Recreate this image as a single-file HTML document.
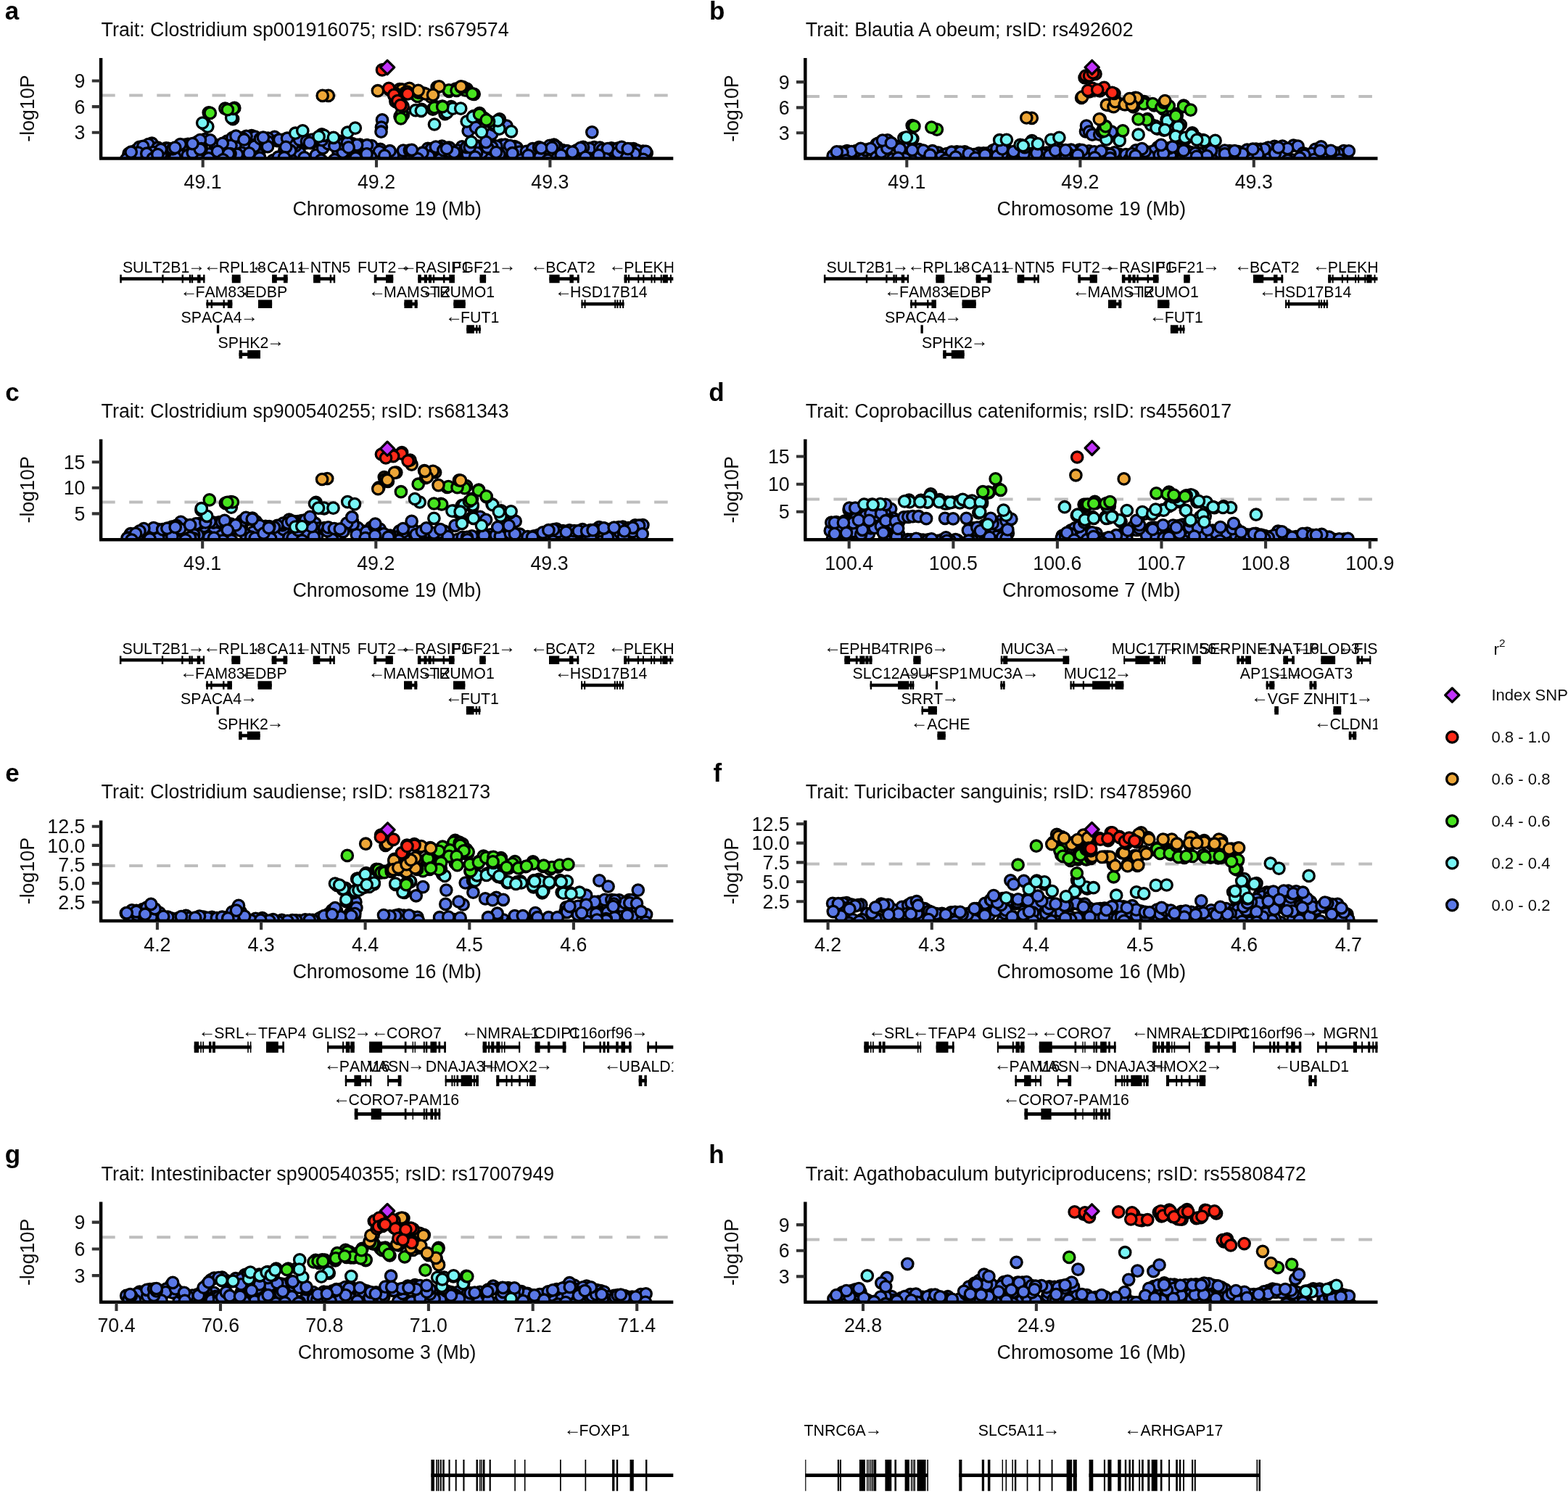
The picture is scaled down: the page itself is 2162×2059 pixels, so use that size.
<!DOCTYPE html>
<html lang="en"><head><meta charset="utf-8"><title>Regional association plots</title>
<style>
html,body{margin:0;padding:0;background:#fff}
body{width:2162px;height:2059px;overflow:hidden}
svg{display:block}
text{font-family:"Liberation Sans",Arial,Helvetica,sans-serif;fill:#000}
.pl{font-weight:700;font-size:35px}
.t,.a{font-size:26.8px;fill:#0d0d0d}
.g{font-size:21.3px;font-kerning:none}
.ar{font-size:24.0px}
.l{font-size:22.1px;fill:#0d0d0d}
.lt{font-size:22.8px;fill:#0d0d0d}
</style></head><body>
<svg width="2162" height="2059" viewBox="0 0 2162 2059">
<rect width="2162" height="2059" fill="#fff"/>
<g id="panel-a">
<text x="6.7" y="26.8" class="pl">a</text>
<text x="139.6" y="50.3" class="t">Trait: Clostridium sp001916075; rsID: rs679574</text>
<clipPath id="cpa"><rect x="140.1" y="72.0" width="788.2" height="144.9"/></clipPath>
<clipPath id="cga"><rect x="137.6" y="318.4" width="790.7" height="300"/></clipPath>
<line x1="140.1" y1="131.6" x2="928.3" y2="131.6" stroke="#bebebe" stroke-width="4" stroke-dasharray="18.6 19.5"/>
<g clip-path="url(#cpa)" stroke="#000" stroke-width="3.3">
<circle cx="519.4" cy="210.2" r="7.7" fill="#5a78e6"/>
<circle cx="557.3" cy="221.2" r="7.7" fill="#5a78e6"/>
<circle cx="466.4" cy="209.3" r="7.7" fill="#5a78e6"/>
<circle cx="709.5" cy="202.1" r="7.7" fill="#5a78e6"/>
<circle cx="712.6" cy="203.7" r="7.7" fill="#5a78e6"/>
<circle cx="313.2" cy="194.5" r="7.7" fill="#5a78e6"/>
<circle cx="846.3" cy="206.1" r="7.7" fill="#5a78e6"/>
<circle cx="738.1" cy="212.9" r="7.7" fill="#5a78e6"/>
<circle cx="283.2" cy="211.9" r="7.7" fill="#5a78e6"/>
<circle cx="472.7" cy="210.0" r="7.7" fill="#5a78e6"/>
<circle cx="296.9" cy="200.1" r="7.7" fill="#5a78e6"/>
<circle cx="272.7" cy="202.0" r="7.7" fill="#5a78e6"/>
<circle cx="589.9" cy="204.8" r="7.7" fill="#5a78e6"/>
<circle cx="408.7" cy="215.2" r="7.7" fill="#5a78e6"/>
<circle cx="459.6" cy="194.9" r="7.7" fill="#5a78e6"/>
<circle cx="177.5" cy="211.9" r="7.7" fill="#5a78e6"/>
<circle cx="391.2" cy="192.5" r="7.7" fill="#5a78e6"/>
<circle cx="320.5" cy="190.0" r="7.7" fill="#5a78e6"/>
<circle cx="429.3" cy="197.2" r="7.7" fill="#5a78e6"/>
<circle cx="869.8" cy="205.8" r="7.7" fill="#5a78e6"/>
<circle cx="744.4" cy="220.4" r="7.7" fill="#5a78e6"/>
<circle cx="250.9" cy="209.2" r="7.7" fill="#5a78e6"/>
<circle cx="226.4" cy="216.3" r="7.7" fill="#5a78e6"/>
<circle cx="549.7" cy="219.6" r="7.7" fill="#5a78e6"/>
<circle cx="209.4" cy="197.7" r="7.7" fill="#5a78e6"/>
<circle cx="466.6" cy="194.4" r="7.7" fill="#5a78e6"/>
<circle cx="788.2" cy="212.7" r="7.7" fill="#5a78e6"/>
<circle cx="486.0" cy="218.8" r="7.7" fill="#5a78e6"/>
<circle cx="620.6" cy="209.7" r="7.7" fill="#5a78e6"/>
<circle cx="344.0" cy="194.9" r="7.7" fill="#5a78e6"/>
<circle cx="665.4" cy="203.1" r="7.7" fill="#5a78e6"/>
<circle cx="337.8" cy="195.4" r="7.7" fill="#5a78e6"/>
<circle cx="781.5" cy="208.0" r="7.7" fill="#5a78e6"/>
<circle cx="585.0" cy="212.5" r="7.7" fill="#5a78e6"/>
<circle cx="200.1" cy="213.5" r="7.7" fill="#5a78e6"/>
<circle cx="720.5" cy="210.5" r="7.7" fill="#5a78e6"/>
<circle cx="279.6" cy="219.9" r="7.7" fill="#5a78e6"/>
<circle cx="378.6" cy="188.9" r="7.7" fill="#5a78e6"/>
<circle cx="369.5" cy="190.6" r="7.7" fill="#5a78e6"/>
<circle cx="637.0" cy="202.4" r="7.7" fill="#5a78e6"/>
<circle cx="346.9" cy="187.2" r="7.7" fill="#5a78e6"/>
<circle cx="351.7" cy="188.7" r="7.7" fill="#5a78e6"/>
<circle cx="204.5" cy="199.0" r="7.7" fill="#5a78e6"/>
<circle cx="841.7" cy="215.8" r="7.7" fill="#5a78e6"/>
<circle cx="364.2" cy="197.8" r="7.7" fill="#5a78e6"/>
<circle cx="413.1" cy="210.8" r="7.7" fill="#5a78e6"/>
<circle cx="326.9" cy="203.8" r="7.7" fill="#5a78e6"/>
<circle cx="254.4" cy="215.5" r="7.7" fill="#5a78e6"/>
<circle cx="659.3" cy="201.5" r="7.7" fill="#5a78e6"/>
<circle cx="182.1" cy="219.4" r="7.7" fill="#5a78e6"/>
<circle cx="217.6" cy="203.7" r="7.7" fill="#5a78e6"/>
<circle cx="855.5" cy="211.4" r="7.7" fill="#5a78e6"/>
<circle cx="297.1" cy="201.0" r="7.7" fill="#5a78e6"/>
<circle cx="631.3" cy="207.5" r="7.7" fill="#5a78e6"/>
<circle cx="229.1" cy="204.4" r="7.7" fill="#5a78e6"/>
<circle cx="556.0" cy="207.6" r="7.7" fill="#5a78e6"/>
<circle cx="691.6" cy="199.8" r="7.7" fill="#5a78e6"/>
<circle cx="401.2" cy="193.7" r="7.7" fill="#5a78e6"/>
<circle cx="447.8" cy="194.5" r="7.7" fill="#5a78e6"/>
<circle cx="754.8" cy="204.4" r="7.7" fill="#5a78e6"/>
<circle cx="661.0" cy="220.0" r="7.7" fill="#5a78e6"/>
<circle cx="311.1" cy="204.6" r="7.7" fill="#5a78e6"/>
<circle cx="763.9" cy="199.5" r="7.7" fill="#5a78e6"/>
<circle cx="567.0" cy="216.2" r="7.7" fill="#5a78e6"/>
<circle cx="775.6" cy="207.0" r="7.7" fill="#5a78e6"/>
<circle cx="299.7" cy="200.6" r="7.7" fill="#5a78e6"/>
<circle cx="819.3" cy="203.1" r="7.7" fill="#5a78e6"/>
<circle cx="517.7" cy="206.6" r="7.7" fill="#5a78e6"/>
<circle cx="407.1" cy="201.4" r="7.7" fill="#5a78e6"/>
<circle cx="421.1" cy="197.4" r="7.7" fill="#5a78e6"/>
<circle cx="376.7" cy="221.0" r="7.7" fill="#5a78e6"/>
<circle cx="188.3" cy="206.5" r="7.7" fill="#5a78e6"/>
<circle cx="769.1" cy="216.7" r="7.7" fill="#5a78e6"/>
<circle cx="767.9" cy="202.5" r="7.7" fill="#5a78e6"/>
<circle cx="253.1" cy="213.7" r="7.7" fill="#5a78e6"/>
<circle cx="357.0" cy="213.2" r="7.7" fill="#5a78e6"/>
<circle cx="467.3" cy="198.4" r="7.7" fill="#5a78e6"/>
<circle cx="782.3" cy="208.5" r="7.7" fill="#5a78e6"/>
<circle cx="696.5" cy="199.7" r="7.7" fill="#5a78e6"/>
<circle cx="638.6" cy="211.8" r="7.7" fill="#5a78e6"/>
<circle cx="708.6" cy="216.5" r="7.7" fill="#5a78e6"/>
<circle cx="691.3" cy="215.8" r="7.7" fill="#5a78e6"/>
<circle cx="716.5" cy="209.5" r="7.7" fill="#5a78e6"/>
<circle cx="339.5" cy="200.4" r="7.7" fill="#5a78e6"/>
<circle cx="232.7" cy="205.5" r="7.7" fill="#5a78e6"/>
<circle cx="239.6" cy="213.4" r="7.7" fill="#5a78e6"/>
<circle cx="595.0" cy="205.2" r="7.7" fill="#5a78e6"/>
<circle cx="524.4" cy="205.8" r="7.7" fill="#5a78e6"/>
<circle cx="410.1" cy="194.9" r="7.7" fill="#5a78e6"/>
<circle cx="744.6" cy="215.9" r="7.7" fill="#5a78e6"/>
<circle cx="664.3" cy="209.0" r="7.7" fill="#5a78e6"/>
<circle cx="211.2" cy="210.0" r="7.7" fill="#5a78e6"/>
<circle cx="392.5" cy="207.0" r="7.7" fill="#5a78e6"/>
<circle cx="891.7" cy="211.2" r="7.7" fill="#5a78e6"/>
<circle cx="757.9" cy="200.9" r="7.7" fill="#5a78e6"/>
<circle cx="259.3" cy="198.8" r="7.7" fill="#5a78e6"/>
<circle cx="403.1" cy="200.3" r="7.7" fill="#5a78e6"/>
<circle cx="812.9" cy="204.7" r="7.7" fill="#5a78e6"/>
<circle cx="672.2" cy="219.9" r="7.7" fill="#5a78e6"/>
<circle cx="413.1" cy="192.7" r="7.7" fill="#5a78e6"/>
<circle cx="530.1" cy="211.6" r="7.7" fill="#5a78e6"/>
<circle cx="698.4" cy="210.3" r="7.7" fill="#5a78e6"/>
<circle cx="878.7" cy="207.5" r="7.7" fill="#5a78e6"/>
<circle cx="488.8" cy="214.9" r="7.7" fill="#5a78e6"/>
<circle cx="254.1" cy="199.8" r="7.7" fill="#5a78e6"/>
<circle cx="434.8" cy="191.9" r="7.7" fill="#5a78e6"/>
<circle cx="382.4" cy="194.2" r="7.7" fill="#5a78e6"/>
<circle cx="640.0" cy="208.4" r="7.7" fill="#5a78e6"/>
<circle cx="827.2" cy="203.6" r="7.7" fill="#5a78e6"/>
<circle cx="400.3" cy="207.7" r="7.7" fill="#5a78e6"/>
<circle cx="730.7" cy="209.4" r="7.7" fill="#5a78e6"/>
<circle cx="241.4" cy="217.0" r="7.7" fill="#5a78e6"/>
<circle cx="192.2" cy="202.8" r="7.7" fill="#5a78e6"/>
<circle cx="333.4" cy="210.8" r="7.7" fill="#5a78e6"/>
<circle cx="798.2" cy="218.4" r="7.7" fill="#5a78e6"/>
<circle cx="843.0" cy="204.3" r="7.7" fill="#5a78e6"/>
<circle cx="804.1" cy="202.9" r="7.7" fill="#5a78e6"/>
<circle cx="845.3" cy="207.6" r="7.7" fill="#5a78e6"/>
<circle cx="512.4" cy="201.1" r="7.7" fill="#5a78e6"/>
<circle cx="533.7" cy="214.0" r="7.7" fill="#5a78e6"/>
<circle cx="288.1" cy="212.4" r="7.7" fill="#5a78e6"/>
<circle cx="205.5" cy="220.2" r="7.7" fill="#5a78e6"/>
<circle cx="764.5" cy="201.2" r="7.7" fill="#5a78e6"/>
<circle cx="232.3" cy="204.8" r="7.7" fill="#5a78e6"/>
<circle cx="886.7" cy="208.6" r="7.7" fill="#5a78e6"/>
<circle cx="813.2" cy="218.6" r="7.7" fill="#5a78e6"/>
<circle cx="664.3" cy="210.4" r="7.7" fill="#5a78e6"/>
<circle cx="369.1" cy="195.3" r="7.7" fill="#5a78e6"/>
<circle cx="339.5" cy="187.8" r="7.7" fill="#5a78e6"/>
<circle cx="726.2" cy="221.1" r="7.7" fill="#5a78e6"/>
<circle cx="601.4" cy="203.3" r="7.7" fill="#5a78e6"/>
<circle cx="873.4" cy="205.0" r="7.7" fill="#5a78e6"/>
<circle cx="358.1" cy="217.7" r="7.7" fill="#5a78e6"/>
<circle cx="542.0" cy="214.4" r="7.7" fill="#5a78e6"/>
<circle cx="452.6" cy="193.6" r="7.7" fill="#5a78e6"/>
<circle cx="429.2" cy="192.9" r="7.7" fill="#5a78e6"/>
<circle cx="318.5" cy="200.7" r="7.7" fill="#5a78e6"/>
<circle cx="271.7" cy="195.9" r="7.7" fill="#5a78e6"/>
<circle cx="627.7" cy="212.5" r="7.7" fill="#5a78e6"/>
<circle cx="725.9" cy="208.8" r="7.7" fill="#5a78e6"/>
<circle cx="609.4" cy="201.6" r="7.7" fill="#5a78e6"/>
<circle cx="282.6" cy="192.1" r="7.7" fill="#5a78e6"/>
<circle cx="327.0" cy="212.7" r="7.7" fill="#5a78e6"/>
<circle cx="594.2" cy="214.8" r="7.7" fill="#5a78e6"/>
<circle cx="605.2" cy="203.7" r="7.7" fill="#5a78e6"/>
<circle cx="703.2" cy="201.0" r="7.7" fill="#5a78e6"/>
<circle cx="718.2" cy="220.5" r="7.7" fill="#5a78e6"/>
<circle cx="496.2" cy="199.6" r="7.7" fill="#5a78e6"/>
<circle cx="878.1" cy="207.7" r="7.7" fill="#5a78e6"/>
<circle cx="383.6" cy="216.7" r="7.7" fill="#5a78e6"/>
<circle cx="287.6" cy="218.4" r="7.7" fill="#5a78e6"/>
<circle cx="317.5" cy="212.1" r="7.7" fill="#5a78e6"/>
<circle cx="197.2" cy="201.9" r="7.7" fill="#5a78e6"/>
<circle cx="315.0" cy="212.0" r="7.7" fill="#5a78e6"/>
<circle cx="422.9" cy="194.9" r="7.7" fill="#5a78e6"/>
<circle cx="679.5" cy="200.6" r="7.7" fill="#5a78e6"/>
<circle cx="684.4" cy="201.5" r="7.7" fill="#5a78e6"/>
<circle cx="351.5" cy="199.8" r="7.7" fill="#5a78e6"/>
<circle cx="369.0" cy="202.2" r="7.7" fill="#5a78e6"/>
<circle cx="688.3" cy="212.9" r="7.7" fill="#5a78e6"/>
<circle cx="485.7" cy="198.1" r="7.7" fill="#5a78e6"/>
<circle cx="830.8" cy="206.3" r="7.7" fill="#5a78e6"/>
<circle cx="258.6" cy="214.6" r="7.7" fill="#5a78e6"/>
<circle cx="644.7" cy="212.5" r="7.7" fill="#5a78e6"/>
<circle cx="818.9" cy="220.5" r="7.7" fill="#5a78e6"/>
<circle cx="523.0" cy="209.0" r="7.7" fill="#5a78e6"/>
<circle cx="643.3" cy="203.0" r="7.7" fill="#5a78e6"/>
<circle cx="306.8" cy="197.8" r="7.7" fill="#5a78e6"/>
<circle cx="385.2" cy="192.6" r="7.7" fill="#5a78e6"/>
<circle cx="435.8" cy="213.9" r="7.7" fill="#5a78e6"/>
<circle cx="289.9" cy="193.3" r="7.7" fill="#5a78e6"/>
<circle cx="396.0" cy="190.7" r="7.7" fill="#5a78e6"/>
<circle cx="734.4" cy="205.2" r="7.7" fill="#5a78e6"/>
<circle cx="473.2" cy="198.6" r="7.7" fill="#5a78e6"/>
<circle cx="678.3" cy="202.8" r="7.7" fill="#5a78e6"/>
<circle cx="537.5" cy="208.2" r="7.7" fill="#5a78e6"/>
<circle cx="350.8" cy="201.9" r="7.7" fill="#5a78e6"/>
<circle cx="272.4" cy="212.4" r="7.7" fill="#5a78e6"/>
<circle cx="705.3" cy="217.2" r="7.7" fill="#5a78e6"/>
<circle cx="743.1" cy="203.2" r="7.7" fill="#5a78e6"/>
<circle cx="275.9" cy="193.1" r="7.7" fill="#5a78e6"/>
<circle cx="238.1" cy="205.3" r="7.7" fill="#5a78e6"/>
<circle cx="617.3" cy="203.8" r="7.7" fill="#5a78e6"/>
<circle cx="728.4" cy="214.4" r="7.7" fill="#5a78e6"/>
<circle cx="505.9" cy="200.2" r="7.7" fill="#5a78e6"/>
<circle cx="794.9" cy="207.4" r="7.7" fill="#5a78e6"/>
<circle cx="394.2" cy="202.8" r="7.7" fill="#5a78e6"/>
<circle cx="190.4" cy="210.6" r="7.7" fill="#5a78e6"/>
<circle cx="869.0" cy="205.6" r="7.7" fill="#5a78e6"/>
<circle cx="851.8" cy="204.6" r="7.7" fill="#5a78e6"/>
<circle cx="492.1" cy="199.9" r="7.7" fill="#5a78e6"/>
<circle cx="591.3" cy="215.6" r="7.7" fill="#5a78e6"/>
<circle cx="829.6" cy="217.8" r="7.7" fill="#5a78e6"/>
<circle cx="890.6" cy="208.8" r="7.7" fill="#5a78e6"/>
<circle cx="654.2" cy="200.9" r="7.7" fill="#5a78e6"/>
<circle cx="773.6" cy="214.1" r="7.7" fill="#5a78e6"/>
<circle cx="442.9" cy="220.8" r="7.7" fill="#5a78e6"/>
<circle cx="606.9" cy="219.9" r="7.7" fill="#5a78e6"/>
<circle cx="202.3" cy="211.7" r="7.7" fill="#5a78e6"/>
<circle cx="222.2" cy="212.6" r="7.7" fill="#5a78e6"/>
<circle cx="886.8" cy="219.8" r="7.7" fill="#5a78e6"/>
<circle cx="333.6" cy="190.2" r="7.7" fill="#5a78e6"/>
<circle cx="657.2" cy="210.8" r="7.7" fill="#5a78e6"/>
<circle cx="325.4" cy="187.6" r="7.7" fill="#5a78e6"/>
<circle cx="647.7" cy="202.9" r="7.7" fill="#5a78e6"/>
<circle cx="619.7" cy="203.7" r="7.7" fill="#5a78e6"/>
<circle cx="265.9" cy="203.6" r="7.7" fill="#5a78e6"/>
<circle cx="248.6" cy="199.0" r="7.7" fill="#5a78e6"/>
<circle cx="343.6" cy="211.3" r="7.7" fill="#5a78e6"/>
<circle cx="800.3" cy="204.1" r="7.7" fill="#5a78e6"/>
<circle cx="461.5" cy="220.3" r="7.7" fill="#5a78e6"/>
<circle cx="210.8" cy="218.7" r="7.7" fill="#5a78e6"/>
<circle cx="672.0" cy="203.3" r="7.7" fill="#5a78e6"/>
<circle cx="837.9" cy="205.0" r="7.7" fill="#5a78e6"/>
<circle cx="448.8" cy="195.3" r="7.7" fill="#5a78e6"/>
<circle cx="600.9" cy="202.6" r="7.7" fill="#5a78e6"/>
<circle cx="746.3" cy="204.3" r="7.7" fill="#5a78e6"/>
<circle cx="706.5" cy="211.2" r="7.7" fill="#5a78e6"/>
<circle cx="478.8" cy="196.8" r="7.7" fill="#5a78e6"/>
<circle cx="684.1" cy="210.0" r="7.7" fill="#5a78e6"/>
<circle cx="300.0" cy="208.9" r="7.7" fill="#5a78e6"/>
<circle cx="277.7" cy="205.1" r="7.7" fill="#5a78e6"/>
<circle cx="265.7" cy="210.6" r="7.7" fill="#5a78e6"/>
<circle cx="511.1" cy="216.7" r="7.7" fill="#5a78e6"/>
<circle cx="611.4" cy="207.2" r="7.7" fill="#5a78e6"/>
<circle cx="391.9" cy="217.2" r="7.7" fill="#5a78e6"/>
<circle cx="359.0" cy="191.2" r="7.7" fill="#5a78e6"/>
<circle cx="564.8" cy="207.3" r="7.7" fill="#5a78e6"/>
<circle cx="530.3" cy="214.6" r="7.7" fill="#5a78e6"/>
<circle cx="582.5" cy="210.7" r="7.7" fill="#5a78e6"/>
<circle cx="575.8" cy="219.1" r="7.7" fill="#5a78e6"/>
<circle cx="336.5" cy="192.5" r="7.7" fill="#5a78e6"/>
<circle cx="221.8" cy="206.1" r="7.7" fill="#5a78e6"/>
<circle cx="217.4" cy="213.1" r="7.7" fill="#5a78e6"/>
<circle cx="626.1" cy="210.0" r="7.7" fill="#5a78e6"/>
<circle cx="307.5" cy="220.4" r="7.7" fill="#5a78e6"/>
<circle cx="480.6" cy="203.4" r="7.7" fill="#5a78e6"/>
<circle cx="852.0" cy="210.5" r="7.7" fill="#5a78e6"/>
<circle cx="497.3" cy="217.7" r="7.7" fill="#5a78e6"/>
<circle cx="755.4" cy="220.9" r="7.7" fill="#5a78e6"/>
<circle cx="874.7" cy="212.1" r="7.7" fill="#5a78e6"/>
<circle cx="567.8" cy="206.8" r="7.7" fill="#5a78e6"/>
<circle cx="426.8" cy="196.9" r="7.7" fill="#5a78e6"/>
<circle cx="761.1" cy="203.6" r="7.7" fill="#5a78e6"/>
<circle cx="616.0" cy="205.0" r="7.7" fill="#5a78e6"/>
<circle cx="174.2" cy="219.8" r="7.7" fill="#5a78e6"/>
<circle cx="362.9" cy="189.6" r="7.7" fill="#5a78e6"/>
<circle cx="445.1" cy="204.3" r="7.7" fill="#5a78e6"/>
<circle cx="834.9" cy="219.0" r="7.7" fill="#5a78e6"/>
<circle cx="241.3" cy="203.6" r="7.7" fill="#5a78e6"/>
<circle cx="864.2" cy="217.6" r="7.7" fill="#5a78e6"/>
<circle cx="452.6" cy="198.2" r="7.7" fill="#5a78e6"/>
<circle cx="180.7" cy="209.7" r="7.7" fill="#5a78e6"/>
<circle cx="807.3" cy="216.9" r="7.7" fill="#5a78e6"/>
<circle cx="825.5" cy="214.1" r="7.7" fill="#5a78e6"/>
<circle cx="857.2" cy="202.8" r="7.7" fill="#5a78e6"/>
<circle cx="275.8" cy="205.8" r="7.7" fill="#5a78e6"/>
<circle cx="461.4" cy="201.2" r="7.7" fill="#5a78e6"/>
<circle cx="443.9" cy="193.1" r="7.7" fill="#5a78e6"/>
<circle cx="490.4" cy="217.9" r="7.7" fill="#5a78e6"/>
<circle cx="865.8" cy="205.1" r="7.7" fill="#5a78e6"/>
<circle cx="265.4" cy="198.1" r="7.7" fill="#5a78e6"/>
<circle cx="505.5" cy="212.4" r="7.7" fill="#5a78e6"/>
<circle cx="789.2" cy="209.6" r="7.7" fill="#5a78e6"/>
<circle cx="655.1" cy="216.6" r="7.7" fill="#5a78e6"/>
<circle cx="419.7" cy="217.3" r="7.7" fill="#5a78e6"/>
<circle cx="527.0" cy="165.4" r="7.7" fill="#5a78e6"/>
<circle cx="525.9" cy="175.6" r="7.7" fill="#5a78e6"/>
<circle cx="525.5" cy="181.7" r="7.7" fill="#5a78e6"/>
<circle cx="645.7" cy="180.7" r="7.7" fill="#5a78e6"/>
<circle cx="678.2" cy="184.7" r="7.7" fill="#5a78e6"/>
<circle cx="670.1" cy="195.9" r="7.7" fill="#5a78e6"/>
<circle cx="655.9" cy="175.6" r="7.7" fill="#5a78e6"/>
<circle cx="698.5" cy="173.6" r="7.7" fill="#5a78e6"/>
<circle cx="816.3" cy="182.3" r="7.7" fill="#5a78e6"/>
<circle cx="283.4" cy="172.2" r="7.7" fill="#78f5f5"/>
<circle cx="280.3" cy="170.1" r="7.7" fill="#78f5f5"/>
<circle cx="321.1" cy="164.2" r="7.7" fill="#78f5f5"/>
<circle cx="443.7" cy="185.3" r="7.7" fill="#78f5f5"/>
<circle cx="581.3" cy="150.9" r="7.7" fill="#78f5f5"/>
<circle cx="613.5" cy="157.1" r="7.7" fill="#78f5f5"/>
<circle cx="622.1" cy="147.1" r="7.7" fill="#78f5f5"/>
<circle cx="653.1" cy="160.2" r="7.7" fill="#78f5f5"/>
<circle cx="680.7" cy="172.4" r="7.7" fill="#78f5f5"/>
<circle cx="686.2" cy="175.3" r="7.7" fill="#78f5f5"/>
<circle cx="688.8" cy="164.4" r="7.7" fill="#78f5f5"/>
<circle cx="286.3" cy="174.6" r="7.7" fill="#78f5f5"/>
<circle cx="279.2" cy="169.5" r="7.7" fill="#78f5f5"/>
<circle cx="319.2" cy="162.4" r="7.7" fill="#78f5f5"/>
<circle cx="407.2" cy="183.7" r="7.7" fill="#78f5f5"/>
<circle cx="417.3" cy="180.3" r="7.7" fill="#78f5f5"/>
<circle cx="446.8" cy="186.8" r="7.7" fill="#78f5f5"/>
<circle cx="439.6" cy="188.4" r="7.7" fill="#78f5f5"/>
<circle cx="459.9" cy="189.8" r="7.7" fill="#78f5f5"/>
<circle cx="479.2" cy="182.7" r="7.7" fill="#78f5f5"/>
<circle cx="489.8" cy="176.6" r="7.7" fill="#78f5f5"/>
<circle cx="573.0" cy="152.2" r="7.7" fill="#78f5f5"/>
<circle cx="580.8" cy="152.8" r="7.7" fill="#78f5f5"/>
<circle cx="599.0" cy="171.5" r="7.7" fill="#78f5f5"/>
<circle cx="616.3" cy="155.3" r="7.7" fill="#78f5f5"/>
<circle cx="624.4" cy="149.6" r="7.7" fill="#78f5f5"/>
<circle cx="635.2" cy="149.6" r="7.7" fill="#78f5f5"/>
<circle cx="643.7" cy="167.5" r="7.7" fill="#78f5f5"/>
<circle cx="651.8" cy="161.4" r="7.7" fill="#78f5f5"/>
<circle cx="680.3" cy="170.5" r="7.7" fill="#78f5f5"/>
<circle cx="688.4" cy="177.6" r="7.7" fill="#78f5f5"/>
<circle cx="705.0" cy="181.3" r="7.7" fill="#78f5f5"/>
<circle cx="664.0" cy="182.1" r="7.7" fill="#78f5f5"/>
<circle cx="649.8" cy="195.9" r="7.7" fill="#78f5f5"/>
<circle cx="686.3" cy="166.4" r="7.7" fill="#78f5f5"/>
<circle cx="287.7" cy="155.3" r="7.7" fill="#47e41f"/>
<circle cx="323.3" cy="148.9" r="7.7" fill="#47e41f"/>
<circle cx="310.4" cy="149.6" r="7.7" fill="#47e41f"/>
<circle cx="619.1" cy="126.0" r="7.7" fill="#47e41f"/>
<circle cx="628.2" cy="122.7" r="7.7" fill="#47e41f"/>
<circle cx="643.7" cy="122.6" r="7.7" fill="#47e41f"/>
<circle cx="653.7" cy="129.8" r="7.7" fill="#47e41f"/>
<circle cx="575.7" cy="131.3" r="7.7" fill="#47e41f"/>
<circle cx="572.9" cy="130.7" r="7.7" fill="#47e41f"/>
<circle cx="555.9" cy="158.4" r="7.7" fill="#47e41f"/>
<circle cx="551.5" cy="160.7" r="7.7" fill="#47e41f"/>
<circle cx="596.8" cy="150.6" r="7.7" fill="#47e41f"/>
<circle cx="601.6" cy="147.3" r="7.7" fill="#47e41f"/>
<circle cx="609.9" cy="146.5" r="7.7" fill="#47e41f"/>
<circle cx="661.2" cy="156.2" r="7.7" fill="#47e41f"/>
<circle cx="667.5" cy="162.9" r="7.7" fill="#47e41f"/>
<circle cx="674.1" cy="167.5" r="7.7" fill="#47e41f"/>
<circle cx="289.8" cy="155.9" r="7.7" fill="#47e41f"/>
<circle cx="321.9" cy="149.8" r="7.7" fill="#47e41f"/>
<circle cx="313.8" cy="151.2" r="7.7" fill="#47e41f"/>
<circle cx="618.9" cy="124.4" r="7.7" fill="#47e41f"/>
<circle cx="629.5" cy="124.8" r="7.7" fill="#47e41f"/>
<circle cx="641.7" cy="124.4" r="7.7" fill="#47e41f"/>
<circle cx="651.2" cy="129.3" r="7.7" fill="#47e41f"/>
<circle cx="575.7" cy="132.9" r="7.7" fill="#47e41f"/>
<circle cx="554.0" cy="156.3" r="7.7" fill="#47e41f"/>
<circle cx="552.7" cy="163.4" r="7.7" fill="#47e41f"/>
<circle cx="599.0" cy="148.2" r="7.7" fill="#47e41f"/>
<circle cx="610.2" cy="147.2" r="7.7" fill="#47e41f"/>
<circle cx="661.0" cy="157.7" r="7.7" fill="#47e41f"/>
<circle cx="670.7" cy="165.4" r="7.7" fill="#47e41f"/>
<circle cx="553.9" cy="123.4" r="7.7" fill="#eda637"/>
<circle cx="551.0" cy="123.1" r="7.7" fill="#eda637"/>
<circle cx="561.2" cy="123.4" r="7.7" fill="#eda637"/>
<circle cx="563.1" cy="124.1" r="7.7" fill="#eda637"/>
<circle cx="584.4" cy="128.5" r="7.7" fill="#eda637"/>
<circle cx="602.6" cy="120.2" r="7.7" fill="#eda637"/>
<circle cx="638.5" cy="120.1" r="7.7" fill="#eda637"/>
<circle cx="636.0" cy="120.1" r="7.7" fill="#eda637"/>
<circle cx="594.3" cy="133.7" r="7.7" fill="#eda637"/>
<circle cx="578.1" cy="127.3" r="7.7" fill="#eda637"/>
<circle cx="576.8" cy="127.6" r="7.7" fill="#eda637"/>
<circle cx="452.8" cy="131.9" r="7.7" fill="#eda637"/>
<circle cx="444.7" cy="131.9" r="7.7" fill="#eda637"/>
<circle cx="520.9" cy="125.2" r="7.7" fill="#eda637"/>
<circle cx="554.4" cy="123.8" r="7.7" fill="#eda637"/>
<circle cx="564.5" cy="121.8" r="7.7" fill="#eda637"/>
<circle cx="586.9" cy="129.5" r="7.7" fill="#eda637"/>
<circle cx="605.5" cy="119.3" r="7.7" fill="#eda637"/>
<circle cx="635.6" cy="119.3" r="7.7" fill="#eda637"/>
<circle cx="597.0" cy="130.9" r="7.7" fill="#eda637"/>
<circle cx="576.7" cy="124.8" r="7.7" fill="#eda637"/>
<circle cx="537.3" cy="123.9" r="7.7" fill="#ff2a18"/>
<circle cx="543.9" cy="132.4" r="7.7" fill="#ff2a18"/>
<circle cx="546.2" cy="129.6" r="7.7" fill="#ff2a18"/>
<circle cx="545.1" cy="136.3" r="7.7" fill="#ff2a18"/>
<circle cx="545.4" cy="140.0" r="7.7" fill="#ff2a18"/>
<circle cx="559.2" cy="127.5" r="7.7" fill="#ff2a18"/>
<circle cx="561.2" cy="126.6" r="7.7" fill="#ff2a18"/>
<circle cx="554.1" cy="144.8" r="7.7" fill="#ff2a18"/>
<circle cx="555.7" cy="146.9" r="7.7" fill="#ff2a18"/>
<circle cx="527.0" cy="96.4" r="7.7" fill="#ff2a18"/>
<circle cx="536.1" cy="121.8" r="7.7" fill="#ff2a18"/>
<circle cx="543.2" cy="130.9" r="7.7" fill="#ff2a18"/>
<circle cx="548.3" cy="139.0" r="7.7" fill="#ff2a18"/>
<circle cx="562.1" cy="129.5" r="7.7" fill="#ff2a18"/>
<circle cx="552.3" cy="145.1" r="7.7" fill="#ff2a18"/>
<path d="M534.1 83.3L543.7 92.9L534.1 102.5L524.5 92.9Z" fill="#c132fb" stroke="#000" stroke-width="3.3" stroke-linejoin="round"/>
</g>
<path d="M139.1 80.0V218.4M137.0 218.4H928.3" stroke="#000" stroke-width="4.5" fill="none"/>
<text x="117.5" y="121.1" class="a" text-anchor="end">9</text>
<text x="117.5" y="156.7" class="a" text-anchor="end">6</text>
<text x="117.5" y="192.4" class="a" text-anchor="end">3</text>
<text x="279.7" y="259.9" class="a" text-anchor="middle">49.1</text>
<text x="519.0" y="259.9" class="a" text-anchor="middle">49.2</text>
<text x="758.4" y="259.9" class="a" text-anchor="middle">49.3</text>
<path d="M126.8 111.5H138.1M126.8 147.1H138.1M126.8 182.8H138.1M279.7 219.4V230.7M519.0 219.4V230.7M758.4 219.4V230.7" stroke="#333" stroke-width="4.1" fill="none"/>
<text x="533.7" y="296.9" class="a" text-anchor="middle">Chromosome 19 (Mb)</text>
<text transform="translate(46.8 149.5) rotate(-90)" class="a" text-anchor="middle">-log10P</text>
<g clip-path="url(#cga)">
<text x="168.9" y="375.7" class="g">SULT2B1<tspan class="ar" dx="-2.3" dy="-1.6">→</tspan></text>
<text x="280.7" y="375.7" class="g"><tspan class="ar" dy="-1.6">←</tspan><tspan dx="-3.0" dy="1.6">RPL18</tspan></text>
<text x="346.5" y="375.7" class="g"><tspan class="ar" dy="-1.6">←</tspan><tspan dx="-2.4" dy="1.6">CA11</tspan></text>
<text x="406.8" y="375.7" class="g"><tspan class="ar" dy="-1.6">←</tspan><tspan dx="-3.0" dy="1.6">NTN5</tspan></text>
<text x="493.1" y="375.7" class="g">FUT2<tspan class="ar" dx="-2.4" dy="-1.6">→</tspan></text>
<text x="551.3" y="375.7" class="g"><tspan class="ar" dy="-1.6">←</tspan><tspan dx="-3.0" dy="1.6">RASIP1</tspan></text>
<text x="623.4" y="375.7" class="g">FGF21<tspan class="ar" dx="-2.3" dy="-1.6">→</tspan></text>
<text x="731.3" y="375.7" class="g"><tspan class="ar" dy="-1.6">←</tspan><tspan dx="-3.0" dy="1.6">BCAT2</tspan></text>
<text x="839.2" y="375.7" class="g"><tspan class="ar" dy="-1.6">←</tspan><tspan dx="-3.0" dy="1.6">PLEKHA4</tspan></text>
<text x="248.4" y="410.4" class="g"><tspan class="ar" dy="-1.6">←</tspan><tspan dx="-3.0" dy="1.6">FAM83E</tspan></text>
<text x="331.3" y="410.4" class="g"><tspan class="ar" dy="-1.6">←</tspan><tspan dx="-3.0" dy="1.6">DBP</tspan></text>
<text x="508.0" y="410.4" class="g"><tspan class="ar" dy="-1.6">←</tspan><tspan dx="-3.0" dy="1.6">MAMSTR</tspan></text>
<text x="581.0" y="410.4" class="g"><tspan class="ar" dy="-1.6">←</tspan><tspan dx="-3.3" dy="1.6">IZUMO1</tspan></text>
<text x="765.1" y="410.4" class="g"><tspan class="ar" dy="-1.6">←</tspan><tspan dx="-3.0" dy="1.6">HSD17B14</tspan></text>
<text x="249.5" y="445.2" class="g">SPACA4<tspan class="ar" dx="-1.9" dy="-1.6">→</tspan></text>
<text x="614.1" y="445.2" class="g"><tspan class="ar" dy="-1.6">←</tspan><tspan dx="-3.0" dy="1.6">FUT1</tspan></text>
<text x="300.5" y="479.9" class="g">SPHK2<tspan class="ar" dx="-2.4" dy="-1.6">→</tspan></text>
<path d="M165.5 384.5H282.3M319.8 384.5H331.6M375.1 384.5H396.6M432.1 384.5H462.0M515.8 384.5H542.2M576.3 384.5H626.9M661.6 384.5H670.1M757.4 384.5H798.6M860.6 384.5H938.9M284.3 419.2H320.3M356.0 419.2H375.1M557.4 419.2H575.7M625.4 419.2H641.7M801.5 419.2H860.6M643.3 454.0H663.0M329.6 488.8H359.0" stroke="#000" stroke-width="4.4" fill="none"/>
<path d="M165.3 378.7H167.8V390.3H165.3ZM223.2 378.7H225.6V390.3H223.2ZM250.6 378.7H253.0V390.3H250.6ZM260.8 378.7H263.2V390.3H260.8ZM263.8 378.7H266.2V390.3H263.8ZM280.1 378.7H282.5V390.3H280.1ZM272.1 378.7H276.6V390.3H272.1ZM319.8 378.7H331.6V390.3H319.8ZM375.1 378.7H381.8V390.3H375.1ZM390.9 378.7H396.6V390.3H390.9ZM432.1 378.7H441.7V390.3H432.1ZM454.7 378.7H457.1V390.3H454.7ZM459.7 378.7H462.2V390.3H459.7ZM515.8 378.7H519.4V390.3H515.8ZM532.0 378.7H542.2V390.3H532.0ZM576.3 378.7H580.8V390.3H576.3ZM584.8 378.7H588.9V390.3H584.8ZM590.9 378.7H595.0V390.3H590.9ZM619.3 378.7H626.9V390.3H619.3ZM596.8 378.7H599.2V390.3H596.8ZM611.0 378.7H613.5V390.3H611.0ZM661.6 378.7H670.1V390.3H661.6ZM757.4 378.7H771.6V390.3H757.4ZM785.4 378.7H790.9V390.3H785.4ZM795.8 378.7H798.6V390.3H795.8ZM860.6 378.7H864.6V390.3H860.6ZM913.8 378.7H920.9V390.3H913.8ZM866.0 378.7H868.1V390.3H866.0ZM879.2 378.7H881.3V390.3H879.2ZM886.3 378.7H888.4V390.3H886.3ZM897.5 378.7H899.5V390.3H897.5ZM901.6 378.7H903.6V390.3H901.6ZM910.7 378.7H912.7V390.3H910.7ZM923.9 378.7H925.9V390.3H923.9ZM284.7 413.4H287.2V425.1H284.7ZM290.6 413.4H293.0V425.1H290.6ZM307.5 413.4H309.9V425.1H307.5ZM313.8 413.4H320.3V425.1H313.8ZM356.0 413.4H375.1V425.1H356.0ZM557.4 413.4H568.6V425.1H557.4ZM571.6 413.4H575.7V425.1H571.6ZM625.4 413.4H641.7V425.1H625.4ZM801.5 413.4H803.5V425.1H801.5ZM805.5 413.4H807.6V425.1H805.5ZM847.2 413.4H849.2V425.1H847.2ZM850.4 413.4H852.4V425.1H850.4ZM854.3 413.4H856.3V425.1H854.3ZM858.1 413.4H860.2V425.1H858.1ZM298.9 448.2H302.2V459.8H298.9ZM643.3 448.2H653.9V459.8H643.3ZM656.1 448.2H658.5V459.8H656.1ZM660.2 448.2H662.6V459.8H660.2ZM329.6 482.9H334.1V494.6H329.6ZM341.2 482.9H359.0V494.6H341.2Z" fill="#000"/>
</g>
</g>
<g id="panel-b">
<text x="978.0" y="26.8" class="pl">b</text>
<text x="1110.8" y="50.3" class="t">Trait: Blautia A obeum; rsID: rs492602</text>
<clipPath id="cpb"><rect x="1111.3" y="72.0" width="788.2" height="144.9"/></clipPath>
<clipPath id="cgb"><rect x="1108.8" y="318.4" width="790.7" height="300"/></clipPath>
<line x1="1111.3" y1="133.1" x2="1899.5" y2="133.1" stroke="#bebebe" stroke-width="4" stroke-dasharray="18.6 19.5"/>
<g clip-path="url(#cpb)" stroke="#000" stroke-width="3.3">
<circle cx="1349.7" cy="211.3" r="7.7" fill="#5a78e6"/>
<circle cx="1573.3" cy="216.8" r="7.7" fill="#5a78e6"/>
<circle cx="1659.6" cy="211.2" r="7.7" fill="#5a78e6"/>
<circle cx="1853.1" cy="215.9" r="7.7" fill="#5a78e6"/>
<circle cx="1276.7" cy="218.2" r="7.7" fill="#5a78e6"/>
<circle cx="1579.1" cy="212.1" r="7.7" fill="#5a78e6"/>
<circle cx="1609.1" cy="216.1" r="7.7" fill="#5a78e6"/>
<circle cx="1208.6" cy="198.9" r="7.7" fill="#5a78e6"/>
<circle cx="1852.7" cy="208.1" r="7.7" fill="#5a78e6"/>
<circle cx="1195.4" cy="206.6" r="7.7" fill="#5a78e6"/>
<circle cx="1621.3" cy="203.5" r="7.7" fill="#5a78e6"/>
<circle cx="1436.4" cy="212.2" r="7.7" fill="#5a78e6"/>
<circle cx="1293.8" cy="210.6" r="7.7" fill="#5a78e6"/>
<circle cx="1440.4" cy="214.3" r="7.7" fill="#5a78e6"/>
<circle cx="1174.4" cy="215.8" r="7.7" fill="#5a78e6"/>
<circle cx="1329.2" cy="216.6" r="7.7" fill="#5a78e6"/>
<circle cx="1416.0" cy="214.7" r="7.7" fill="#5a78e6"/>
<circle cx="1738.2" cy="205.8" r="7.7" fill="#5a78e6"/>
<circle cx="1813.7" cy="205.8" r="7.7" fill="#5a78e6"/>
<circle cx="1707.2" cy="209.1" r="7.7" fill="#5a78e6"/>
<circle cx="1188.6" cy="213.4" r="7.7" fill="#5a78e6"/>
<circle cx="1783.6" cy="200.7" r="7.7" fill="#5a78e6"/>
<circle cx="1200.7" cy="205.9" r="7.7" fill="#5a78e6"/>
<circle cx="1621.5" cy="205.8" r="7.7" fill="#5a78e6"/>
<circle cx="1726.1" cy="209.9" r="7.7" fill="#5a78e6"/>
<circle cx="1789.6" cy="201.5" r="7.7" fill="#5a78e6"/>
<circle cx="1167.9" cy="208.1" r="7.7" fill="#5a78e6"/>
<circle cx="1676.6" cy="216.7" r="7.7" fill="#5a78e6"/>
<circle cx="1566.2" cy="207.4" r="7.7" fill="#5a78e6"/>
<circle cx="1745.2" cy="217.7" r="7.7" fill="#5a78e6"/>
<circle cx="1299.5" cy="214.4" r="7.7" fill="#5a78e6"/>
<circle cx="1390.1" cy="208.7" r="7.7" fill="#5a78e6"/>
<circle cx="1443.3" cy="210.6" r="7.7" fill="#5a78e6"/>
<circle cx="1677.7" cy="210.4" r="7.7" fill="#5a78e6"/>
<circle cx="1242.1" cy="207.3" r="7.7" fill="#5a78e6"/>
<circle cx="1768.9" cy="211.8" r="7.7" fill="#5a78e6"/>
<circle cx="1801.0" cy="212.7" r="7.7" fill="#5a78e6"/>
<circle cx="1210.9" cy="197.5" r="7.7" fill="#5a78e6"/>
<circle cx="1264.6" cy="208.9" r="7.7" fill="#5a78e6"/>
<circle cx="1361.6" cy="211.3" r="7.7" fill="#5a78e6"/>
<circle cx="1837.6" cy="212.9" r="7.7" fill="#5a78e6"/>
<circle cx="1749.4" cy="204.4" r="7.7" fill="#5a78e6"/>
<circle cx="1369.2" cy="207.3" r="7.7" fill="#5a78e6"/>
<circle cx="1448.9" cy="210.1" r="7.7" fill="#5a78e6"/>
<circle cx="1237.5" cy="202.1" r="7.7" fill="#5a78e6"/>
<circle cx="1695.3" cy="208.0" r="7.7" fill="#5a78e6"/>
<circle cx="1643.7" cy="211.2" r="7.7" fill="#5a78e6"/>
<circle cx="1193.2" cy="206.9" r="7.7" fill="#5a78e6"/>
<circle cx="1614.0" cy="213.6" r="7.7" fill="#5a78e6"/>
<circle cx="1319.4" cy="209.3" r="7.7" fill="#5a78e6"/>
<circle cx="1151.6" cy="217.9" r="7.7" fill="#5a78e6"/>
<circle cx="1159.1" cy="218.5" r="7.7" fill="#5a78e6"/>
<circle cx="1223.8" cy="193.3" r="7.7" fill="#5a78e6"/>
<circle cx="1330.2" cy="209.4" r="7.7" fill="#5a78e6"/>
<circle cx="1279.8" cy="210.1" r="7.7" fill="#5a78e6"/>
<circle cx="1625.6" cy="205.7" r="7.7" fill="#5a78e6"/>
<circle cx="1482.0" cy="209.5" r="7.7" fill="#5a78e6"/>
<circle cx="1586.8" cy="209.6" r="7.7" fill="#5a78e6"/>
<circle cx="1465.7" cy="219.1" r="7.7" fill="#5a78e6"/>
<circle cx="1547.9" cy="219.5" r="7.7" fill="#5a78e6"/>
<circle cx="1543.5" cy="212.9" r="7.7" fill="#5a78e6"/>
<circle cx="1782.4" cy="220.6" r="7.7" fill="#5a78e6"/>
<circle cx="1552.4" cy="213.2" r="7.7" fill="#5a78e6"/>
<circle cx="1267.4" cy="206.2" r="7.7" fill="#5a78e6"/>
<circle cx="1406.5" cy="210.4" r="7.7" fill="#5a78e6"/>
<circle cx="1631.1" cy="218.2" r="7.7" fill="#5a78e6"/>
<circle cx="1737.2" cy="217.1" r="7.7" fill="#5a78e6"/>
<circle cx="1512.7" cy="221.3" r="7.7" fill="#5a78e6"/>
<circle cx="1374.4" cy="204.9" r="7.7" fill="#5a78e6"/>
<circle cx="1808.2" cy="211.8" r="7.7" fill="#5a78e6"/>
<circle cx="1422.5" cy="212.9" r="7.7" fill="#5a78e6"/>
<circle cx="1158.2" cy="209.7" r="7.7" fill="#5a78e6"/>
<circle cx="1757.3" cy="201.9" r="7.7" fill="#5a78e6"/>
<circle cx="1391.3" cy="220.6" r="7.7" fill="#5a78e6"/>
<circle cx="1200.2" cy="205.1" r="7.7" fill="#5a78e6"/>
<circle cx="1557.5" cy="219.5" r="7.7" fill="#5a78e6"/>
<circle cx="1501.5" cy="208.4" r="7.7" fill="#5a78e6"/>
<circle cx="1356.1" cy="211.4" r="7.7" fill="#5a78e6"/>
<circle cx="1636.1" cy="207.8" r="7.7" fill="#5a78e6"/>
<circle cx="1523.8" cy="211.4" r="7.7" fill="#5a78e6"/>
<circle cx="1536.6" cy="210.4" r="7.7" fill="#5a78e6"/>
<circle cx="1827.3" cy="209.1" r="7.7" fill="#5a78e6"/>
<circle cx="1631.1" cy="208.5" r="7.7" fill="#5a78e6"/>
<circle cx="1251.1" cy="210.7" r="7.7" fill="#5a78e6"/>
<circle cx="1612.8" cy="204.0" r="7.7" fill="#5a78e6"/>
<circle cx="1821.6" cy="202.4" r="7.7" fill="#5a78e6"/>
<circle cx="1428.0" cy="219.1" r="7.7" fill="#5a78e6"/>
<circle cx="1591.5" cy="214.4" r="7.7" fill="#5a78e6"/>
<circle cx="1560.8" cy="212.0" r="7.7" fill="#5a78e6"/>
<circle cx="1857.8" cy="219.8" r="7.7" fill="#5a78e6"/>
<circle cx="1651.3" cy="211.8" r="7.7" fill="#5a78e6"/>
<circle cx="1526.7" cy="211.6" r="7.7" fill="#5a78e6"/>
<circle cx="1488.4" cy="206.7" r="7.7" fill="#5a78e6"/>
<circle cx="1230.9" cy="219.3" r="7.7" fill="#5a78e6"/>
<circle cx="1285.7" cy="208.2" r="7.7" fill="#5a78e6"/>
<circle cx="1596.6" cy="203.1" r="7.7" fill="#5a78e6"/>
<circle cx="1796.7" cy="211.3" r="7.7" fill="#5a78e6"/>
<circle cx="1591.2" cy="208.3" r="7.7" fill="#5a78e6"/>
<circle cx="1768.3" cy="201.5" r="7.7" fill="#5a78e6"/>
<circle cx="1437.4" cy="213.2" r="7.7" fill="#5a78e6"/>
<circle cx="1859.8" cy="208.3" r="7.7" fill="#5a78e6"/>
<circle cx="1775.5" cy="221.1" r="7.7" fill="#5a78e6"/>
<circle cx="1252.8" cy="205.7" r="7.7" fill="#5a78e6"/>
<circle cx="1476.9" cy="206.7" r="7.7" fill="#5a78e6"/>
<circle cx="1208.0" cy="217.1" r="7.7" fill="#5a78e6"/>
<circle cx="1348.3" cy="217.6" r="7.7" fill="#5a78e6"/>
<circle cx="1530.4" cy="212.7" r="7.7" fill="#5a78e6"/>
<circle cx="1672.2" cy="217.8" r="7.7" fill="#5a78e6"/>
<circle cx="1343.5" cy="213.1" r="7.7" fill="#5a78e6"/>
<circle cx="1264.1" cy="218.7" r="7.7" fill="#5a78e6"/>
<circle cx="1665.6" cy="208.7" r="7.7" fill="#5a78e6"/>
<circle cx="1180.2" cy="208.2" r="7.7" fill="#5a78e6"/>
<circle cx="1453.9" cy="215.7" r="7.7" fill="#5a78e6"/>
<circle cx="1844.6" cy="211.2" r="7.7" fill="#5a78e6"/>
<circle cx="1462.4" cy="206.6" r="7.7" fill="#5a78e6"/>
<circle cx="1839.1" cy="210.2" r="7.7" fill="#5a78e6"/>
<circle cx="1305.5" cy="212.1" r="7.7" fill="#5a78e6"/>
<circle cx="1583.8" cy="215.1" r="7.7" fill="#5a78e6"/>
<circle cx="1474.6" cy="213.1" r="7.7" fill="#5a78e6"/>
<circle cx="1652.8" cy="211.0" r="7.7" fill="#5a78e6"/>
<circle cx="1748.7" cy="203.5" r="7.7" fill="#5a78e6"/>
<circle cx="1743.3" cy="205.6" r="7.7" fill="#5a78e6"/>
<circle cx="1246.2" cy="203.8" r="7.7" fill="#5a78e6"/>
<circle cx="1273.1" cy="207.5" r="7.7" fill="#5a78e6"/>
<circle cx="1163.8" cy="209.7" r="7.7" fill="#5a78e6"/>
<circle cx="1499.7" cy="212.0" r="7.7" fill="#5a78e6"/>
<circle cx="1607.2" cy="205.3" r="7.7" fill="#5a78e6"/>
<circle cx="1148.7" cy="214.8" r="7.7" fill="#5a78e6"/>
<circle cx="1213.3" cy="220.6" r="7.7" fill="#5a78e6"/>
<circle cx="1835.0" cy="207.9" r="7.7" fill="#5a78e6"/>
<circle cx="1492.2" cy="207.1" r="7.7" fill="#5a78e6"/>
<circle cx="1508.8" cy="209.3" r="7.7" fill="#5a78e6"/>
<circle cx="1603.5" cy="205.5" r="7.7" fill="#5a78e6"/>
<circle cx="1811.9" cy="220.1" r="7.7" fill="#5a78e6"/>
<circle cx="1297.3" cy="216.8" r="7.7" fill="#5a78e6"/>
<circle cx="1366.4" cy="219.6" r="7.7" fill="#5a78e6"/>
<circle cx="1761.7" cy="203.7" r="7.7" fill="#5a78e6"/>
<circle cx="1720.6" cy="216.5" r="7.7" fill="#5a78e6"/>
<circle cx="1362.1" cy="213.9" r="7.7" fill="#5a78e6"/>
<circle cx="1215.2" cy="209.6" r="7.7" fill="#5a78e6"/>
<circle cx="1312.1" cy="209.7" r="7.7" fill="#5a78e6"/>
<circle cx="1173.9" cy="209.0" r="7.7" fill="#5a78e6"/>
<circle cx="1419.1" cy="210.1" r="7.7" fill="#5a78e6"/>
<circle cx="1425.2" cy="213.4" r="7.7" fill="#5a78e6"/>
<circle cx="1578.8" cy="208.7" r="7.7" fill="#5a78e6"/>
<circle cx="1469.4" cy="218.5" r="7.7" fill="#5a78e6"/>
<circle cx="1846.9" cy="220.5" r="7.7" fill="#5a78e6"/>
<circle cx="1682.9" cy="210.6" r="7.7" fill="#5a78e6"/>
<circle cx="1484.3" cy="216.3" r="7.7" fill="#5a78e6"/>
<circle cx="1688.7" cy="207.6" r="7.7" fill="#5a78e6"/>
<circle cx="1223.3" cy="204.4" r="7.7" fill="#5a78e6"/>
<circle cx="1574.6" cy="205.1" r="7.7" fill="#5a78e6"/>
<circle cx="1642.7" cy="210.4" r="7.7" fill="#5a78e6"/>
<circle cx="1255.6" cy="219.1" r="7.7" fill="#5a78e6"/>
<circle cx="1517.0" cy="216.5" r="7.7" fill="#5a78e6"/>
<circle cx="1775.3" cy="204.9" r="7.7" fill="#5a78e6"/>
<circle cx="1394.0" cy="210.8" r="7.7" fill="#5a78e6"/>
<circle cx="1731.9" cy="205.7" r="7.7" fill="#5a78e6"/>
<circle cx="1216.9" cy="193.6" r="7.7" fill="#5a78e6"/>
<circle cx="1381.5" cy="212.7" r="7.7" fill="#5a78e6"/>
<circle cx="1669.9" cy="207.9" r="7.7" fill="#5a78e6"/>
<circle cx="1283.7" cy="217.5" r="7.7" fill="#5a78e6"/>
<circle cx="1820.2" cy="207.9" r="7.7" fill="#5a78e6"/>
<circle cx="1688.9" cy="212.2" r="7.7" fill="#5a78e6"/>
<circle cx="1324.3" cy="209.9" r="7.7" fill="#5a78e6"/>
<circle cx="1658.5" cy="217.8" r="7.7" fill="#5a78e6"/>
<circle cx="1798.4" cy="214.0" r="7.7" fill="#5a78e6"/>
<circle cx="1429.4" cy="211.1" r="7.7" fill="#5a78e6"/>
<circle cx="1514.5" cy="217.5" r="7.7" fill="#5a78e6"/>
<circle cx="1447.1" cy="214.4" r="7.7" fill="#5a78e6"/>
<circle cx="1186.7" cy="204.8" r="7.7" fill="#5a78e6"/>
<circle cx="1247.8" cy="218.8" r="7.7" fill="#5a78e6"/>
<circle cx="1719.5" cy="206.7" r="7.7" fill="#5a78e6"/>
<circle cx="1598.9" cy="213.9" r="7.7" fill="#5a78e6"/>
<circle cx="1335.7" cy="211.9" r="7.7" fill="#5a78e6"/>
<circle cx="1530.7" cy="218.2" r="7.7" fill="#5a78e6"/>
<circle cx="1345.1" cy="217.9" r="7.7" fill="#5a78e6"/>
<circle cx="1161.5" cy="210.6" r="7.7" fill="#5a78e6"/>
<circle cx="1411.7" cy="212.3" r="7.7" fill="#5a78e6"/>
<circle cx="1303.5" cy="220.8" r="7.7" fill="#5a78e6"/>
<circle cx="1486.1" cy="213.7" r="7.7" fill="#5a78e6"/>
<circle cx="1455.1" cy="207.7" r="7.7" fill="#5a78e6"/>
<circle cx="1758.0" cy="211.6" r="7.7" fill="#5a78e6"/>
<circle cx="1664.0" cy="215.0" r="7.7" fill="#5a78e6"/>
<circle cx="1397.4" cy="209.0" r="7.7" fill="#5a78e6"/>
<circle cx="1240.8" cy="205.2" r="7.7" fill="#5a78e6"/>
<circle cx="1228.9" cy="197.2" r="7.7" fill="#5a78e6"/>
<circle cx="1648.1" cy="211.4" r="7.7" fill="#5a78e6"/>
<circle cx="1518.1" cy="208.4" r="7.7" fill="#5a78e6"/>
<circle cx="1469.2" cy="207.1" r="7.7" fill="#5a78e6"/>
<circle cx="1734.5" cy="212.9" r="7.7" fill="#5a78e6"/>
<circle cx="1257.8" cy="207.0" r="7.7" fill="#5a78e6"/>
<circle cx="1713.2" cy="212.1" r="7.7" fill="#5a78e6"/>
<circle cx="1792.1" cy="217.7" r="7.7" fill="#5a78e6"/>
<circle cx="1637.2" cy="217.1" r="7.7" fill="#5a78e6"/>
<circle cx="1358.2" cy="213.5" r="7.7" fill="#5a78e6"/>
<circle cx="1317.7" cy="216.6" r="7.7" fill="#5a78e6"/>
<circle cx="1702.3" cy="208.1" r="7.7" fill="#5a78e6"/>
<circle cx="1565.5" cy="214.9" r="7.7" fill="#5a78e6"/>
<circle cx="1238.2" cy="217.9" r="7.7" fill="#5a78e6"/>
<circle cx="1153.7" cy="209.3" r="7.7" fill="#5a78e6"/>
<circle cx="1727.4" cy="205.7" r="7.7" fill="#5a78e6"/>
<circle cx="1166.5" cy="221.3" r="7.7" fill="#5a78e6"/>
<circle cx="1604.3" cy="211.5" r="7.7" fill="#5a78e6"/>
<circle cx="1650.0" cy="215.9" r="7.7" fill="#5a78e6"/>
<circle cx="1375.0" cy="215.4" r="7.7" fill="#5a78e6"/>
<circle cx="1282.5" cy="213.7" r="7.7" fill="#5a78e6"/>
<circle cx="1509.4" cy="217.4" r="7.7" fill="#5a78e6"/>
<circle cx="1381.9" cy="205.5" r="7.7" fill="#5a78e6"/>
<circle cx="1762.7" cy="203.5" r="7.7" fill="#5a78e6"/>
<circle cx="1497.0" cy="181.3" r="7.7" fill="#5a78e6"/>
<circle cx="1498.0" cy="173.6" r="7.7" fill="#5a78e6"/>
<circle cx="1502.0" cy="181.7" r="7.7" fill="#5a78e6"/>
<circle cx="1506.1" cy="185.7" r="7.7" fill="#5a78e6"/>
<circle cx="1516.2" cy="185.7" r="7.7" fill="#5a78e6"/>
<circle cx="1532.5" cy="181.7" r="7.7" fill="#5a78e6"/>
<circle cx="1600.9" cy="199.9" r="7.7" fill="#5a78e6"/>
<circle cx="1616.8" cy="202.6" r="7.7" fill="#5a78e6"/>
<circle cx="1632.0" cy="207.7" r="7.7" fill="#5a78e6"/>
<circle cx="1258.4" cy="191.3" r="7.7" fill="#78f5f5"/>
<circle cx="1246.4" cy="190.3" r="7.7" fill="#78f5f5"/>
<circle cx="1422.9" cy="194.0" r="7.7" fill="#78f5f5"/>
<circle cx="1408.8" cy="200.4" r="7.7" fill="#78f5f5"/>
<circle cx="1412.9" cy="203.2" r="7.7" fill="#78f5f5"/>
<circle cx="1525.6" cy="191.9" r="7.7" fill="#78f5f5"/>
<circle cx="1543.3" cy="193.0" r="7.7" fill="#78f5f5"/>
<circle cx="1587.0" cy="171.7" r="7.7" fill="#78f5f5"/>
<circle cx="1593.0" cy="173.9" r="7.7" fill="#78f5f5"/>
<circle cx="1595.9" cy="177.7" r="7.7" fill="#78f5f5"/>
<circle cx="1612.2" cy="167.0" r="7.7" fill="#78f5f5"/>
<circle cx="1608.5" cy="164.8" r="7.7" fill="#78f5f5"/>
<circle cx="1606.4" cy="178.5" r="7.7" fill="#78f5f5"/>
<circle cx="1605.0" cy="179.7" r="7.7" fill="#78f5f5"/>
<circle cx="1627.8" cy="172.0" r="7.7" fill="#78f5f5"/>
<circle cx="1625.4" cy="174.4" r="7.7" fill="#78f5f5"/>
<circle cx="1620.9" cy="184.8" r="7.7" fill="#78f5f5"/>
<circle cx="1633.7" cy="190.6" r="7.7" fill="#78f5f5"/>
<circle cx="1634.8" cy="191.3" r="7.7" fill="#78f5f5"/>
<circle cx="1644.0" cy="183.3" r="7.7" fill="#78f5f5"/>
<circle cx="1658.8" cy="193.1" r="7.7" fill="#78f5f5"/>
<circle cx="1650.2" cy="190.6" r="7.7" fill="#78f5f5"/>
<circle cx="1257.4" cy="190.8" r="7.7" fill="#78f5f5"/>
<circle cx="1249.8" cy="189.4" r="7.7" fill="#78f5f5"/>
<circle cx="1378.2" cy="193.2" r="7.7" fill="#78f5f5"/>
<circle cx="1387.9" cy="192.8" r="7.7" fill="#78f5f5"/>
<circle cx="1420.8" cy="196.9" r="7.7" fill="#78f5f5"/>
<circle cx="1406.6" cy="199.9" r="7.7" fill="#78f5f5"/>
<circle cx="1410.7" cy="201.0" r="7.7" fill="#78f5f5"/>
<circle cx="1431.0" cy="198.3" r="7.7" fill="#78f5f5"/>
<circle cx="1449.2" cy="192.8" r="7.7" fill="#78f5f5"/>
<circle cx="1460.4" cy="189.8" r="7.7" fill="#78f5f5"/>
<circle cx="1525.4" cy="192.4" r="7.7" fill="#78f5f5"/>
<circle cx="1543.7" cy="193.9" r="7.7" fill="#78f5f5"/>
<circle cx="1569.6" cy="185.7" r="7.7" fill="#78f5f5"/>
<circle cx="1587.3" cy="172.5" r="7.7" fill="#78f5f5"/>
<circle cx="1594.4" cy="176.6" r="7.7" fill="#78f5f5"/>
<circle cx="1609.6" cy="166.4" r="7.7" fill="#78f5f5"/>
<circle cx="1606.2" cy="179.0" r="7.7" fill="#78f5f5"/>
<circle cx="1624.5" cy="174.6" r="7.7" fill="#78f5f5"/>
<circle cx="1620.8" cy="187.8" r="7.7" fill="#78f5f5"/>
<circle cx="1634.0" cy="189.8" r="7.7" fill="#78f5f5"/>
<circle cx="1643.1" cy="185.7" r="7.7" fill="#78f5f5"/>
<circle cx="1660.4" cy="193.9" r="7.7" fill="#78f5f5"/>
<circle cx="1650.3" cy="192.8" r="7.7" fill="#78f5f5"/>
<circle cx="1675.6" cy="193.9" r="7.7" fill="#78f5f5"/>
<circle cx="1257.7" cy="173.1" r="7.7" fill="#47e41f"/>
<circle cx="1577.5" cy="140.2" r="7.7" fill="#47e41f"/>
<circle cx="1591.4" cy="145.4" r="7.7" fill="#47e41f"/>
<circle cx="1609.2" cy="145.0" r="7.7" fill="#47e41f"/>
<circle cx="1604.2" cy="150.7" r="7.7" fill="#47e41f"/>
<circle cx="1632.1" cy="145.5" r="7.7" fill="#47e41f"/>
<circle cx="1622.0" cy="157.4" r="7.7" fill="#47e41f"/>
<circle cx="1622.8" cy="159.6" r="7.7" fill="#47e41f"/>
<circle cx="1582.2" cy="164.0" r="7.7" fill="#47e41f"/>
<circle cx="1519.5" cy="181.6" r="7.7" fill="#47e41f"/>
<circle cx="1521.6" cy="176.7" r="7.7" fill="#47e41f"/>
<circle cx="1260.4" cy="174.2" r="7.7" fill="#47e41f"/>
<circle cx="1291.9" cy="178.6" r="7.7" fill="#47e41f"/>
<circle cx="1284.4" cy="175.6" r="7.7" fill="#47e41f"/>
<circle cx="1576.8" cy="143.1" r="7.7" fill="#47e41f"/>
<circle cx="1589.3" cy="143.1" r="7.7" fill="#47e41f"/>
<circle cx="1611.7" cy="146.1" r="7.7" fill="#47e41f"/>
<circle cx="1601.5" cy="148.2" r="7.7" fill="#47e41f"/>
<circle cx="1632.0" cy="146.8" r="7.7" fill="#47e41f"/>
<circle cx="1641.7" cy="151.6" r="7.7" fill="#47e41f"/>
<circle cx="1621.2" cy="159.9" r="7.7" fill="#47e41f"/>
<circle cx="1581.2" cy="165.4" r="7.7" fill="#47e41f"/>
<circle cx="1569.6" cy="164.4" r="7.7" fill="#47e41f"/>
<circle cx="1522.3" cy="180.7" r="7.7" fill="#47e41f"/>
<circle cx="1524.4" cy="174.2" r="7.7" fill="#47e41f"/>
<circle cx="1548.1" cy="180.3" r="7.7" fill="#47e41f"/>
<circle cx="1491.1" cy="134.9" r="7.7" fill="#eda637"/>
<circle cx="1528.3" cy="144.9" r="7.7" fill="#eda637"/>
<circle cx="1534.1" cy="146.6" r="7.7" fill="#eda637"/>
<circle cx="1535.5" cy="141.9" r="7.7" fill="#eda637"/>
<circle cx="1538.9" cy="140.0" r="7.7" fill="#eda637"/>
<circle cx="1568.6" cy="136.0" r="7.7" fill="#eda637"/>
<circle cx="1565.4" cy="134.8" r="7.7" fill="#eda637"/>
<circle cx="1548.8" cy="143.5" r="7.7" fill="#eda637"/>
<circle cx="1552.1" cy="143.8" r="7.7" fill="#eda637"/>
<circle cx="1558.7" cy="144.3" r="7.7" fill="#eda637"/>
<circle cx="1562.8" cy="147.3" r="7.7" fill="#eda637"/>
<circle cx="1558.4" cy="136.4" r="7.7" fill="#eda637"/>
<circle cx="1604.8" cy="141.7" r="7.7" fill="#eda637"/>
<circle cx="1516.9" cy="164.5" r="7.7" fill="#eda637"/>
<circle cx="1422.8" cy="162.8" r="7.7" fill="#eda637"/>
<circle cx="1415.3" cy="162.4" r="7.7" fill="#eda637"/>
<circle cx="1492.3" cy="133.6" r="7.7" fill="#eda637"/>
<circle cx="1525.8" cy="144.7" r="7.7" fill="#eda637"/>
<circle cx="1535.5" cy="147.2" r="7.7" fill="#eda637"/>
<circle cx="1537.6" cy="140.1" r="7.7" fill="#eda637"/>
<circle cx="1567.0" cy="135.0" r="7.7" fill="#eda637"/>
<circle cx="1550.8" cy="144.1" r="7.7" fill="#eda637"/>
<circle cx="1560.9" cy="145.1" r="7.7" fill="#eda637"/>
<circle cx="1557.5" cy="136.0" r="7.7" fill="#eda637"/>
<circle cx="1606.2" cy="139.0" r="7.7" fill="#eda637"/>
<circle cx="1515.8" cy="164.4" r="7.7" fill="#eda637"/>
<circle cx="1495.6" cy="107.2" r="7.7" fill="#ff2a18"/>
<circle cx="1504.4" cy="103.4" r="7.7" fill="#ff2a18"/>
<circle cx="1510.5" cy="101.9" r="7.7" fill="#ff2a18"/>
<circle cx="1506.4" cy="122.1" r="7.7" fill="#ff2a18"/>
<circle cx="1509.3" cy="124.4" r="7.7" fill="#ff2a18"/>
<circle cx="1521.4" cy="122.2" r="7.7" fill="#ff2a18"/>
<circle cx="1536.4" cy="129.0" r="7.7" fill="#ff2a18"/>
<circle cx="1502.0" cy="126.5" r="7.7" fill="#ff2a18"/>
<circle cx="1516.6" cy="125.4" r="7.7" fill="#ff2a18"/>
<circle cx="1497.0" cy="104.5" r="7.7" fill="#ff2a18"/>
<circle cx="1502.0" cy="104.5" r="7.7" fill="#ff2a18"/>
<circle cx="1507.1" cy="100.5" r="7.7" fill="#ff2a18"/>
<circle cx="1506.1" cy="121.8" r="7.7" fill="#ff2a18"/>
<circle cx="1522.3" cy="120.8" r="7.7" fill="#ff2a18"/>
<circle cx="1533.5" cy="127.9" r="7.7" fill="#ff2a18"/>
<circle cx="1500.0" cy="124.8" r="7.7" fill="#ff2a18"/>
<circle cx="1513.2" cy="123.8" r="7.7" fill="#ff2a18"/>
<path d="M1505.7 83.3L1515.3 92.9L1505.7 102.5L1496.1 92.9Z" fill="#c132fb" stroke="#000" stroke-width="3.3" stroke-linejoin="round"/>
</g>
<path d="M1110.3 80.0V218.4M1108.2 218.4H1899.5" stroke="#000" stroke-width="4.5" fill="none"/>
<text x="1088.7" y="122.7" class="a" text-anchor="end">9</text>
<text x="1088.7" y="158.0" class="a" text-anchor="end">6</text>
<text x="1088.7" y="192.9" class="a" text-anchor="end">3</text>
<text x="1250.3" y="259.9" class="a" text-anchor="middle">49.1</text>
<text x="1489.4" y="259.9" class="a" text-anchor="middle">49.2</text>
<text x="1728.8" y="259.9" class="a" text-anchor="middle">49.3</text>
<path d="M1098.0 113.1H1109.3M1098.0 148.4H1109.3M1098.0 183.3H1109.3M1250.3 219.4V230.7M1489.4 219.4V230.7M1728.8 219.4V230.7" stroke="#333" stroke-width="4.1" fill="none"/>
<text x="1504.9" y="296.9" class="a" text-anchor="middle">Chromosome 19 (Mb)</text>
<text transform="translate(1018.0 149.5) rotate(-90)" class="a" text-anchor="middle">-log10P</text>
<g clip-path="url(#cgb)">
<text x="1139.5" y="375.7" class="g">SULT2B1<tspan class="ar" dx="-2.3" dy="-1.6">→</tspan></text>
<text x="1251.3" y="375.7" class="g"><tspan class="ar" dy="-1.6">←</tspan><tspan dx="-3.0" dy="1.6">RPL18</tspan></text>
<text x="1317.1" y="375.7" class="g"><tspan class="ar" dy="-1.6">←</tspan><tspan dx="-2.4" dy="1.6">CA11</tspan></text>
<text x="1377.4" y="375.7" class="g"><tspan class="ar" dy="-1.6">←</tspan><tspan dx="-3.0" dy="1.6">NTN5</tspan></text>
<text x="1463.7" y="375.7" class="g">FUT2<tspan class="ar" dx="-2.4" dy="-1.6">→</tspan></text>
<text x="1521.9" y="375.7" class="g"><tspan class="ar" dy="-1.6">←</tspan><tspan dx="-3.0" dy="1.6">RASIP1</tspan></text>
<text x="1594.0" y="375.7" class="g">FGF21<tspan class="ar" dx="-2.3" dy="-1.6">→</tspan></text>
<text x="1701.9" y="375.7" class="g"><tspan class="ar" dy="-1.6">←</tspan><tspan dx="-3.0" dy="1.6">BCAT2</tspan></text>
<text x="1809.8" y="375.7" class="g"><tspan class="ar" dy="-1.6">←</tspan><tspan dx="-3.0" dy="1.6">PLEKHA4</tspan></text>
<text x="1219.0" y="410.4" class="g"><tspan class="ar" dy="-1.6">←</tspan><tspan dx="-3.0" dy="1.6">FAM83E</tspan></text>
<text x="1301.9" y="410.4" class="g"><tspan class="ar" dy="-1.6">←</tspan><tspan dx="-3.0" dy="1.6">DBP</tspan></text>
<text x="1478.6" y="410.4" class="g"><tspan class="ar" dy="-1.6">←</tspan><tspan dx="-3.0" dy="1.6">MAMSTR</tspan></text>
<text x="1551.6" y="410.4" class="g"><tspan class="ar" dy="-1.6">←</tspan><tspan dx="-3.3" dy="1.6">IZUMO1</tspan></text>
<text x="1735.7" y="410.4" class="g"><tspan class="ar" dy="-1.6">←</tspan><tspan dx="-3.0" dy="1.6">HSD17B14</tspan></text>
<text x="1220.1" y="445.2" class="g">SPACA4<tspan class="ar" dx="-1.9" dy="-1.6">→</tspan></text>
<text x="1584.7" y="445.2" class="g"><tspan class="ar" dy="-1.6">←</tspan><tspan dx="-3.0" dy="1.6">FUT1</tspan></text>
<text x="1271.1" y="479.9" class="g">SPHK2<tspan class="ar" dx="-2.4" dy="-1.6">→</tspan></text>
<path d="M1136.1 384.5H1252.9M1290.4 384.5H1302.2M1345.7 384.5H1367.2M1402.7 384.5H1432.6M1486.4 384.5H1512.8M1546.9 384.5H1597.5M1632.2 384.5H1640.7M1728.0 384.5H1769.2M1831.2 384.5H1909.5M1254.9 419.2H1290.9M1326.6 419.2H1345.7M1528.0 419.2H1546.3M1596.0 419.2H1612.3M1772.1 419.2H1831.2M1613.9 454.0H1633.6M1300.2 488.8H1329.6" stroke="#000" stroke-width="4.4" fill="none"/>
<path d="M1135.9 378.7H1138.4V390.3H1135.9ZM1193.8 378.7H1196.2V390.3H1193.8ZM1221.2 378.7H1223.6V390.3H1221.2ZM1231.4 378.7H1233.8V390.3H1231.4ZM1234.4 378.7H1236.8V390.3H1234.4ZM1250.7 378.7H1253.1V390.3H1250.7ZM1242.7 378.7H1247.2V390.3H1242.7ZM1290.4 378.7H1302.2V390.3H1290.4ZM1345.7 378.7H1352.4V390.3H1345.7ZM1361.5 378.7H1367.2V390.3H1361.5ZM1402.7 378.7H1412.3V390.3H1402.7ZM1425.3 378.7H1427.7V390.3H1425.3ZM1430.3 378.7H1432.8V390.3H1430.3ZM1486.4 378.7H1490.0V390.3H1486.4ZM1502.6 378.7H1512.8V390.3H1502.6ZM1546.9 378.7H1551.4V390.3H1546.9ZM1555.4 378.7H1559.5V390.3H1555.4ZM1561.5 378.7H1565.6V390.3H1561.5ZM1589.9 378.7H1597.5V390.3H1589.9ZM1567.4 378.7H1569.8V390.3H1567.4ZM1581.6 378.7H1584.1V390.3H1581.6ZM1632.2 378.7H1640.7V390.3H1632.2ZM1728.0 378.7H1742.2V390.3H1728.0ZM1756.0 378.7H1761.5V390.3H1756.0ZM1766.4 378.7H1769.2V390.3H1766.4ZM1831.2 378.7H1835.2V390.3H1831.2ZM1884.4 378.7H1891.5V390.3H1884.4ZM1836.6 378.7H1838.7V390.3H1836.6ZM1849.8 378.7H1851.9V390.3H1849.8ZM1856.9 378.7H1859.0V390.3H1856.9ZM1868.1 378.7H1870.1V390.3H1868.1ZM1872.2 378.7H1874.2V390.3H1872.2ZM1881.3 378.7H1883.3V390.3H1881.3ZM1894.5 378.7H1896.5V390.3H1894.5ZM1255.3 413.4H1257.8V425.1H1255.3ZM1261.2 413.4H1263.6V425.1H1261.2ZM1278.1 413.4H1280.5V425.1H1278.1ZM1284.4 413.4H1290.9V425.1H1284.4ZM1326.6 413.4H1345.7V425.1H1326.6ZM1528.0 413.4H1539.2V425.1H1528.0ZM1542.2 413.4H1546.3V425.1H1542.2ZM1596.0 413.4H1612.3V425.1H1596.0ZM1772.1 413.4H1774.1V425.1H1772.1ZM1776.1 413.4H1778.2V425.1H1776.1ZM1817.8 413.4H1819.8V425.1H1817.8ZM1821.0 413.4H1823.0V425.1H1821.0ZM1824.9 413.4H1826.9V425.1H1824.9ZM1828.7 413.4H1830.8V425.1H1828.7ZM1269.5 448.2H1272.8V459.8H1269.5ZM1613.9 448.2H1624.5V459.8H1613.9ZM1626.7 448.2H1629.1V459.8H1626.7ZM1630.8 448.2H1633.2V459.8H1630.8ZM1300.2 482.9H1304.7V494.6H1300.2ZM1311.8 482.9H1329.6V494.6H1311.8Z" fill="#000"/>
</g>
</g>
<g id="panel-c">
<text x="7.3" y="552.6" class="pl">c</text>
<text x="139.6" y="576.1" class="t">Trait: Clostridium sp900540255; rsID: rs681343</text>
<clipPath id="cpc"><rect x="140.1" y="597.8" width="788.2" height="144.9"/></clipPath>
<clipPath id="cgc"><rect x="137.6" y="844.2" width="790.7" height="300"/></clipPath>
<line x1="140.1" y1="692.4" x2="928.3" y2="692.4" stroke="#bebebe" stroke-width="4" stroke-dasharray="18.6 19.5"/>
<g clip-path="url(#cpc)" stroke="#000" stroke-width="3.3">
<circle cx="421.9" cy="744.7" r="7.7" fill="#5a78e6"/>
<circle cx="498.8" cy="732.2" r="7.7" fill="#5a78e6"/>
<circle cx="847.9" cy="740.3" r="7.7" fill="#5a78e6"/>
<circle cx="323.9" cy="728.7" r="7.7" fill="#5a78e6"/>
<circle cx="542.4" cy="742.3" r="7.7" fill="#5a78e6"/>
<circle cx="296.0" cy="731.2" r="7.7" fill="#5a78e6"/>
<circle cx="584.9" cy="738.9" r="7.7" fill="#5a78e6"/>
<circle cx="359.3" cy="742.1" r="7.7" fill="#5a78e6"/>
<circle cx="875.7" cy="724.3" r="7.7" fill="#5a78e6"/>
<circle cx="427.5" cy="740.1" r="7.7" fill="#5a78e6"/>
<circle cx="394.5" cy="731.4" r="7.7" fill="#5a78e6"/>
<circle cx="254.0" cy="723.2" r="7.7" fill="#5a78e6"/>
<circle cx="427.9" cy="715.2" r="7.7" fill="#5a78e6"/>
<circle cx="378.5" cy="741.5" r="7.7" fill="#5a78e6"/>
<circle cx="720.8" cy="740.5" r="7.7" fill="#5a78e6"/>
<circle cx="180.1" cy="736.2" r="7.7" fill="#5a78e6"/>
<circle cx="301.0" cy="743.9" r="7.7" fill="#5a78e6"/>
<circle cx="511.3" cy="735.7" r="7.7" fill="#5a78e6"/>
<circle cx="773.8" cy="741.5" r="7.7" fill="#5a78e6"/>
<circle cx="301.8" cy="720.4" r="7.7" fill="#5a78e6"/>
<circle cx="353.6" cy="741.4" r="7.7" fill="#5a78e6"/>
<circle cx="840.7" cy="730.1" r="7.7" fill="#5a78e6"/>
<circle cx="395.5" cy="720.1" r="7.7" fill="#5a78e6"/>
<circle cx="176.2" cy="741.6" r="7.7" fill="#5a78e6"/>
<circle cx="281.7" cy="743.6" r="7.7" fill="#5a78e6"/>
<circle cx="383.3" cy="740.7" r="7.7" fill="#5a78e6"/>
<circle cx="332.9" cy="726.3" r="7.7" fill="#5a78e6"/>
<circle cx="461.3" cy="730.8" r="7.7" fill="#5a78e6"/>
<circle cx="532.4" cy="743.4" r="7.7" fill="#5a78e6"/>
<circle cx="564.8" cy="730.6" r="7.7" fill="#5a78e6"/>
<circle cx="343.3" cy="743.9" r="7.7" fill="#5a78e6"/>
<circle cx="410.8" cy="719.2" r="7.7" fill="#5a78e6"/>
<circle cx="879.2" cy="734.5" r="7.7" fill="#5a78e6"/>
<circle cx="776.2" cy="732.0" r="7.7" fill="#5a78e6"/>
<circle cx="829.2" cy="746.7" r="7.7" fill="#5a78e6"/>
<circle cx="736.3" cy="739.3" r="7.7" fill="#5a78e6"/>
<circle cx="664.2" cy="741.6" r="7.7" fill="#5a78e6"/>
<circle cx="550.8" cy="732.4" r="7.7" fill="#5a78e6"/>
<circle cx="437.2" cy="738.7" r="7.7" fill="#5a78e6"/>
<circle cx="803.2" cy="730.1" r="7.7" fill="#5a78e6"/>
<circle cx="493.2" cy="727.9" r="7.7" fill="#5a78e6"/>
<circle cx="587.4" cy="734.1" r="7.7" fill="#5a78e6"/>
<circle cx="287.2" cy="739.8" r="7.7" fill="#5a78e6"/>
<circle cx="294.2" cy="720.6" r="7.7" fill="#5a78e6"/>
<circle cx="342.0" cy="716.5" r="7.7" fill="#5a78e6"/>
<circle cx="281.4" cy="726.0" r="7.7" fill="#5a78e6"/>
<circle cx="734.1" cy="741.5" r="7.7" fill="#5a78e6"/>
<circle cx="801.9" cy="734.5" r="7.7" fill="#5a78e6"/>
<circle cx="878.7" cy="738.1" r="7.7" fill="#5a78e6"/>
<circle cx="807.6" cy="741.3" r="7.7" fill="#5a78e6"/>
<circle cx="457.8" cy="729.3" r="7.7" fill="#5a78e6"/>
<circle cx="523.3" cy="743.5" r="7.7" fill="#5a78e6"/>
<circle cx="312.6" cy="741.0" r="7.7" fill="#5a78e6"/>
<circle cx="249.3" cy="719.9" r="7.7" fill="#5a78e6"/>
<circle cx="415.9" cy="718.0" r="7.7" fill="#5a78e6"/>
<circle cx="767.5" cy="729.5" r="7.7" fill="#5a78e6"/>
<circle cx="561.1" cy="744.2" r="7.7" fill="#5a78e6"/>
<circle cx="305.8" cy="719.8" r="7.7" fill="#5a78e6"/>
<circle cx="434.4" cy="721.7" r="7.7" fill="#5a78e6"/>
<circle cx="226.2" cy="741.3" r="7.7" fill="#5a78e6"/>
<circle cx="791.6" cy="742.8" r="7.7" fill="#5a78e6"/>
<circle cx="714.3" cy="744.8" r="7.7" fill="#5a78e6"/>
<circle cx="272.7" cy="737.8" r="7.7" fill="#5a78e6"/>
<circle cx="716.7" cy="736.7" r="7.7" fill="#5a78e6"/>
<circle cx="175.6" cy="742.2" r="7.7" fill="#5a78e6"/>
<circle cx="349.0" cy="733.8" r="7.7" fill="#5a78e6"/>
<circle cx="289.5" cy="719.6" r="7.7" fill="#5a78e6"/>
<circle cx="855.0" cy="734.4" r="7.7" fill="#5a78e6"/>
<circle cx="366.1" cy="725.8" r="7.7" fill="#5a78e6"/>
<circle cx="390.6" cy="729.9" r="7.7" fill="#5a78e6"/>
<circle cx="676.4" cy="737.3" r="7.7" fill="#5a78e6"/>
<circle cx="205.9" cy="732.1" r="7.7" fill="#5a78e6"/>
<circle cx="787.1" cy="740.7" r="7.7" fill="#5a78e6"/>
<circle cx="546.1" cy="740.6" r="7.7" fill="#5a78e6"/>
<circle cx="858.8" cy="726.5" r="7.7" fill="#5a78e6"/>
<circle cx="557.7" cy="743.3" r="7.7" fill="#5a78e6"/>
<circle cx="591.8" cy="746.8" r="7.7" fill="#5a78e6"/>
<circle cx="769.6" cy="733.2" r="7.7" fill="#5a78e6"/>
<circle cx="555.9" cy="733.7" r="7.7" fill="#5a78e6"/>
<circle cx="837.9" cy="740.9" r="7.7" fill="#5a78e6"/>
<circle cx="267.3" cy="737.4" r="7.7" fill="#5a78e6"/>
<circle cx="243.2" cy="724.9" r="7.7" fill="#5a78e6"/>
<circle cx="549.9" cy="745.3" r="7.7" fill="#5a78e6"/>
<circle cx="612.5" cy="732.5" r="7.7" fill="#5a78e6"/>
<circle cx="352.8" cy="719.1" r="7.7" fill="#5a78e6"/>
<circle cx="358.1" cy="724.7" r="7.7" fill="#5a78e6"/>
<circle cx="197.3" cy="746.9" r="7.7" fill="#5a78e6"/>
<circle cx="466.0" cy="738.1" r="7.7" fill="#5a78e6"/>
<circle cx="310.7" cy="739.2" r="7.7" fill="#5a78e6"/>
<circle cx="537.9" cy="738.7" r="7.7" fill="#5a78e6"/>
<circle cx="398.7" cy="716.7" r="7.7" fill="#5a78e6"/>
<circle cx="481.3" cy="724.7" r="7.7" fill="#5a78e6"/>
<circle cx="511.9" cy="727.4" r="7.7" fill="#5a78e6"/>
<circle cx="486.0" cy="719.3" r="7.7" fill="#5a78e6"/>
<circle cx="439.5" cy="728.5" r="7.7" fill="#5a78e6"/>
<circle cx="799.1" cy="734.1" r="7.7" fill="#5a78e6"/>
<circle cx="338.8" cy="737.4" r="7.7" fill="#5a78e6"/>
<circle cx="473.9" cy="731.7" r="7.7" fill="#5a78e6"/>
<circle cx="742.4" cy="737.8" r="7.7" fill="#5a78e6"/>
<circle cx="583.2" cy="735.1" r="7.7" fill="#5a78e6"/>
<circle cx="362.7" cy="745.2" r="7.7" fill="#5a78e6"/>
<circle cx="267.0" cy="742.6" r="7.7" fill="#5a78e6"/>
<circle cx="736.5" cy="741.8" r="7.7" fill="#5a78e6"/>
<circle cx="859.8" cy="739.7" r="7.7" fill="#5a78e6"/>
<circle cx="232.0" cy="743.8" r="7.7" fill="#5a78e6"/>
<circle cx="410.4" cy="727.3" r="7.7" fill="#5a78e6"/>
<circle cx="237.0" cy="726.5" r="7.7" fill="#5a78e6"/>
<circle cx="663.5" cy="743.1" r="7.7" fill="#5a78e6"/>
<circle cx="216.9" cy="729.8" r="7.7" fill="#5a78e6"/>
<circle cx="398.5" cy="741.3" r="7.7" fill="#5a78e6"/>
<circle cx="826.0" cy="727.2" r="7.7" fill="#5a78e6"/>
<circle cx="499.0" cy="745.0" r="7.7" fill="#5a78e6"/>
<circle cx="491.7" cy="737.3" r="7.7" fill="#5a78e6"/>
<circle cx="568.8" cy="729.4" r="7.7" fill="#5a78e6"/>
<circle cx="348.0" cy="714.6" r="7.7" fill="#5a78e6"/>
<circle cx="262.0" cy="741.2" r="7.7" fill="#5a78e6"/>
<circle cx="592.9" cy="735.2" r="7.7" fill="#5a78e6"/>
<circle cx="570.4" cy="731.7" r="7.7" fill="#5a78e6"/>
<circle cx="403.6" cy="741.9" r="7.7" fill="#5a78e6"/>
<circle cx="211.8" cy="728.0" r="7.7" fill="#5a78e6"/>
<circle cx="762.7" cy="746.5" r="7.7" fill="#5a78e6"/>
<circle cx="886.4" cy="724.1" r="7.7" fill="#5a78e6"/>
<circle cx="661.3" cy="739.3" r="7.7" fill="#5a78e6"/>
<circle cx="672.9" cy="745.4" r="7.7" fill="#5a78e6"/>
<circle cx="785.1" cy="731.4" r="7.7" fill="#5a78e6"/>
<circle cx="288.2" cy="741.0" r="7.7" fill="#5a78e6"/>
<circle cx="727.5" cy="740.2" r="7.7" fill="#5a78e6"/>
<circle cx="603.8" cy="743.7" r="7.7" fill="#5a78e6"/>
<circle cx="598.5" cy="742.6" r="7.7" fill="#5a78e6"/>
<circle cx="833.3" cy="728.5" r="7.7" fill="#5a78e6"/>
<circle cx="389.6" cy="724.1" r="7.7" fill="#5a78e6"/>
<circle cx="791.8" cy="732.1" r="7.7" fill="#5a78e6"/>
<circle cx="655.4" cy="741.1" r="7.7" fill="#5a78e6"/>
<circle cx="390.5" cy="721.5" r="7.7" fill="#5a78e6"/>
<circle cx="523.7" cy="729.5" r="7.7" fill="#5a78e6"/>
<circle cx="486.6" cy="723.0" r="7.7" fill="#5a78e6"/>
<circle cx="405.4" cy="719.1" r="7.7" fill="#5a78e6"/>
<circle cx="446.5" cy="729.5" r="7.7" fill="#5a78e6"/>
<circle cx="334.0" cy="718.0" r="7.7" fill="#5a78e6"/>
<circle cx="243.1" cy="744.8" r="7.7" fill="#5a78e6"/>
<circle cx="672.6" cy="740.5" r="7.7" fill="#5a78e6"/>
<circle cx="866.6" cy="728.1" r="7.7" fill="#5a78e6"/>
<circle cx="667.4" cy="738.4" r="7.7" fill="#5a78e6"/>
<circle cx="734.1" cy="740.7" r="7.7" fill="#5a78e6"/>
<circle cx="697.2" cy="739.8" r="7.7" fill="#5a78e6"/>
<circle cx="853.3" cy="727.0" r="7.7" fill="#5a78e6"/>
<circle cx="701.7" cy="738.9" r="7.7" fill="#5a78e6"/>
<circle cx="421.8" cy="737.4" r="7.7" fill="#5a78e6"/>
<circle cx="682.9" cy="746.8" r="7.7" fill="#5a78e6"/>
<circle cx="211.2" cy="747.1" r="7.7" fill="#5a78e6"/>
<circle cx="606.0" cy="734.4" r="7.7" fill="#5a78e6"/>
<circle cx="432.6" cy="740.3" r="7.7" fill="#5a78e6"/>
<circle cx="505.0" cy="733.5" r="7.7" fill="#5a78e6"/>
<circle cx="814.5" cy="742.0" r="7.7" fill="#5a78e6"/>
<circle cx="529.2" cy="736.2" r="7.7" fill="#5a78e6"/>
<circle cx="237.4" cy="739.7" r="7.7" fill="#5a78e6"/>
<circle cx="797.7" cy="732.2" r="7.7" fill="#5a78e6"/>
<circle cx="516.3" cy="726.0" r="7.7" fill="#5a78e6"/>
<circle cx="625.7" cy="750.4" r="7.7" fill="#5a78e6"/>
<circle cx="396.8" cy="721.5" r="7.7" fill="#5a78e6"/>
<circle cx="458.0" cy="743.7" r="7.7" fill="#5a78e6"/>
<circle cx="429.6" cy="726.1" r="7.7" fill="#5a78e6"/>
<circle cx="319.2" cy="745.3" r="7.7" fill="#5a78e6"/>
<circle cx="517.3" cy="723.9" r="7.7" fill="#5a78e6"/>
<circle cx="447.4" cy="728.1" r="7.7" fill="#5a78e6"/>
<circle cx="821.2" cy="730.5" r="7.7" fill="#5a78e6"/>
<circle cx="411.1" cy="731.2" r="7.7" fill="#5a78e6"/>
<circle cx="218.3" cy="742.2" r="7.7" fill="#5a78e6"/>
<circle cx="866.8" cy="728.9" r="7.7" fill="#5a78e6"/>
<circle cx="224.2" cy="730.2" r="7.7" fill="#5a78e6"/>
<circle cx="198.3" cy="729.1" r="7.7" fill="#5a78e6"/>
<circle cx="451.3" cy="732.2" r="7.7" fill="#5a78e6"/>
<circle cx="276.0" cy="721.5" r="7.7" fill="#5a78e6"/>
<circle cx="230.4" cy="728.7" r="7.7" fill="#5a78e6"/>
<circle cx="630.8" cy="744.0" r="7.7" fill="#5a78e6"/>
<circle cx="382.2" cy="724.8" r="7.7" fill="#5a78e6"/>
<circle cx="872.3" cy="733.1" r="7.7" fill="#5a78e6"/>
<circle cx="187.5" cy="740.4" r="7.7" fill="#5a78e6"/>
<circle cx="617.6" cy="740.1" r="7.7" fill="#5a78e6"/>
<circle cx="535.5" cy="740.7" r="7.7" fill="#5a78e6"/>
<circle cx="305.5" cy="738.9" r="7.7" fill="#5a78e6"/>
<circle cx="378.0" cy="727.2" r="7.7" fill="#5a78e6"/>
<circle cx="452.7" cy="727.4" r="7.7" fill="#5a78e6"/>
<circle cx="248.2" cy="729.3" r="7.7" fill="#5a78e6"/>
<circle cx="371.3" cy="726.0" r="7.7" fill="#5a78e6"/>
<circle cx="637.8" cy="740.9" r="7.7" fill="#5a78e6"/>
<circle cx="573.5" cy="737.1" r="7.7" fill="#5a78e6"/>
<circle cx="413.7" cy="725.4" r="7.7" fill="#5a78e6"/>
<circle cx="478.3" cy="721.5" r="7.7" fill="#5a78e6"/>
<circle cx="307.3" cy="745.5" r="7.7" fill="#5a78e6"/>
<circle cx="881.1" cy="724.7" r="7.7" fill="#5a78e6"/>
<circle cx="872.4" cy="727.8" r="7.7" fill="#5a78e6"/>
<circle cx="749.3" cy="744.2" r="7.7" fill="#5a78e6"/>
<circle cx="192.5" cy="732.4" r="7.7" fill="#5a78e6"/>
<circle cx="780.6" cy="733.8" r="7.7" fill="#5a78e6"/>
<circle cx="270.2" cy="722.4" r="7.7" fill="#5a78e6"/>
<circle cx="460.9" cy="729.0" r="7.7" fill="#5a78e6"/>
<circle cx="191.6" cy="746.5" r="7.7" fill="#5a78e6"/>
<circle cx="416.5" cy="745.5" r="7.7" fill="#5a78e6"/>
<circle cx="346.2" cy="740.7" r="7.7" fill="#5a78e6"/>
<circle cx="832.4" cy="728.4" r="7.7" fill="#5a78e6"/>
<circle cx="814.2" cy="731.0" r="7.7" fill="#5a78e6"/>
<circle cx="885.7" cy="736.4" r="7.7" fill="#5a78e6"/>
<circle cx="255.8" cy="744.5" r="7.7" fill="#5a78e6"/>
<circle cx="373.2" cy="742.7" r="7.7" fill="#5a78e6"/>
<circle cx="283.3" cy="720.5" r="7.7" fill="#5a78e6"/>
<circle cx="503.7" cy="742.1" r="7.7" fill="#5a78e6"/>
<circle cx="748.5" cy="734.4" r="7.7" fill="#5a78e6"/>
<circle cx="683.7" cy="738.1" r="7.7" fill="#5a78e6"/>
<circle cx="517.0" cy="738.6" r="7.7" fill="#5a78e6"/>
<circle cx="331.4" cy="723.0" r="7.7" fill="#5a78e6"/>
<circle cx="689.8" cy="739.5" r="7.7" fill="#5a78e6"/>
<circle cx="650.6" cy="739.3" r="7.7" fill="#5a78e6"/>
<circle cx="703.7" cy="735.8" r="7.7" fill="#5a78e6"/>
<circle cx="809.1" cy="732.4" r="7.7" fill="#5a78e6"/>
<circle cx="763.0" cy="730.4" r="7.7" fill="#5a78e6"/>
<circle cx="473.0" cy="733.3" r="7.7" fill="#5a78e6"/>
<circle cx="351.8" cy="742.1" r="7.7" fill="#5a78e6"/>
<circle cx="860.9" cy="732.5" r="7.7" fill="#5a78e6"/>
<circle cx="331.4" cy="731.6" r="7.7" fill="#5a78e6"/>
<circle cx="756.4" cy="731.2" r="7.7" fill="#5a78e6"/>
<circle cx="421.2" cy="717.1" r="7.7" fill="#5a78e6"/>
<circle cx="318.2" cy="722.6" r="7.7" fill="#5a78e6"/>
<circle cx="709.9" cy="736.4" r="7.7" fill="#5a78e6"/>
<circle cx="311.9" cy="722.2" r="7.7" fill="#5a78e6"/>
<circle cx="187.1" cy="735.9" r="7.7" fill="#5a78e6"/>
<circle cx="363.5" cy="735.5" r="7.7" fill="#5a78e6"/>
<circle cx="324.9" cy="724.1" r="7.7" fill="#5a78e6"/>
<circle cx="468.8" cy="729.5" r="7.7" fill="#5a78e6"/>
<circle cx="262.1" cy="724.1" r="7.7" fill="#5a78e6"/>
<circle cx="644.0" cy="740.9" r="7.7" fill="#5a78e6"/>
<circle cx="206.5" cy="743.4" r="7.7" fill="#5a78e6"/>
<circle cx="817.6" cy="731.2" r="7.7" fill="#5a78e6"/>
<circle cx="644.4" cy="744.3" r="7.7" fill="#5a78e6"/>
<circle cx="181.6" cy="744.6" r="7.7" fill="#5a78e6"/>
<circle cx="295.0" cy="741.9" r="7.7" fill="#5a78e6"/>
<circle cx="581.8" cy="732.6" r="7.7" fill="#5a78e6"/>
<circle cx="846.7" cy="727.6" r="7.7" fill="#5a78e6"/>
<circle cx="598.3" cy="735.1" r="7.7" fill="#5a78e6"/>
<circle cx="402.3" cy="718.7" r="7.7" fill="#5a78e6"/>
<circle cx="427.5" cy="712.8" r="7.7" fill="#5a78e6"/>
<circle cx="485.3" cy="713.2" r="7.7" fill="#5a78e6"/>
<circle cx="517.4" cy="722.5" r="7.7" fill="#5a78e6"/>
<circle cx="339.1" cy="713.8" r="7.7" fill="#5a78e6"/>
<circle cx="347.7" cy="715.8" r="7.7" fill="#5a78e6"/>
<circle cx="309.7" cy="717.8" r="7.7" fill="#5a78e6"/>
<circle cx="313.8" cy="731.0" r="7.7" fill="#5a78e6"/>
<circle cx="241.7" cy="727.0" r="7.7" fill="#5a78e6"/>
<circle cx="370.6" cy="728.0" r="7.7" fill="#5a78e6"/>
<circle cx="567.6" cy="718.9" r="7.7" fill="#5a78e6"/>
<circle cx="555.8" cy="729.0" r="7.7" fill="#5a78e6"/>
<circle cx="587.9" cy="728.4" r="7.7" fill="#5a78e6"/>
<circle cx="607.2" cy="730.0" r="7.7" fill="#5a78e6"/>
<circle cx="662.0" cy="712.8" r="7.7" fill="#5a78e6"/>
<circle cx="670.1" cy="716.8" r="7.7" fill="#5a78e6"/>
<circle cx="627.5" cy="724.9" r="7.7" fill="#5a78e6"/>
<circle cx="710.7" cy="718.9" r="7.7" fill="#5a78e6"/>
<circle cx="701.6" cy="724.9" r="7.7" fill="#5a78e6"/>
<circle cx="686.3" cy="727.0" r="7.7" fill="#5a78e6"/>
<circle cx="277.4" cy="703.5" r="7.7" fill="#78f5f5"/>
<circle cx="317.0" cy="697.5" r="7.7" fill="#78f5f5"/>
<circle cx="435.7" cy="692.8" r="7.7" fill="#78f5f5"/>
<circle cx="447.0" cy="701.3" r="7.7" fill="#78f5f5"/>
<circle cx="442.1" cy="700.5" r="7.7" fill="#78f5f5"/>
<circle cx="625.7" cy="704.6" r="7.7" fill="#78f5f5"/>
<circle cx="637.0" cy="697.1" r="7.7" fill="#78f5f5"/>
<circle cx="638.2" cy="698.2" r="7.7" fill="#78f5f5"/>
<circle cx="651.5" cy="699.0" r="7.7" fill="#78f5f5"/>
<circle cx="632.7" cy="707.3" r="7.7" fill="#78f5f5"/>
<circle cx="650.9" cy="713.6" r="7.7" fill="#78f5f5"/>
<circle cx="637.1" cy="718.9" r="7.7" fill="#78f5f5"/>
<circle cx="678.5" cy="695.3" r="7.7" fill="#78f5f5"/>
<circle cx="692.0" cy="710.0" r="7.7" fill="#78f5f5"/>
<circle cx="691.0" cy="704.4" r="7.7" fill="#78f5f5"/>
<circle cx="703.2" cy="707.1" r="7.7" fill="#78f5f5"/>
<circle cx="285.3" cy="711.8" r="7.7" fill="#78f5f5"/>
<circle cx="277.8" cy="701.2" r="7.7" fill="#78f5f5"/>
<circle cx="318.8" cy="699.6" r="7.7" fill="#78f5f5"/>
<circle cx="434.0" cy="694.5" r="7.7" fill="#78f5f5"/>
<circle cx="446.8" cy="700.6" r="7.7" fill="#78f5f5"/>
<circle cx="439.0" cy="700.6" r="7.7" fill="#78f5f5"/>
<circle cx="459.5" cy="700.6" r="7.7" fill="#78f5f5"/>
<circle cx="479.2" cy="692.1" r="7.7" fill="#78f5f5"/>
<circle cx="489.0" cy="695.1" r="7.7" fill="#78f5f5"/>
<circle cx="407.2" cy="726.6" r="7.7" fill="#78f5f5"/>
<circle cx="416.3" cy="726.0" r="7.7" fill="#78f5f5"/>
<circle cx="578.7" cy="692.5" r="7.7" fill="#78f5f5"/>
<circle cx="572.0" cy="688.0" r="7.7" fill="#78f5f5"/>
<circle cx="598.4" cy="714.8" r="7.7" fill="#78f5f5"/>
<circle cx="623.4" cy="704.6" r="7.7" fill="#78f5f5"/>
<circle cx="639.6" cy="696.5" r="7.7" fill="#78f5f5"/>
<circle cx="651.8" cy="696.5" r="7.7" fill="#78f5f5"/>
<circle cx="634.6" cy="705.7" r="7.7" fill="#78f5f5"/>
<circle cx="664.0" cy="724.9" r="7.7" fill="#78f5f5"/>
<circle cx="652.8" cy="714.8" r="7.7" fill="#78f5f5"/>
<circle cx="637.0" cy="721.9" r="7.7" fill="#78f5f5"/>
<circle cx="679.2" cy="696.1" r="7.7" fill="#78f5f5"/>
<circle cx="690.4" cy="711.8" r="7.7" fill="#78f5f5"/>
<circle cx="687.8" cy="705.7" r="7.7" fill="#78f5f5"/>
<circle cx="704.6" cy="705.3" r="7.7" fill="#78f5f5"/>
<circle cx="318.6" cy="692.2" r="7.7" fill="#47e41f"/>
<circle cx="310.8" cy="693.9" r="7.7" fill="#47e41f"/>
<circle cx="616.4" cy="672.0" r="7.7" fill="#47e41f"/>
<circle cx="642.9" cy="670.2" r="7.7" fill="#47e41f"/>
<circle cx="629.8" cy="670.9" r="7.7" fill="#47e41f"/>
<circle cx="660.2" cy="675.5" r="7.7" fill="#47e41f"/>
<circle cx="670.8" cy="685.3" r="7.7" fill="#47e41f"/>
<circle cx="646.9" cy="691.7" r="7.7" fill="#47e41f"/>
<circle cx="651.1" cy="687.8" r="7.7" fill="#47e41f"/>
<circle cx="608.0" cy="694.9" r="7.7" fill="#47e41f"/>
<circle cx="288.8" cy="689.4" r="7.7" fill="#47e41f"/>
<circle cx="320.9" cy="692.5" r="7.7" fill="#47e41f"/>
<circle cx="313.4" cy="692.9" r="7.7" fill="#47e41f"/>
<circle cx="576.7" cy="667.7" r="7.7" fill="#47e41f"/>
<circle cx="552.9" cy="678.2" r="7.7" fill="#47e41f"/>
<circle cx="618.3" cy="671.1" r="7.7" fill="#47e41f"/>
<circle cx="640.7" cy="673.2" r="7.7" fill="#47e41f"/>
<circle cx="630.5" cy="672.2" r="7.7" fill="#47e41f"/>
<circle cx="659.9" cy="676.2" r="7.7" fill="#47e41f"/>
<circle cx="670.5" cy="684.3" r="7.7" fill="#47e41f"/>
<circle cx="649.8" cy="689.4" r="7.7" fill="#47e41f"/>
<circle cx="609.2" cy="695.5" r="7.7" fill="#47e41f"/>
<circle cx="598.4" cy="694.5" r="7.7" fill="#47e41f"/>
<circle cx="522.3" cy="672.4" r="7.7" fill="#eda637"/>
<circle cx="529.8" cy="658.1" r="7.7" fill="#eda637"/>
<circle cx="546.3" cy="651.6" r="7.7" fill="#eda637"/>
<circle cx="534.9" cy="663.9" r="7.7" fill="#eda637"/>
<circle cx="600.1" cy="651.5" r="7.7" fill="#eda637"/>
<circle cx="587.0" cy="658.9" r="7.7" fill="#eda637"/>
<circle cx="585.1" cy="649.2" r="7.7" fill="#eda637"/>
<circle cx="633.0" cy="662.4" r="7.7" fill="#eda637"/>
<circle cx="451.2" cy="660.0" r="7.7" fill="#eda637"/>
<circle cx="444.1" cy="661.0" r="7.7" fill="#eda637"/>
<circle cx="521.3" cy="674.2" r="7.7" fill="#eda637"/>
<circle cx="531.0" cy="661.0" r="7.7" fill="#eda637"/>
<circle cx="543.8" cy="651.9" r="7.7" fill="#eda637"/>
<circle cx="534.1" cy="662.0" r="7.7" fill="#eda637"/>
<circle cx="567.6" cy="640.7" r="7.7" fill="#eda637"/>
<circle cx="597.0" cy="649.8" r="7.7" fill="#eda637"/>
<circle cx="588.9" cy="657.9" r="7.7" fill="#eda637"/>
<circle cx="585.8" cy="649.8" r="7.7" fill="#eda637"/>
<circle cx="604.5" cy="669.1" r="7.7" fill="#eda637"/>
<circle cx="635.0" cy="662.6" r="7.7" fill="#eda637"/>
<circle cx="527.7" cy="626.1" r="7.7" fill="#ff2a18"/>
<circle cx="554.1" cy="624.2" r="7.7" fill="#ff2a18"/>
<circle cx="543.1" cy="627.8" r="7.7" fill="#ff2a18"/>
<circle cx="565.5" cy="634.5" r="7.7" fill="#ff2a18"/>
<circle cx="533.9" cy="628.9" r="7.7" fill="#ff2a18"/>
<circle cx="525.9" cy="626.5" r="7.7" fill="#ff2a18"/>
<circle cx="553.4" cy="625.5" r="7.7" fill="#ff2a18"/>
<circle cx="542.2" cy="629.1" r="7.7" fill="#ff2a18"/>
<circle cx="562.5" cy="635.6" r="7.7" fill="#ff2a18"/>
<circle cx="532.0" cy="631.5" r="7.7" fill="#ff2a18"/>
<path d="M534.1 609.2L543.7 618.8L534.1 628.4L524.5 618.8Z" fill="#c132fb" stroke="#000" stroke-width="3.3" stroke-linejoin="round"/>
</g>
<path d="M139.1 605.8V744.2M137.0 744.2H928.3" stroke="#000" stroke-width="4.5" fill="none"/>
<text x="117.5" y="646.8" class="a" text-anchor="end">15</text>
<text x="117.5" y="682.4" class="a" text-anchor="end">10</text>
<text x="117.5" y="718.0" class="a" text-anchor="end">5</text>
<text x="279.2" y="785.7" class="a" text-anchor="middle">49.1</text>
<text x="518.3" y="785.7" class="a" text-anchor="middle">49.2</text>
<text x="757.5" y="785.7" class="a" text-anchor="middle">49.3</text>
<path d="M126.8 637.2H138.1M126.8 672.8H138.1M126.8 708.4H138.1M279.2 745.2V756.5M518.3 745.2V756.5M757.5 745.2V756.5" stroke="#333" stroke-width="4.1" fill="none"/>
<text x="533.7" y="822.7" class="a" text-anchor="middle">Chromosome 19 (Mb)</text>
<text transform="translate(46.8 675.3) rotate(-90)" class="a" text-anchor="middle">-log10P</text>
<g clip-path="url(#cgc)">
<text x="168.5" y="901.5" class="g">SULT2B1<tspan class="ar" dx="-2.3" dy="-1.6">→</tspan></text>
<text x="280.3" y="901.5" class="g"><tspan class="ar" dy="-1.6">←</tspan><tspan dx="-3.0" dy="1.6">RPL18</tspan></text>
<text x="346.1" y="901.5" class="g"><tspan class="ar" dy="-1.6">←</tspan><tspan dx="-2.4" dy="1.6">CA11</tspan></text>
<text x="406.4" y="901.5" class="g"><tspan class="ar" dy="-1.6">←</tspan><tspan dx="-3.0" dy="1.6">NTN5</tspan></text>
<text x="492.7" y="901.5" class="g">FUT2<tspan class="ar" dx="-2.4" dy="-1.6">→</tspan></text>
<text x="550.9" y="901.5" class="g"><tspan class="ar" dy="-1.6">←</tspan><tspan dx="-3.0" dy="1.6">RASIP1</tspan></text>
<text x="623.0" y="901.5" class="g">FGF21<tspan class="ar" dx="-2.3" dy="-1.6">→</tspan></text>
<text x="730.9" y="901.5" class="g"><tspan class="ar" dy="-1.6">←</tspan><tspan dx="-3.0" dy="1.6">BCAT2</tspan></text>
<text x="838.8" y="901.5" class="g"><tspan class="ar" dy="-1.6">←</tspan><tspan dx="-3.0" dy="1.6">PLEKHA4</tspan></text>
<text x="248.0" y="936.2" class="g"><tspan class="ar" dy="-1.6">←</tspan><tspan dx="-3.0" dy="1.6">FAM83E</tspan></text>
<text x="330.9" y="936.2" class="g"><tspan class="ar" dy="-1.6">←</tspan><tspan dx="-3.0" dy="1.6">DBP</tspan></text>
<text x="507.6" y="936.2" class="g"><tspan class="ar" dy="-1.6">←</tspan><tspan dx="-3.0" dy="1.6">MAMSTR</tspan></text>
<text x="580.6" y="936.2" class="g"><tspan class="ar" dy="-1.6">←</tspan><tspan dx="-3.3" dy="1.6">IZUMO1</tspan></text>
<text x="764.7" y="936.2" class="g"><tspan class="ar" dy="-1.6">←</tspan><tspan dx="-3.0" dy="1.6">HSD17B14</tspan></text>
<text x="249.1" y="971.0" class="g">SPACA4<tspan class="ar" dx="-1.9" dy="-1.6">→</tspan></text>
<text x="613.7" y="971.0" class="g"><tspan class="ar" dy="-1.6">←</tspan><tspan dx="-3.0" dy="1.6">FUT1</tspan></text>
<text x="300.1" y="1005.8" class="g">SPHK2<tspan class="ar" dx="-2.4" dy="-1.6">→</tspan></text>
<path d="M165.1 910.3H281.9M319.4 910.3H331.2M374.7 910.3H396.2M431.7 910.3H461.6M515.4 910.3H541.8M575.9 910.3H626.5M661.2 910.3H669.7M757.0 910.3H798.2M860.2 910.3H938.5M283.9 945.0H319.9M355.6 945.0H374.7M557.0 945.0H575.3M625.0 945.0H641.3M801.1 945.0H860.2M642.9 979.8H662.6M329.2 1014.5H358.6" stroke="#000" stroke-width="4.4" fill="none"/>
<path d="M164.9 904.5H167.4V916.1H164.9ZM222.8 904.5H225.2V916.1H222.8ZM250.2 904.5H252.6V916.1H250.2ZM260.4 904.5H262.8V916.1H260.4ZM263.4 904.5H265.8V916.1H263.4ZM279.7 904.5H282.1V916.1H279.7ZM271.7 904.5H276.2V916.1H271.7ZM319.4 904.5H331.2V916.1H319.4ZM374.7 904.5H381.4V916.1H374.7ZM390.5 904.5H396.2V916.1H390.5ZM431.7 904.5H441.3V916.1H431.7ZM454.3 904.5H456.7V916.1H454.3ZM459.3 904.5H461.8V916.1H459.3ZM515.4 904.5H519.0V916.1H515.4ZM531.6 904.5H541.8V916.1H531.6ZM575.9 904.5H580.4V916.1H575.9ZM584.4 904.5H588.5V916.1H584.4ZM590.5 904.5H594.6V916.1H590.5ZM618.9 904.5H626.5V916.1H618.9ZM596.4 904.5H598.8V916.1H596.4ZM610.6 904.5H613.1V916.1H610.6ZM661.2 904.5H669.7V916.1H661.2ZM757.0 904.5H771.2V916.1H757.0ZM785.0 904.5H790.5V916.1H785.0ZM795.4 904.5H798.2V916.1H795.4ZM860.2 904.5H864.2V916.1H860.2ZM913.4 904.5H920.5V916.1H913.4ZM865.6 904.5H867.7V916.1H865.6ZM878.8 904.5H880.9V916.1H878.8ZM885.9 904.5H888.0V916.1H885.9ZM897.1 904.5H899.1V916.1H897.1ZM901.2 904.5H903.2V916.1H901.2ZM910.3 904.5H912.3V916.1H910.3ZM923.5 904.5H925.5V916.1H923.5ZM284.3 939.2H286.8V950.8H284.3ZM290.2 939.2H292.6V950.8H290.2ZM307.1 939.2H309.5V950.8H307.1ZM313.4 939.2H319.9V950.8H313.4ZM355.6 939.2H374.7V950.8H355.6ZM557.0 939.2H568.2V950.8H557.0ZM571.2 939.2H575.3V950.8H571.2ZM625.0 939.2H641.3V950.8H625.0ZM801.1 939.2H803.1V950.8H801.1ZM805.1 939.2H807.2V950.8H805.1ZM846.8 939.2H848.8V950.8H846.8ZM850.0 939.2H852.0V950.8H850.0ZM853.9 939.2H855.9V950.8H853.9ZM857.7 939.2H859.8V950.8H857.7ZM298.5 974.0H301.8V985.6H298.5ZM642.9 974.0H653.5V985.6H642.9ZM655.7 974.0H658.1V985.6H655.7ZM659.8 974.0H662.2V985.6H659.8ZM329.2 1008.8H333.7V1020.3H329.2ZM340.8 1008.8H358.6V1020.3H340.8Z" fill="#000"/>
</g>
</g>
<g id="panel-d">
<text x="977.3" y="552.6" class="pl">d</text>
<text x="1110.8" y="576.1" class="t">Trait: Coprobacillus cateniformis; rsID: rs4556017</text>
<clipPath id="cpd"><rect x="1111.3" y="597.8" width="788.2" height="144.9"/></clipPath>
<clipPath id="cgd"><rect x="1108.8" y="844.2" width="790.7" height="300"/></clipPath>
<line x1="1111.3" y1="688.4" x2="1899.5" y2="688.4" stroke="#bebebe" stroke-width="4" stroke-dasharray="18.6 19.5"/>
<g clip-path="url(#cpd)" stroke="#000" stroke-width="3.3">
<circle cx="1230.9" cy="725.8" r="7.7" fill="#5a78e6"/>
<circle cx="1181.1" cy="702.3" r="7.7" fill="#5a78e6"/>
<circle cx="1176.7" cy="702.9" r="7.7" fill="#5a78e6"/>
<circle cx="1207.1" cy="709.0" r="7.7" fill="#5a78e6"/>
<circle cx="1192.6" cy="721.2" r="7.7" fill="#5a78e6"/>
<circle cx="1228.2" cy="701.8" r="7.7" fill="#5a78e6"/>
<circle cx="1239.2" cy="736.8" r="7.7" fill="#5a78e6"/>
<circle cx="1179.6" cy="725.6" r="7.7" fill="#5a78e6"/>
<circle cx="1164.5" cy="718.7" r="7.7" fill="#5a78e6"/>
<circle cx="1228.5" cy="742.4" r="7.7" fill="#5a78e6"/>
<circle cx="1172.2" cy="742.5" r="7.7" fill="#5a78e6"/>
<circle cx="1220.3" cy="708.5" r="7.7" fill="#5a78e6"/>
<circle cx="1212.8" cy="717.2" r="7.7" fill="#5a78e6"/>
<circle cx="1180.3" cy="713.1" r="7.7" fill="#5a78e6"/>
<circle cx="1238.8" cy="720.7" r="7.7" fill="#5a78e6"/>
<circle cx="1231.5" cy="714.7" r="7.7" fill="#5a78e6"/>
<circle cx="1220.0" cy="743.0" r="7.7" fill="#5a78e6"/>
<circle cx="1226.9" cy="717.2" r="7.7" fill="#5a78e6"/>
<circle cx="1153.1" cy="720.0" r="7.7" fill="#5a78e6"/>
<circle cx="1225.2" cy="717.7" r="7.7" fill="#5a78e6"/>
<circle cx="1197.9" cy="736.3" r="7.7" fill="#5a78e6"/>
<circle cx="1176.9" cy="733.0" r="7.7" fill="#5a78e6"/>
<circle cx="1171.2" cy="722.5" r="7.7" fill="#5a78e6"/>
<circle cx="1219.7" cy="733.6" r="7.7" fill="#5a78e6"/>
<circle cx="1195.4" cy="720.1" r="7.7" fill="#5a78e6"/>
<circle cx="1147.9" cy="743.7" r="7.7" fill="#5a78e6"/>
<circle cx="1236.2" cy="740.2" r="7.7" fill="#5a78e6"/>
<circle cx="1187.7" cy="707.7" r="7.7" fill="#5a78e6"/>
<circle cx="1183.7" cy="745.9" r="7.7" fill="#5a78e6"/>
<circle cx="1187.2" cy="736.8" r="7.7" fill="#5a78e6"/>
<circle cx="1170.6" cy="703.3" r="7.7" fill="#5a78e6"/>
<circle cx="1144.8" cy="731.9" r="7.7" fill="#5a78e6"/>
<circle cx="1164.1" cy="737.3" r="7.7" fill="#5a78e6"/>
<circle cx="1207.0" cy="711.2" r="7.7" fill="#5a78e6"/>
<circle cx="1159.2" cy="731.5" r="7.7" fill="#5a78e6"/>
<circle cx="1200.8" cy="728.4" r="7.7" fill="#5a78e6"/>
<circle cx="1166.3" cy="743.6" r="7.7" fill="#5a78e6"/>
<circle cx="1193.7" cy="711.2" r="7.7" fill="#5a78e6"/>
<circle cx="1160.0" cy="721.3" r="7.7" fill="#5a78e6"/>
<circle cx="1200.5" cy="708.4" r="7.7" fill="#5a78e6"/>
<circle cx="1189.1" cy="730.8" r="7.7" fill="#5a78e6"/>
<circle cx="1146.3" cy="720.7" r="7.7" fill="#5a78e6"/>
<circle cx="1205.8" cy="728.0" r="7.7" fill="#5a78e6"/>
<circle cx="1176.5" cy="721.1" r="7.7" fill="#5a78e6"/>
<circle cx="1231.3" cy="723.0" r="7.7" fill="#5a78e6"/>
<circle cx="1215.1" cy="708.2" r="7.7" fill="#5a78e6"/>
<circle cx="1214.8" cy="725.7" r="7.7" fill="#5a78e6"/>
<circle cx="1155.9" cy="731.8" r="7.7" fill="#5a78e6"/>
<circle cx="1293.1" cy="745.8" r="7.7" fill="#5a78e6"/>
<circle cx="1320.1" cy="745.2" r="7.7" fill="#5a78e6"/>
<circle cx="1317.5" cy="744.2" r="7.7" fill="#5a78e6"/>
<circle cx="1266.1" cy="743.8" r="7.7" fill="#5a78e6"/>
<circle cx="1256.2" cy="744.3" r="7.7" fill="#5a78e6"/>
<circle cx="1264.7" cy="747.0" r="7.7" fill="#5a78e6"/>
<circle cx="1251.6" cy="744.0" r="7.7" fill="#5a78e6"/>
<circle cx="1299.2" cy="744.4" r="7.7" fill="#5a78e6"/>
<circle cx="1272.7" cy="744.7" r="7.7" fill="#5a78e6"/>
<circle cx="1254.7" cy="745.8" r="7.7" fill="#5a78e6"/>
<circle cx="1279.8" cy="744.4" r="7.7" fill="#5a78e6"/>
<circle cx="1309.7" cy="745.4" r="7.7" fill="#5a78e6"/>
<circle cx="1304.3" cy="741.3" r="7.7" fill="#5a78e6"/>
<circle cx="1263.2" cy="742.9" r="7.7" fill="#5a78e6"/>
<circle cx="1305.6" cy="745.9" r="7.7" fill="#5a78e6"/>
<circle cx="1284.4" cy="743.3" r="7.7" fill="#5a78e6"/>
<circle cx="1341.7" cy="728.4" r="7.7" fill="#5a78e6"/>
<circle cx="1352.3" cy="727.3" r="7.7" fill="#5a78e6"/>
<circle cx="1348.2" cy="744.1" r="7.7" fill="#5a78e6"/>
<circle cx="1382.5" cy="737.8" r="7.7" fill="#5a78e6"/>
<circle cx="1351.2" cy="739.5" r="7.7" fill="#5a78e6"/>
<circle cx="1357.6" cy="724.4" r="7.7" fill="#5a78e6"/>
<circle cx="1381.3" cy="717.5" r="7.7" fill="#5a78e6"/>
<circle cx="1364.9" cy="717.0" r="7.7" fill="#5a78e6"/>
<circle cx="1343.7" cy="742.5" r="7.7" fill="#5a78e6"/>
<circle cx="1365.0" cy="723.5" r="7.7" fill="#5a78e6"/>
<circle cx="1367.0" cy="734.5" r="7.7" fill="#5a78e6"/>
<circle cx="1357.5" cy="735.4" r="7.7" fill="#5a78e6"/>
<circle cx="1374.3" cy="739.9" r="7.7" fill="#5a78e6"/>
<circle cx="1381.9" cy="741.3" r="7.7" fill="#5a78e6"/>
<circle cx="1340.7" cy="745.5" r="7.7" fill="#5a78e6"/>
<circle cx="1375.1" cy="723.6" r="7.7" fill="#5a78e6"/>
<circle cx="1364.4" cy="741.0" r="7.7" fill="#5a78e6"/>
<circle cx="1334.9" cy="731.4" r="7.7" fill="#5a78e6"/>
<circle cx="1347.3" cy="727.5" r="7.7" fill="#5a78e6"/>
<circle cx="1335.7" cy="745.7" r="7.7" fill="#5a78e6"/>
<circle cx="1368.5" cy="722.2" r="7.7" fill="#5a78e6"/>
<circle cx="1389.9" cy="735.6" r="7.7" fill="#5a78e6"/>
<circle cx="1387.5" cy="742.6" r="7.7" fill="#5a78e6"/>
<circle cx="1387.5" cy="718.2" r="7.7" fill="#5a78e6"/>
<circle cx="1660.9" cy="728.8" r="7.7" fill="#5a78e6"/>
<circle cx="1762.2" cy="732.7" r="7.7" fill="#5a78e6"/>
<circle cx="1549.2" cy="735.4" r="7.7" fill="#5a78e6"/>
<circle cx="1573.3" cy="730.7" r="7.7" fill="#5a78e6"/>
<circle cx="1476.6" cy="731.4" r="7.7" fill="#5a78e6"/>
<circle cx="1628.7" cy="737.9" r="7.7" fill="#5a78e6"/>
<circle cx="1495.5" cy="746.4" r="7.7" fill="#5a78e6"/>
<circle cx="1588.7" cy="745.1" r="7.7" fill="#5a78e6"/>
<circle cx="1838.7" cy="744.6" r="7.7" fill="#5a78e6"/>
<circle cx="1710.0" cy="737.3" r="7.7" fill="#5a78e6"/>
<circle cx="1687.8" cy="734.8" r="7.7" fill="#5a78e6"/>
<circle cx="1600.2" cy="728.0" r="7.7" fill="#5a78e6"/>
<circle cx="1647.9" cy="726.8" r="7.7" fill="#5a78e6"/>
<circle cx="1802.4" cy="735.6" r="7.7" fill="#5a78e6"/>
<circle cx="1773.7" cy="737.7" r="7.7" fill="#5a78e6"/>
<circle cx="1826.1" cy="739.7" r="7.7" fill="#5a78e6"/>
<circle cx="1672.1" cy="731.7" r="7.7" fill="#5a78e6"/>
<circle cx="1839.3" cy="743.8" r="7.7" fill="#5a78e6"/>
<circle cx="1580.7" cy="731.5" r="7.7" fill="#5a78e6"/>
<circle cx="1819.5" cy="744.7" r="7.7" fill="#5a78e6"/>
<circle cx="1511.6" cy="735.5" r="7.7" fill="#5a78e6"/>
<circle cx="1500.6" cy="733.3" r="7.7" fill="#5a78e6"/>
<circle cx="1633.7" cy="738.5" r="7.7" fill="#5a78e6"/>
<circle cx="1490.4" cy="734.5" r="7.7" fill="#5a78e6"/>
<circle cx="1752.7" cy="739.9" r="7.7" fill="#5a78e6"/>
<circle cx="1787.0" cy="740.1" r="7.7" fill="#5a78e6"/>
<circle cx="1635.5" cy="726.5" r="7.7" fill="#5a78e6"/>
<circle cx="1553.5" cy="743.3" r="7.7" fill="#5a78e6"/>
<circle cx="1715.5" cy="737.5" r="7.7" fill="#5a78e6"/>
<circle cx="1677.1" cy="739.9" r="7.7" fill="#5a78e6"/>
<circle cx="1731.5" cy="735.8" r="7.7" fill="#5a78e6"/>
<circle cx="1610.4" cy="727.6" r="7.7" fill="#5a78e6"/>
<circle cx="1499.1" cy="744.0" r="7.7" fill="#5a78e6"/>
<circle cx="1684.9" cy="729.5" r="7.7" fill="#5a78e6"/>
<circle cx="1630.5" cy="723.5" r="7.7" fill="#5a78e6"/>
<circle cx="1782.7" cy="742.8" r="7.7" fill="#5a78e6"/>
<circle cx="1696.6" cy="737.4" r="7.7" fill="#5a78e6"/>
<circle cx="1533.2" cy="744.3" r="7.7" fill="#5a78e6"/>
<circle cx="1567.3" cy="729.4" r="7.7" fill="#5a78e6"/>
<circle cx="1787.3" cy="740.9" r="7.7" fill="#5a78e6"/>
<circle cx="1732.7" cy="736.9" r="7.7" fill="#5a78e6"/>
<circle cx="1525.1" cy="742.5" r="7.7" fill="#5a78e6"/>
<circle cx="1464.7" cy="738.8" r="7.7" fill="#5a78e6"/>
<circle cx="1700.7" cy="740.2" r="7.7" fill="#5a78e6"/>
<circle cx="1661.8" cy="734.1" r="7.7" fill="#5a78e6"/>
<circle cx="1482.3" cy="728.4" r="7.7" fill="#5a78e6"/>
<circle cx="1695.8" cy="734.2" r="7.7" fill="#5a78e6"/>
<circle cx="1559.5" cy="731.0" r="7.7" fill="#5a78e6"/>
<circle cx="1618.9" cy="739.6" r="7.7" fill="#5a78e6"/>
<circle cx="1562.5" cy="726.7" r="7.7" fill="#5a78e6"/>
<circle cx="1668.4" cy="737.2" r="7.7" fill="#5a78e6"/>
<circle cx="1738.7" cy="737.6" r="7.7" fill="#5a78e6"/>
<circle cx="1581.2" cy="738.4" r="7.7" fill="#5a78e6"/>
<circle cx="1832.7" cy="740.7" r="7.7" fill="#5a78e6"/>
<circle cx="1666.1" cy="736.4" r="7.7" fill="#5a78e6"/>
<circle cx="1743.6" cy="738.9" r="7.7" fill="#5a78e6"/>
<circle cx="1609.6" cy="735.5" r="7.7" fill="#5a78e6"/>
<circle cx="1781.6" cy="740.9" r="7.7" fill="#5a78e6"/>
<circle cx="1476.2" cy="736.0" r="7.7" fill="#5a78e6"/>
<circle cx="1604.6" cy="726.1" r="7.7" fill="#5a78e6"/>
<circle cx="1463.9" cy="742.1" r="7.7" fill="#5a78e6"/>
<circle cx="1594.6" cy="741.4" r="7.7" fill="#5a78e6"/>
<circle cx="1690.7" cy="734.6" r="7.7" fill="#5a78e6"/>
<circle cx="1640.5" cy="741.0" r="7.7" fill="#5a78e6"/>
<circle cx="1813.8" cy="742.8" r="7.7" fill="#5a78e6"/>
<circle cx="1640.4" cy="726.9" r="7.7" fill="#5a78e6"/>
<circle cx="1511.9" cy="741.3" r="7.7" fill="#5a78e6"/>
<circle cx="1530.5" cy="744.3" r="7.7" fill="#5a78e6"/>
<circle cx="1717.8" cy="737.0" r="7.7" fill="#5a78e6"/>
<circle cx="1567.3" cy="731.0" r="7.7" fill="#5a78e6"/>
<circle cx="1704.6" cy="729.0" r="7.7" fill="#5a78e6"/>
<circle cx="1655.4" cy="740.2" r="7.7" fill="#5a78e6"/>
<circle cx="1676.9" cy="735.0" r="7.7" fill="#5a78e6"/>
<circle cx="1757.0" cy="738.4" r="7.7" fill="#5a78e6"/>
<circle cx="1541.7" cy="739.0" r="7.7" fill="#5a78e6"/>
<circle cx="1591.4" cy="727.5" r="7.7" fill="#5a78e6"/>
<circle cx="1652.0" cy="727.5" r="7.7" fill="#5a78e6"/>
<circle cx="1847.4" cy="746.0" r="7.7" fill="#5a78e6"/>
<circle cx="1469.2" cy="740.1" r="7.7" fill="#5a78e6"/>
<circle cx="1767.6" cy="733.4" r="7.7" fill="#5a78e6"/>
<circle cx="1547.0" cy="738.4" r="7.7" fill="#5a78e6"/>
<circle cx="1704.5" cy="739.6" r="7.7" fill="#5a78e6"/>
<circle cx="1646.7" cy="739.5" r="7.7" fill="#5a78e6"/>
<circle cx="1535.8" cy="741.6" r="7.7" fill="#5a78e6"/>
<circle cx="1711.0" cy="743.8" r="7.7" fill="#5a78e6"/>
<circle cx="1665.2" cy="730.7" r="7.7" fill="#5a78e6"/>
<circle cx="1488.4" cy="726.1" r="7.7" fill="#5a78e6"/>
<circle cx="1682.0" cy="745.9" r="7.7" fill="#5a78e6"/>
<circle cx="1748.8" cy="741.4" r="7.7" fill="#5a78e6"/>
<circle cx="1604.7" cy="742.0" r="7.7" fill="#5a78e6"/>
<circle cx="1539.0" cy="738.2" r="7.7" fill="#5a78e6"/>
<circle cx="1853.2" cy="743.6" r="7.7" fill="#5a78e6"/>
<circle cx="1846.6" cy="743.4" r="7.7" fill="#5a78e6"/>
<circle cx="1699.5" cy="729.1" r="7.7" fill="#5a78e6"/>
<circle cx="1822.4" cy="736.9" r="7.7" fill="#5a78e6"/>
<circle cx="1625.0" cy="725.1" r="7.7" fill="#5a78e6"/>
<circle cx="1801.7" cy="741.9" r="7.7" fill="#5a78e6"/>
<circle cx="1631.2" cy="745.4" r="7.7" fill="#5a78e6"/>
<circle cx="1722.8" cy="737.7" r="7.7" fill="#5a78e6"/>
<circle cx="1796.1" cy="736.0" r="7.7" fill="#5a78e6"/>
<circle cx="1587.5" cy="728.2" r="7.7" fill="#5a78e6"/>
<circle cx="1743.5" cy="742.5" r="7.7" fill="#5a78e6"/>
<circle cx="1617.5" cy="724.5" r="7.7" fill="#5a78e6"/>
<circle cx="1555.1" cy="731.5" r="7.7" fill="#5a78e6"/>
<circle cx="1809.8" cy="738.1" r="7.7" fill="#5a78e6"/>
<circle cx="1728.8" cy="736.2" r="7.7" fill="#5a78e6"/>
<circle cx="1596.7" cy="728.1" r="7.7" fill="#5a78e6"/>
<circle cx="1626.4" cy="735.5" r="7.7" fill="#5a78e6"/>
<circle cx="1505.8" cy="734.3" r="7.7" fill="#5a78e6"/>
<circle cx="1471.0" cy="734.9" r="7.7" fill="#5a78e6"/>
<circle cx="1814.9" cy="737.8" r="7.7" fill="#5a78e6"/>
<circle cx="1737.9" cy="738.8" r="7.7" fill="#5a78e6"/>
<circle cx="1858.6" cy="742.8" r="7.7" fill="#5a78e6"/>
<circle cx="1481.1" cy="744.8" r="7.7" fill="#5a78e6"/>
<circle cx="1495.1" cy="720.4" r="7.7" fill="#5a78e6"/>
<circle cx="1570.9" cy="728.6" r="7.7" fill="#5a78e6"/>
<circle cx="1529.0" cy="741.4" r="7.7" fill="#5a78e6"/>
<circle cx="1507.7" cy="740.1" r="7.7" fill="#5a78e6"/>
<circle cx="1519.1" cy="747.9" r="7.7" fill="#5a78e6"/>
<circle cx="1611.6" cy="741.1" r="7.7" fill="#5a78e6"/>
<circle cx="1171.1" cy="700.6" r="7.7" fill="#5a78e6"/>
<circle cx="1179.2" cy="700.6" r="7.7" fill="#5a78e6"/>
<circle cx="1221.2" cy="695.9" r="7.7" fill="#5a78e6"/>
<circle cx="1150.8" cy="720.9" r="7.7" fill="#5a78e6"/>
<circle cx="1162.9" cy="720.9" r="7.7" fill="#5a78e6"/>
<circle cx="1183.9" cy="717.4" r="7.7" fill="#5a78e6"/>
<circle cx="1198.5" cy="717.8" r="7.7" fill="#5a78e6"/>
<circle cx="1221.2" cy="718.2" r="7.7" fill="#5a78e6"/>
<circle cx="1235.0" cy="718.9" r="7.7" fill="#5a78e6"/>
<circle cx="1150.8" cy="736.1" r="7.7" fill="#5a78e6"/>
<circle cx="1167.0" cy="735.1" r="7.7" fill="#5a78e6"/>
<circle cx="1217.8" cy="734.7" r="7.7" fill="#5a78e6"/>
<circle cx="1238.1" cy="729.0" r="7.7" fill="#5a78e6"/>
<circle cx="1246.2" cy="713.4" r="7.7" fill="#5a78e6"/>
<circle cx="1252.3" cy="712.8" r="7.7" fill="#5a78e6"/>
<circle cx="1258.4" cy="712.2" r="7.7" fill="#5a78e6"/>
<circle cx="1266.5" cy="712.2" r="7.7" fill="#5a78e6"/>
<circle cx="1277.1" cy="715.2" r="7.7" fill="#5a78e6"/>
<circle cx="1303.0" cy="714.8" r="7.7" fill="#5a78e6"/>
<circle cx="1314.2" cy="715.4" r="7.7" fill="#5a78e6"/>
<circle cx="1332.5" cy="714.8" r="7.7" fill="#5a78e6"/>
<circle cx="1351.8" cy="732.1" r="7.7" fill="#5a78e6"/>
<circle cx="1389.3" cy="730.4" r="7.7" fill="#5a78e6"/>
<circle cx="1394.4" cy="715.8" r="7.7" fill="#5a78e6"/>
<circle cx="1366.0" cy="714.8" r="7.7" fill="#5a78e6"/>
<circle cx="1571.1" cy="723.9" r="7.7" fill="#5a78e6"/>
<circle cx="1567.0" cy="717.8" r="7.7" fill="#5a78e6"/>
<circle cx="1603.6" cy="724.3" r="7.7" fill="#5a78e6"/>
<circle cx="1621.8" cy="727.4" r="7.7" fill="#5a78e6"/>
<circle cx="1589.3" cy="730.0" r="7.7" fill="#5a78e6"/>
<circle cx="1701.0" cy="721.9" r="7.7" fill="#5a78e6"/>
<circle cx="1711.2" cy="733.7" r="7.7" fill="#5a78e6"/>
<circle cx="1682.7" cy="727.0" r="7.7" fill="#5a78e6"/>
<circle cx="1202.6" cy="695.5" r="7.7" fill="#78f5f5"/>
<circle cx="1283.3" cy="681.4" r="7.7" fill="#78f5f5"/>
<circle cx="1253.4" cy="689.6" r="7.7" fill="#78f5f5"/>
<circle cx="1278.8" cy="692.7" r="7.7" fill="#78f5f5"/>
<circle cx="1269.6" cy="689.9" r="7.7" fill="#78f5f5"/>
<circle cx="1306.0" cy="694.1" r="7.7" fill="#78f5f5"/>
<circle cx="1293.6" cy="690.1" r="7.7" fill="#78f5f5"/>
<circle cx="1295.8" cy="689.1" r="7.7" fill="#78f5f5"/>
<circle cx="1312.9" cy="692.7" r="7.7" fill="#78f5f5"/>
<circle cx="1306.9" cy="692.7" r="7.7" fill="#78f5f5"/>
<circle cx="1322.0" cy="691.6" r="7.7" fill="#78f5f5"/>
<circle cx="1326.5" cy="691.6" r="7.7" fill="#78f5f5"/>
<circle cx="1334.1" cy="691.8" r="7.7" fill="#78f5f5"/>
<circle cx="1340.2" cy="690.6" r="7.7" fill="#78f5f5"/>
<circle cx="1353.9" cy="692.1" r="7.7" fill="#78f5f5"/>
<circle cx="1354.1" cy="694.1" r="7.7" fill="#78f5f5"/>
<circle cx="1349.3" cy="707.3" r="7.7" fill="#78f5f5"/>
<circle cx="1484.8" cy="710.8" r="7.7" fill="#78f5f5"/>
<circle cx="1492.5" cy="714.0" r="7.7" fill="#78f5f5"/>
<circle cx="1506.4" cy="713.2" r="7.7" fill="#78f5f5"/>
<circle cx="1524.3" cy="713.1" r="7.7" fill="#78f5f5"/>
<circle cx="1528.5" cy="714.4" r="7.7" fill="#78f5f5"/>
<circle cx="1545.6" cy="719.5" r="7.7" fill="#78f5f5"/>
<circle cx="1533.7" cy="712.1" r="7.7" fill="#78f5f5"/>
<circle cx="1529.8" cy="698.2" r="7.7" fill="#78f5f5"/>
<circle cx="1527.6" cy="697.2" r="7.7" fill="#78f5f5"/>
<circle cx="1578.1" cy="708.6" r="7.7" fill="#78f5f5"/>
<circle cx="1588.3" cy="709.5" r="7.7" fill="#78f5f5"/>
<circle cx="1603.2" cy="703.1" r="7.7" fill="#78f5f5"/>
<circle cx="1595.7" cy="703.9" r="7.7" fill="#78f5f5"/>
<circle cx="1612.0" cy="698.1" r="7.7" fill="#78f5f5"/>
<circle cx="1615.3" cy="694.8" r="7.7" fill="#78f5f5"/>
<circle cx="1625.4" cy="691.8" r="7.7" fill="#78f5f5"/>
<circle cx="1624.0" cy="687.6" r="7.7" fill="#78f5f5"/>
<circle cx="1645.0" cy="683.7" r="7.7" fill="#78f5f5"/>
<circle cx="1634.9" cy="703.9" r="7.7" fill="#78f5f5"/>
<circle cx="1661.7" cy="695.2" r="7.7" fill="#78f5f5"/>
<circle cx="1650.4" cy="692.1" r="7.7" fill="#78f5f5"/>
<circle cx="1687.1" cy="698.4" r="7.7" fill="#78f5f5"/>
<circle cx="1674.6" cy="700.1" r="7.7" fill="#78f5f5"/>
<circle cx="1655.1" cy="712.8" r="7.7" fill="#78f5f5"/>
<circle cx="1661.7" cy="712.1" r="7.7" fill="#78f5f5"/>
<circle cx="1640.5" cy="718.5" r="7.7" fill="#78f5f5"/>
<circle cx="1213.7" cy="695.1" r="7.7" fill="#78f5f5"/>
<circle cx="1191.4" cy="695.5" r="7.7" fill="#78f5f5"/>
<circle cx="1203.6" cy="696.1" r="7.7" fill="#78f5f5"/>
<circle cx="1282.1" cy="684.3" r="7.7" fill="#78f5f5"/>
<circle cx="1254.3" cy="692.1" r="7.7" fill="#78f5f5"/>
<circle cx="1247.2" cy="691.4" r="7.7" fill="#78f5f5"/>
<circle cx="1278.7" cy="692.5" r="7.7" fill="#78f5f5"/>
<circle cx="1268.5" cy="692.1" r="7.7" fill="#78f5f5"/>
<circle cx="1303.0" cy="694.5" r="7.7" fill="#78f5f5"/>
<circle cx="1294.9" cy="692.1" r="7.7" fill="#78f5f5"/>
<circle cx="1310.2" cy="693.1" r="7.7" fill="#78f5f5"/>
<circle cx="1323.4" cy="693.5" r="7.7" fill="#78f5f5"/>
<circle cx="1327.4" cy="688.8" r="7.7" fill="#78f5f5"/>
<circle cx="1337.2" cy="693.5" r="7.7" fill="#78f5f5"/>
<circle cx="1351.8" cy="692.5" r="7.7" fill="#78f5f5"/>
<circle cx="1351.2" cy="706.1" r="7.7" fill="#78f5f5"/>
<circle cx="1387.3" cy="710.7" r="7.7" fill="#78f5f5"/>
<circle cx="1383.7" cy="703.6" r="7.7" fill="#78f5f5"/>
<circle cx="1361.9" cy="723.3" r="7.7" fill="#78f5f5"/>
<circle cx="1467.9" cy="699.2" r="7.7" fill="#78f5f5"/>
<circle cx="1485.8" cy="709.7" r="7.7" fill="#78f5f5"/>
<circle cx="1495.9" cy="716.8" r="7.7" fill="#78f5f5"/>
<circle cx="1508.1" cy="714.8" r="7.7" fill="#78f5f5"/>
<circle cx="1525.4" cy="714.8" r="7.7" fill="#78f5f5"/>
<circle cx="1543.7" cy="717.4" r="7.7" fill="#78f5f5"/>
<circle cx="1533.1" cy="712.8" r="7.7" fill="#78f5f5"/>
<circle cx="1526.4" cy="698.6" r="7.7" fill="#78f5f5"/>
<circle cx="1553.8" cy="704.0" r="7.7" fill="#78f5f5"/>
<circle cx="1575.1" cy="706.1" r="7.7" fill="#78f5f5"/>
<circle cx="1589.3" cy="708.7" r="7.7" fill="#78f5f5"/>
<circle cx="1604.6" cy="703.6" r="7.7" fill="#78f5f5"/>
<circle cx="1593.4" cy="702.6" r="7.7" fill="#78f5f5"/>
<circle cx="1615.1" cy="696.5" r="7.7" fill="#78f5f5"/>
<circle cx="1625.9" cy="690.4" r="7.7" fill="#78f5f5"/>
<circle cx="1642.1" cy="682.3" r="7.7" fill="#78f5f5"/>
<circle cx="1635.0" cy="704.0" r="7.7" fill="#78f5f5"/>
<circle cx="1663.5" cy="692.5" r="7.7" fill="#78f5f5"/>
<circle cx="1652.9" cy="691.0" r="7.7" fill="#78f5f5"/>
<circle cx="1697.0" cy="700.0" r="7.7" fill="#78f5f5"/>
<circle cx="1686.2" cy="700.0" r="7.7" fill="#78f5f5"/>
<circle cx="1672.6" cy="699.2" r="7.7" fill="#78f5f5"/>
<circle cx="1658.4" cy="710.1" r="7.7" fill="#78f5f5"/>
<circle cx="1641.5" cy="717.4" r="7.7" fill="#78f5f5"/>
<circle cx="1660.4" cy="719.9" r="7.7" fill="#78f5f5"/>
<circle cx="1731.9" cy="709.7" r="7.7" fill="#78f5f5"/>
<circle cx="1377.2" cy="674.3" r="7.7" fill="#47e41f"/>
<circle cx="1363.5" cy="679.3" r="7.7" fill="#47e41f"/>
<circle cx="1358.7" cy="680.3" r="7.7" fill="#47e41f"/>
<circle cx="1494.6" cy="695.8" r="7.7" fill="#47e41f"/>
<circle cx="1497.1" cy="698.0" r="7.7" fill="#47e41f"/>
<circle cx="1511.0" cy="694.0" r="7.7" fill="#47e41f"/>
<circle cx="1509.6" cy="691.9" r="7.7" fill="#47e41f"/>
<circle cx="1527.2" cy="693.8" r="7.7" fill="#47e41f"/>
<circle cx="1527.6" cy="694.6" r="7.7" fill="#47e41f"/>
<circle cx="1611.8" cy="683.2" r="7.7" fill="#47e41f"/>
<circle cx="1611.8" cy="678.7" r="7.7" fill="#47e41f"/>
<circle cx="1621.0" cy="685.2" r="7.7" fill="#47e41f"/>
<circle cx="1617.3" cy="685.5" r="7.7" fill="#47e41f"/>
<circle cx="1635.7" cy="683.4" r="7.7" fill="#47e41f"/>
<circle cx="1372.7" cy="660.4" r="7.7" fill="#47e41f"/>
<circle cx="1379.8" cy="675.8" r="7.7" fill="#47e41f"/>
<circle cx="1362.9" cy="678.7" r="7.7" fill="#47e41f"/>
<circle cx="1355.2" cy="678.2" r="7.7" fill="#47e41f"/>
<circle cx="1497.0" cy="695.9" r="7.7" fill="#47e41f"/>
<circle cx="1500.0" cy="695.5" r="7.7" fill="#47e41f"/>
<circle cx="1508.1" cy="694.5" r="7.7" fill="#47e41f"/>
<circle cx="1524.4" cy="694.5" r="7.7" fill="#47e41f"/>
<circle cx="1530.5" cy="692.1" r="7.7" fill="#47e41f"/>
<circle cx="1594.4" cy="680.3" r="7.7" fill="#47e41f"/>
<circle cx="1609.6" cy="681.3" r="7.7" fill="#47e41f"/>
<circle cx="1618.4" cy="682.7" r="7.7" fill="#47e41f"/>
<circle cx="1634.0" cy="684.7" r="7.7" fill="#47e41f"/>
<circle cx="1483.4" cy="655.3" r="7.7" fill="#eda637"/>
<circle cx="1549.7" cy="660.4" r="7.7" fill="#eda637"/>
<circle cx="1485.2" cy="630.5" r="7.7" fill="#ff2a18"/>
<path d="M1505.7 608.3L1515.3 617.9L1505.7 627.5L1496.1 617.9Z" fill="#c132fb" stroke="#000" stroke-width="3.3" stroke-linejoin="round"/>
</g>
<path d="M1110.3 605.8V744.2M1108.2 744.2H1899.5" stroke="#000" stroke-width="4.5" fill="none"/>
<text x="1088.7" y="639.1" class="a" text-anchor="end">15</text>
<text x="1088.7" y="677.4" class="a" text-anchor="end">10</text>
<text x="1088.7" y="715.4" class="a" text-anchor="end">5</text>
<text x="1170.7" y="785.7" class="a" text-anchor="middle">100.4</text>
<text x="1314.4" y="785.7" class="a" text-anchor="middle">100.5</text>
<text x="1457.9" y="785.7" class="a" text-anchor="middle">100.6</text>
<text x="1601.5" y="785.7" class="a" text-anchor="middle">100.7</text>
<text x="1745.1" y="785.7" class="a" text-anchor="middle">100.8</text>
<text x="1888.8" y="785.7" class="a" text-anchor="middle">100.9</text>
<path d="M1098.0 629.5H1109.3M1098.0 667.8H1109.3M1098.0 705.8H1109.3M1170.7 745.2V756.5M1314.4 745.2V756.5M1457.9 745.2V756.5M1601.5 745.2V756.5M1745.1 745.2V756.5M1888.8 745.2V756.5" stroke="#333" stroke-width="4.1" fill="none"/>
<text x="1504.9" y="822.7" class="a" text-anchor="middle">Chromosome 7 (Mb)</text>
<text transform="translate(1018.0 675.3) rotate(-90)" class="a" text-anchor="middle">-log10P</text>
<g clip-path="url(#cgd)">
<text x="1136.1" y="901.5" class="g"><tspan class="ar" dy="-1.6">←</tspan><tspan dx="-3.0" dy="1.6">EPHB4</tspan></text>
<text x="1226.0" y="901.5" class="g">TRIP6<tspan class="ar" dx="-2.2" dy="-1.6">→</tspan></text>
<text x="1379.7" y="901.5" class="g">MUC3A<tspan class="ar" dx="-1.3" dy="-1.6">→</tspan></text>
<text x="1175.5" y="936.2" class="g">SLC12A9<tspan class="ar" dx="-2.3" dy="-1.6">→</tspan></text>
<text x="1244.7" y="936.2" class="g"><tspan class="ar" dy="-1.6">←</tspan><tspan dx="-2.9" dy="1.6">UFSP1</tspan></text>
<text x="1335.4" y="936.2" class="g">MUC3A<tspan class="ar" dx="-1.3" dy="-1.6">→</tspan></text>
<text x="1466.8" y="936.2" class="g">MUC12<tspan class="ar" dx="-2.4" dy="-1.6">→</tspan></text>
<text x="1242.4" y="971.0" class="g">SRRT<tspan class="ar" dx="-1.8" dy="-1.6">→</tspan></text>
<text x="1255.5" y="1005.8" class="g"><tspan class="ar" dy="-1.6">←</tspan><tspan dx="-1.3" dy="1.6">ACHE</tspan></text>
<text x="1532.8" y="901.5" class="g">MUC17<tspan class="ar" dx="-2.4" dy="-1.6">→</tspan></text>
<text x="1601.3" y="901.5" class="g">TRIM56<tspan class="ar" dx="-2.2" dy="-1.6">→</tspan></text>
<text x="1653.7" y="901.5" class="g">SERPINE1<tspan class="ar" dx="-2.3" dy="-1.6">→</tspan></text>
<text x="1731.6" y="901.5" class="g"><tspan class="ar" dy="-1.6">←</tspan><tspan dx="-3.0" dy="1.6">NAT16</tspan></text>
<text x="1783.8" y="901.5" class="g"><tspan class="ar" dy="-1.6">←</tspan><tspan dx="-3.0" dy="1.6">PLOD3</tspan></text>
<text x="1845.4" y="901.5" class="g"><tspan class="ar" dy="-1.6">←</tspan><tspan dx="-3.0" dy="1.6">FIS1</tspan></text>
<text x="1709.8" y="936.2" class="g">AP1S1<tspan class="ar" dx="-2.3" dy="-1.6">→</tspan></text>
<text x="1754.2" y="936.2" class="g"><tspan class="ar" dy="-1.6">←</tspan><tspan dx="-3.0" dy="1.6">MOGAT3</tspan></text>
<text x="1725.1" y="971.0" class="g"><tspan class="ar" dy="-1.6">←</tspan><tspan dx="-1.4" dy="1.6">VGF</tspan></text>
<text x="1797.2" y="971.0" class="g">ZNHIT1<tspan class="ar" dx="-2.3" dy="-1.6">→</tspan></text>
<text x="1811.8" y="1005.8" class="g"><tspan class="ar" dy="-1.6">←</tspan><tspan dx="-2.4" dy="1.6">CLDN15</tspan></text>
<path d="M1164.4 910.3H1202.5M1259.4 910.3H1269.5M1379.8 910.3H1474.2M1199.5 945.0H1260.4M1379.2 945.0H1385.7M1475.6 945.0H1549.3M1270.6 979.8H1291.9M1292.5 1014.5H1303.7M1549.3 910.3H1607.0M1644.2 910.3H1655.7M1705.5 910.3H1725.0M1769.4 910.3H1784.9M1821.4 910.3H1841.1M1870.6 910.3H1890.3M1745.7 945.0H1757.3M1805.6 945.0H1815.3M1757.3 979.8H1762.9M1838.5 979.8H1849.2M1859.8 1014.5H1870.2" stroke="#000" stroke-width="4.4" fill="none"/>
<path d="M1164.4 904.5H1172.1V916.1H1164.4ZM1185.3 904.5H1192.4V916.1H1185.3ZM1193.4 904.5H1197.5V916.1H1193.4ZM1198.5 904.5H1202.5V916.1H1198.5ZM1179.8 904.5H1182.6V916.1H1179.8ZM1259.4 904.5H1269.5V916.1H1259.4ZM1379.8 904.5H1382.2V916.1H1379.8ZM1383.2 904.5H1389.3V916.1H1383.2ZM1465.5 904.5H1474.2V916.1H1465.5ZM1238.1 939.2H1253.3V950.8H1238.1ZM1199.7 939.2H1202.1V950.8H1199.7ZM1254.7 939.2H1257.2V950.8H1254.7ZM1257.8 939.2H1260.2V950.8H1257.8ZM1289.9 939.2H1293.0V950.8H1289.9ZM1379.5 939.2H1382.1V950.8H1379.5ZM1382.9 939.2H1385.6V950.8H1382.9ZM1475.5 939.2H1477.8V950.8H1475.5ZM1479.2 939.2H1481.4V950.8H1479.2ZM1492.8 939.2H1495.0V950.8H1492.8ZM1506.1 939.2H1530.5V950.8H1506.1ZM1532.5 939.2H1534.5V950.8H1532.5ZM1537.6 939.2H1549.3V950.8H1537.6ZM1270.6 974.0H1273.0V985.6H1270.6ZM1279.7 974.0H1291.9V985.6H1279.7ZM1292.5 1008.8H1303.7V1020.3H1292.5ZM1549.3 904.5H1551.2V916.1H1549.3ZM1565.4 904.5H1585.3V916.1H1565.4ZM1590.4 904.5H1599.5V916.1H1590.4ZM1601.5 904.5H1603.6V916.1H1601.5ZM1605.0 904.5H1607.0V916.1H1605.0ZM1644.2 904.5H1655.7V916.1H1644.2ZM1705.5 904.5H1709.1V916.1H1705.5ZM1711.2 904.5H1715.2V916.1H1711.2ZM1717.3 904.5H1725.0V916.1H1717.3ZM1769.4 904.5H1776.1V916.1H1769.4ZM1781.2 904.5H1784.9V916.1H1781.2ZM1821.4 904.5H1841.1V916.1H1821.4ZM1870.6 904.5H1874.6V916.1H1870.6ZM1876.6 904.5H1879.1V916.1H1876.6ZM1888.2 904.5H1890.3V916.1H1888.2ZM1745.7 939.2H1748.7V950.8H1745.7ZM1750.2 939.2H1757.3V950.8H1750.2ZM1805.6 939.2H1809.6V950.8H1805.6ZM1811.1 939.2H1815.3V950.8H1811.1ZM1757.3 974.0H1762.9V985.6H1757.3ZM1838.5 974.0H1849.2V985.6H1838.5ZM1859.8 1008.8H1863.5V1020.3H1859.8ZM1865.1 1008.8H1870.2V1020.3H1865.1Z" fill="#000"/>
</g>
</g>
<g id="panel-e">
<text x="7.2" y="1078.4" class="pl">e</text>
<text x="139.6" y="1101.4" class="t">Trait: Clostridium saudiense; rsID: rs8182173</text>
<clipPath id="cpe"><rect x="140.1" y="1123.6" width="788.2" height="144.9"/></clipPath>
<clipPath id="cge"><rect x="137.6" y="1370.0" width="790.7" height="300"/></clipPath>
<line x1="140.1" y1="1194.1" x2="928.3" y2="1194.1" stroke="#bebebe" stroke-width="4" stroke-dasharray="18.6 19.5"/>
<g clip-path="url(#cpe)" stroke="#000" stroke-width="3.3">
<circle cx="173.8" cy="1259.3" r="7.7" fill="#5a78e6"/>
<circle cx="482.9" cy="1259.7" r="7.7" fill="#5a78e6"/>
<circle cx="245.5" cy="1266.3" r="7.7" fill="#5a78e6"/>
<circle cx="245.8" cy="1271.3" r="7.7" fill="#5a78e6"/>
<circle cx="200.2" cy="1263.8" r="7.7" fill="#5a78e6"/>
<circle cx="233.1" cy="1265.9" r="7.7" fill="#5a78e6"/>
<circle cx="413.3" cy="1269.7" r="7.7" fill="#5a78e6"/>
<circle cx="362.6" cy="1268.4" r="7.7" fill="#5a78e6"/>
<circle cx="320.3" cy="1257.5" r="7.7" fill="#5a78e6"/>
<circle cx="443.5" cy="1264.8" r="7.7" fill="#5a78e6"/>
<circle cx="452.1" cy="1269.5" r="7.7" fill="#5a78e6"/>
<circle cx="183.7" cy="1266.5" r="7.7" fill="#5a78e6"/>
<circle cx="464.0" cy="1256.1" r="7.7" fill="#5a78e6"/>
<circle cx="299.1" cy="1271.9" r="7.7" fill="#5a78e6"/>
<circle cx="420.8" cy="1268.3" r="7.7" fill="#5a78e6"/>
<circle cx="280.6" cy="1264.5" r="7.7" fill="#5a78e6"/>
<circle cx="256.6" cy="1262.8" r="7.7" fill="#5a78e6"/>
<circle cx="457.9" cy="1255.4" r="7.7" fill="#5a78e6"/>
<circle cx="408.3" cy="1269.4" r="7.7" fill="#5a78e6"/>
<circle cx="196.6" cy="1254.0" r="7.7" fill="#5a78e6"/>
<circle cx="403.1" cy="1269.0" r="7.7" fill="#5a78e6"/>
<circle cx="208.4" cy="1247.8" r="7.7" fill="#5a78e6"/>
<circle cx="202.3" cy="1251.7" r="7.7" fill="#5a78e6"/>
<circle cx="440.2" cy="1266.6" r="7.7" fill="#5a78e6"/>
<circle cx="388.6" cy="1268.9" r="7.7" fill="#5a78e6"/>
<circle cx="452.3" cy="1260.9" r="7.7" fill="#5a78e6"/>
<circle cx="309.7" cy="1265.4" r="7.7" fill="#5a78e6"/>
<circle cx="236.5" cy="1266.7" r="7.7" fill="#5a78e6"/>
<circle cx="396.4" cy="1270.0" r="7.7" fill="#5a78e6"/>
<circle cx="222.4" cy="1269.2" r="7.7" fill="#5a78e6"/>
<circle cx="327.3" cy="1252.4" r="7.7" fill="#5a78e6"/>
<circle cx="292.3" cy="1264.8" r="7.7" fill="#5a78e6"/>
<circle cx="482.6" cy="1260.7" r="7.7" fill="#5a78e6"/>
<circle cx="489.0" cy="1263.6" r="7.7" fill="#5a78e6"/>
<circle cx="286.4" cy="1265.9" r="7.7" fill="#5a78e6"/>
<circle cx="264.4" cy="1267.2" r="7.7" fill="#5a78e6"/>
<circle cx="383.1" cy="1270.7" r="7.7" fill="#5a78e6"/>
<circle cx="361.7" cy="1266.2" r="7.7" fill="#5a78e6"/>
<circle cx="327.1" cy="1263.8" r="7.7" fill="#5a78e6"/>
<circle cx="219.9" cy="1258.9" r="7.7" fill="#5a78e6"/>
<circle cx="431.2" cy="1268.9" r="7.7" fill="#5a78e6"/>
<circle cx="376.6" cy="1268.0" r="7.7" fill="#5a78e6"/>
<circle cx="188.9" cy="1261.8" r="7.7" fill="#5a78e6"/>
<circle cx="352.4" cy="1266.8" r="7.7" fill="#5a78e6"/>
<circle cx="331.4" cy="1257.1" r="7.7" fill="#5a78e6"/>
<circle cx="260.4" cy="1266.0" r="7.7" fill="#5a78e6"/>
<circle cx="312.5" cy="1272.4" r="7.7" fill="#5a78e6"/>
<circle cx="213.2" cy="1253.8" r="7.7" fill="#5a78e6"/>
<circle cx="345.9" cy="1269.2" r="7.7" fill="#5a78e6"/>
<circle cx="337.1" cy="1263.6" r="7.7" fill="#5a78e6"/>
<circle cx="371.2" cy="1269.6" r="7.7" fill="#5a78e6"/>
<circle cx="475.8" cy="1267.5" r="7.7" fill="#5a78e6"/>
<circle cx="321.4" cy="1265.1" r="7.7" fill="#5a78e6"/>
<circle cx="188.1" cy="1255.8" r="7.7" fill="#5a78e6"/>
<circle cx="274.3" cy="1272.2" r="7.7" fill="#5a78e6"/>
<circle cx="298.9" cy="1266.0" r="7.7" fill="#5a78e6"/>
<circle cx="306.3" cy="1264.7" r="7.7" fill="#5a78e6"/>
<circle cx="231.3" cy="1264.7" r="7.7" fill="#5a78e6"/>
<circle cx="426.7" cy="1268.7" r="7.7" fill="#5a78e6"/>
<circle cx="208.5" cy="1264.7" r="7.7" fill="#5a78e6"/>
<circle cx="275.0" cy="1263.6" r="7.7" fill="#5a78e6"/>
<circle cx="225.2" cy="1263.9" r="7.7" fill="#5a78e6"/>
<circle cx="489.2" cy="1248.5" r="7.7" fill="#5a78e6"/>
<circle cx="359.3" cy="1268.8" r="7.7" fill="#5a78e6"/>
<circle cx="213.5" cy="1253.3" r="7.7" fill="#5a78e6"/>
<circle cx="462.8" cy="1258.6" r="7.7" fill="#5a78e6"/>
<circle cx="197.1" cy="1261.0" r="7.7" fill="#5a78e6"/>
<circle cx="314.3" cy="1266.3" r="7.7" fill="#5a78e6"/>
<circle cx="249.9" cy="1264.1" r="7.7" fill="#5a78e6"/>
<circle cx="181.9" cy="1255.4" r="7.7" fill="#5a78e6"/>
<circle cx="269.1" cy="1265.6" r="7.7" fill="#5a78e6"/>
<circle cx="469.1" cy="1272.9" r="7.7" fill="#5a78e6"/>
<circle cx="469.4" cy="1264.4" r="7.7" fill="#5a78e6"/>
<circle cx="556.9" cy="1262.7" r="7.7" fill="#5a78e6"/>
<circle cx="568.0" cy="1268.4" r="7.7" fill="#5a78e6"/>
<circle cx="568.6" cy="1264.7" r="7.7" fill="#5a78e6"/>
<circle cx="537.7" cy="1269.6" r="7.7" fill="#5a78e6"/>
<circle cx="550.0" cy="1261.6" r="7.7" fill="#5a78e6"/>
<circle cx="557.3" cy="1269.9" r="7.7" fill="#5a78e6"/>
<circle cx="575.5" cy="1264.8" r="7.7" fill="#5a78e6"/>
<circle cx="545.5" cy="1262.7" r="7.7" fill="#5a78e6"/>
<circle cx="576.8" cy="1269.5" r="7.7" fill="#5a78e6"/>
<circle cx="563.8" cy="1262.3" r="7.7" fill="#5a78e6"/>
<circle cx="537.6" cy="1263.4" r="7.7" fill="#5a78e6"/>
<circle cx="626.1" cy="1268.1" r="7.7" fill="#5a78e6"/>
<circle cx="605.8" cy="1268.9" r="7.7" fill="#5a78e6"/>
<circle cx="631.7" cy="1268.1" r="7.7" fill="#5a78e6"/>
<circle cx="622.5" cy="1270.9" r="7.7" fill="#5a78e6"/>
<circle cx="610.7" cy="1271.0" r="7.7" fill="#5a78e6"/>
<circle cx="617.6" cy="1271.7" r="7.7" fill="#5a78e6"/>
<circle cx="740.4" cy="1271.0" r="7.7" fill="#5a78e6"/>
<circle cx="700.2" cy="1271.4" r="7.7" fill="#5a78e6"/>
<circle cx="694.2" cy="1268.5" r="7.7" fill="#5a78e6"/>
<circle cx="684.9" cy="1264.9" r="7.7" fill="#5a78e6"/>
<circle cx="762.6" cy="1269.7" r="7.7" fill="#5a78e6"/>
<circle cx="680.7" cy="1266.0" r="7.7" fill="#5a78e6"/>
<circle cx="745.1" cy="1270.9" r="7.7" fill="#5a78e6"/>
<circle cx="749.6" cy="1270.9" r="7.7" fill="#5a78e6"/>
<circle cx="735.9" cy="1272.6" r="7.7" fill="#5a78e6"/>
<circle cx="730.6" cy="1270.9" r="7.7" fill="#5a78e6"/>
<circle cx="674.4" cy="1268.6" r="7.7" fill="#5a78e6"/>
<circle cx="706.5" cy="1270.1" r="7.7" fill="#5a78e6"/>
<circle cx="717.9" cy="1270.6" r="7.7" fill="#5a78e6"/>
<circle cx="759.2" cy="1268.4" r="7.7" fill="#5a78e6"/>
<circle cx="709.4" cy="1270.3" r="7.7" fill="#5a78e6"/>
<circle cx="723.2" cy="1269.3" r="7.7" fill="#5a78e6"/>
<circle cx="844.4" cy="1251.5" r="7.7" fill="#5a78e6"/>
<circle cx="855.0" cy="1251.8" r="7.7" fill="#5a78e6"/>
<circle cx="872.9" cy="1258.7" r="7.7" fill="#5a78e6"/>
<circle cx="824.9" cy="1243.6" r="7.7" fill="#5a78e6"/>
<circle cx="814.6" cy="1261.1" r="7.7" fill="#5a78e6"/>
<circle cx="833.6" cy="1265.8" r="7.7" fill="#5a78e6"/>
<circle cx="858.2" cy="1263.5" r="7.7" fill="#5a78e6"/>
<circle cx="828.0" cy="1258.3" r="7.7" fill="#5a78e6"/>
<circle cx="881.6" cy="1258.3" r="7.7" fill="#5a78e6"/>
<circle cx="845.8" cy="1271.9" r="7.7" fill="#5a78e6"/>
<circle cx="780.7" cy="1251.4" r="7.7" fill="#5a78e6"/>
<circle cx="811.3" cy="1262.1" r="7.7" fill="#5a78e6"/>
<circle cx="860.7" cy="1245.9" r="7.7" fill="#5a78e6"/>
<circle cx="867.7" cy="1264.7" r="7.7" fill="#5a78e6"/>
<circle cx="839.2" cy="1242.1" r="7.7" fill="#5a78e6"/>
<circle cx="833.8" cy="1240.9" r="7.7" fill="#5a78e6"/>
<circle cx="876.0" cy="1267.7" r="7.7" fill="#5a78e6"/>
<circle cx="806.3" cy="1267.6" r="7.7" fill="#5a78e6"/>
<circle cx="810.4" cy="1250.7" r="7.7" fill="#5a78e6"/>
<circle cx="843.3" cy="1241.0" r="7.7" fill="#5a78e6"/>
<circle cx="867.6" cy="1241.2" r="7.7" fill="#5a78e6"/>
<circle cx="786.4" cy="1251.9" r="7.7" fill="#5a78e6"/>
<circle cx="794.8" cy="1257.3" r="7.7" fill="#5a78e6"/>
<circle cx="819.6" cy="1256.4" r="7.7" fill="#5a78e6"/>
<circle cx="891.1" cy="1261.0" r="7.7" fill="#5a78e6"/>
<circle cx="873.1" cy="1256.2" r="7.7" fill="#5a78e6"/>
<circle cx="813.5" cy="1248.4" r="7.7" fill="#5a78e6"/>
<circle cx="878.4" cy="1256.9" r="7.7" fill="#5a78e6"/>
<circle cx="856.0" cy="1249.5" r="7.7" fill="#5a78e6"/>
<circle cx="890.3" cy="1271.9" r="7.7" fill="#5a78e6"/>
<circle cx="832.4" cy="1260.9" r="7.7" fill="#5a78e6"/>
<circle cx="827.2" cy="1260.2" r="7.7" fill="#5a78e6"/>
<circle cx="794.5" cy="1252.7" r="7.7" fill="#5a78e6"/>
<circle cx="837.7" cy="1258.2" r="7.7" fill="#5a78e6"/>
<circle cx="853.8" cy="1241.3" r="7.7" fill="#5a78e6"/>
<circle cx="871.0" cy="1241.3" r="7.7" fill="#5a78e6"/>
<circle cx="861.6" cy="1245.0" r="7.7" fill="#5a78e6"/>
<circle cx="868.3" cy="1245.3" r="7.7" fill="#5a78e6"/>
<circle cx="871.5" cy="1264.1" r="7.7" fill="#5a78e6"/>
<circle cx="864.9" cy="1262.4" r="7.7" fill="#5a78e6"/>
<circle cx="779.2" cy="1257.9" r="7.7" fill="#5a78e6"/>
<circle cx="819.9" cy="1243.9" r="7.7" fill="#5a78e6"/>
<circle cx="781.9" cy="1258.0" r="7.7" fill="#5a78e6"/>
<circle cx="847.6" cy="1265.2" r="7.7" fill="#5a78e6"/>
<circle cx="878.0" cy="1245.8" r="7.7" fill="#5a78e6"/>
<circle cx="788.1" cy="1250.6" r="7.7" fill="#5a78e6"/>
<circle cx="883.9" cy="1257.2" r="7.7" fill="#5a78e6"/>
<circle cx="797.7" cy="1251.6" r="7.7" fill="#5a78e6"/>
<circle cx="814.0" cy="1259.7" r="7.7" fill="#5a78e6"/>
<circle cx="847.9" cy="1241.7" r="7.7" fill="#5a78e6"/>
<circle cx="846.4" cy="1246.6" r="7.7" fill="#5a78e6"/>
<circle cx="809.2" cy="1270.8" r="7.7" fill="#5a78e6"/>
<circle cx="835.7" cy="1267.1" r="7.7" fill="#5a78e6"/>
<circle cx="796.9" cy="1261.4" r="7.7" fill="#5a78e6"/>
<circle cx="822.1" cy="1260.1" r="7.7" fill="#5a78e6"/>
<circle cx="835.7" cy="1269.4" r="7.7" fill="#5a78e6"/>
<circle cx="845.5" cy="1250.1" r="7.7" fill="#5a78e6"/>
<circle cx="803.1" cy="1249.2" r="7.7" fill="#5a78e6"/>
<circle cx="823.1" cy="1268.5" r="7.7" fill="#5a78e6"/>
<circle cx="208.2" cy="1246.9" r="7.7" fill="#5a78e6"/>
<circle cx="187.9" cy="1257.1" r="7.7" fill="#5a78e6"/>
<circle cx="200.1" cy="1260.7" r="7.7" fill="#5a78e6"/>
<circle cx="174.7" cy="1259.1" r="7.7" fill="#5a78e6"/>
<circle cx="329.0" cy="1248.9" r="7.7" fill="#5a78e6"/>
<circle cx="325.9" cy="1255.6" r="7.7" fill="#5a78e6"/>
<circle cx="462.0" cy="1252.0" r="7.7" fill="#5a78e6"/>
<circle cx="446.8" cy="1263.1" r="7.7" fill="#5a78e6"/>
<circle cx="457.9" cy="1261.1" r="7.7" fill="#5a78e6"/>
<circle cx="490.4" cy="1243.9" r="7.7" fill="#5a78e6"/>
<circle cx="491.4" cy="1252.0" r="7.7" fill="#5a78e6"/>
<circle cx="489.4" cy="1260.1" r="7.7" fill="#5a78e6"/>
<circle cx="484.3" cy="1263.1" r="7.7" fill="#5a78e6"/>
<circle cx="529.0" cy="1262.1" r="7.7" fill="#5a78e6"/>
<circle cx="583.2" cy="1223.1" r="7.7" fill="#5a78e6"/>
<circle cx="573.7" cy="1235.3" r="7.7" fill="#5a78e6"/>
<circle cx="615.3" cy="1227.6" r="7.7" fill="#5a78e6"/>
<circle cx="614.3" cy="1246.9" r="7.7" fill="#5a78e6"/>
<circle cx="638.6" cy="1247.5" r="7.7" fill="#5a78e6"/>
<circle cx="632.5" cy="1243.5" r="7.7" fill="#5a78e6"/>
<circle cx="641.7" cy="1217.5" r="7.7" fill="#5a78e6"/>
<circle cx="652.4" cy="1230.7" r="7.7" fill="#5a78e6"/>
<circle cx="669.1" cy="1239.4" r="7.7" fill="#5a78e6"/>
<circle cx="684.3" cy="1237.8" r="7.7" fill="#5a78e6"/>
<circle cx="679.2" cy="1241.2" r="7.7" fill="#5a78e6"/>
<circle cx="693.9" cy="1240.8" r="7.7" fill="#5a78e6"/>
<circle cx="685.7" cy="1259.7" r="7.7" fill="#5a78e6"/>
<circle cx="673.1" cy="1265.2" r="7.7" fill="#5a78e6"/>
<circle cx="797.0" cy="1249.9" r="7.7" fill="#5a78e6"/>
<circle cx="785.4" cy="1249.9" r="7.7" fill="#5a78e6"/>
<circle cx="826.4" cy="1214.4" r="7.7" fill="#5a78e6"/>
<circle cx="838.6" cy="1222.5" r="7.7" fill="#5a78e6"/>
<circle cx="879.8" cy="1227.6" r="7.7" fill="#5a78e6"/>
<circle cx="808.2" cy="1234.7" r="7.7" fill="#5a78e6"/>
<circle cx="808.2" cy="1247.9" r="7.7" fill="#5a78e6"/>
<circle cx="802.1" cy="1259.1" r="7.7" fill="#5a78e6"/>
<circle cx="709.7" cy="1263.1" r="7.7" fill="#5a78e6"/>
<circle cx="720.9" cy="1263.1" r="7.7" fill="#5a78e6"/>
<circle cx="738.1" cy="1259.1" r="7.7" fill="#5a78e6"/>
<circle cx="741.2" cy="1265.2" r="7.7" fill="#5a78e6"/>
<circle cx="756.4" cy="1265.2" r="7.7" fill="#5a78e6"/>
<circle cx="768.6" cy="1265.2" r="7.7" fill="#5a78e6"/>
<circle cx="606.1" cy="1265.2" r="7.7" fill="#5a78e6"/>
<circle cx="618.3" cy="1264.6" r="7.7" fill="#5a78e6"/>
<circle cx="634.6" cy="1265.8" r="7.7" fill="#5a78e6"/>
<circle cx="464.6" cy="1220.8" r="7.7" fill="#78f5f5"/>
<circle cx="472.6" cy="1226.6" r="7.7" fill="#78f5f5"/>
<circle cx="476.4" cy="1224.8" r="7.7" fill="#78f5f5"/>
<circle cx="470.4" cy="1223.1" r="7.7" fill="#78f5f5"/>
<circle cx="477.6" cy="1243.4" r="7.7" fill="#78f5f5"/>
<circle cx="487.0" cy="1231.3" r="7.7" fill="#78f5f5"/>
<circle cx="489.2" cy="1230.6" r="7.7" fill="#78f5f5"/>
<circle cx="497.1" cy="1226.2" r="7.7" fill="#78f5f5"/>
<circle cx="493.5" cy="1227.4" r="7.7" fill="#78f5f5"/>
<circle cx="499.2" cy="1221.5" r="7.7" fill="#78f5f5"/>
<circle cx="503.3" cy="1223.6" r="7.7" fill="#78f5f5"/>
<circle cx="493.5" cy="1211.6" r="7.7" fill="#78f5f5"/>
<circle cx="492.1" cy="1211.9" r="7.7" fill="#78f5f5"/>
<circle cx="512.8" cy="1213.8" r="7.7" fill="#78f5f5"/>
<circle cx="511.9" cy="1210.4" r="7.7" fill="#78f5f5"/>
<circle cx="515.6" cy="1219.3" r="7.7" fill="#78f5f5"/>
<circle cx="515.5" cy="1218.2" r="7.7" fill="#78f5f5"/>
<circle cx="504.8" cy="1204.1" r="7.7" fill="#78f5f5"/>
<circle cx="506.3" cy="1206.0" r="7.7" fill="#78f5f5"/>
<circle cx="508.0" cy="1219.7" r="7.7" fill="#78f5f5"/>
<circle cx="509.1" cy="1222.9" r="7.7" fill="#78f5f5"/>
<circle cx="557.6" cy="1230.9" r="7.7" fill="#78f5f5"/>
<circle cx="545.4" cy="1219.9" r="7.7" fill="#78f5f5"/>
<circle cx="566.2" cy="1215.9" r="7.7" fill="#78f5f5"/>
<circle cx="610.0" cy="1205.6" r="7.7" fill="#78f5f5"/>
<circle cx="652.0" cy="1214.6" r="7.7" fill="#78f5f5"/>
<circle cx="657.7" cy="1208.5" r="7.7" fill="#78f5f5"/>
<circle cx="656.8" cy="1207.4" r="7.7" fill="#78f5f5"/>
<circle cx="673.7" cy="1204.2" r="7.7" fill="#78f5f5"/>
<circle cx="671.2" cy="1205.1" r="7.7" fill="#78f5f5"/>
<circle cx="683.1" cy="1199.1" r="7.7" fill="#78f5f5"/>
<circle cx="683.2" cy="1200.0" r="7.7" fill="#78f5f5"/>
<circle cx="686.8" cy="1209.0" r="7.7" fill="#78f5f5"/>
<circle cx="691.8" cy="1210.5" r="7.7" fill="#78f5f5"/>
<circle cx="699.7" cy="1217.4" r="7.7" fill="#78f5f5"/>
<circle cx="717.3" cy="1216.8" r="7.7" fill="#78f5f5"/>
<circle cx="717.6" cy="1215.3" r="7.7" fill="#78f5f5"/>
<circle cx="713.2" cy="1216.4" r="7.7" fill="#78f5f5"/>
<circle cx="736.7" cy="1222.9" r="7.7" fill="#78f5f5"/>
<circle cx="735.5" cy="1223.4" r="7.7" fill="#78f5f5"/>
<circle cx="748.6" cy="1216.3" r="7.7" fill="#78f5f5"/>
<circle cx="742.7" cy="1212.9" r="7.7" fill="#78f5f5"/>
<circle cx="736.9" cy="1214.3" r="7.7" fill="#78f5f5"/>
<circle cx="736.1" cy="1214.4" r="7.7" fill="#78f5f5"/>
<circle cx="747.6" cy="1231.5" r="7.7" fill="#78f5f5"/>
<circle cx="749.5" cy="1228.1" r="7.7" fill="#78f5f5"/>
<circle cx="757.6" cy="1217.6" r="7.7" fill="#78f5f5"/>
<circle cx="778.5" cy="1218.2" r="7.7" fill="#78f5f5"/>
<circle cx="772.3" cy="1214.2" r="7.7" fill="#78f5f5"/>
<circle cx="774.6" cy="1230.6" r="7.7" fill="#78f5f5"/>
<circle cx="786.7" cy="1231.6" r="7.7" fill="#78f5f5"/>
<circle cx="462.0" cy="1218.5" r="7.7" fill="#78f5f5"/>
<circle cx="473.1" cy="1225.6" r="7.7" fill="#78f5f5"/>
<circle cx="468.1" cy="1220.5" r="7.7" fill="#78f5f5"/>
<circle cx="477.2" cy="1240.8" r="7.7" fill="#78f5f5"/>
<circle cx="489.4" cy="1228.6" r="7.7" fill="#78f5f5"/>
<circle cx="494.5" cy="1227.6" r="7.7" fill="#78f5f5"/>
<circle cx="500.6" cy="1223.6" r="7.7" fill="#78f5f5"/>
<circle cx="493.5" cy="1213.4" r="7.7" fill="#78f5f5"/>
<circle cx="509.7" cy="1211.4" r="7.7" fill="#78f5f5"/>
<circle cx="515.8" cy="1217.5" r="7.7" fill="#78f5f5"/>
<circle cx="503.6" cy="1205.7" r="7.7" fill="#78f5f5"/>
<circle cx="505.6" cy="1220.1" r="7.7" fill="#78f5f5"/>
<circle cx="555.4" cy="1230.3" r="7.7" fill="#78f5f5"/>
<circle cx="545.2" cy="1218.5" r="7.7" fill="#78f5f5"/>
<circle cx="565.5" cy="1215.4" r="7.7" fill="#78f5f5"/>
<circle cx="613.2" cy="1207.9" r="7.7" fill="#78f5f5"/>
<circle cx="654.9" cy="1214.4" r="7.7" fill="#78f5f5"/>
<circle cx="657.9" cy="1207.3" r="7.7" fill="#78f5f5"/>
<circle cx="670.7" cy="1206.9" r="7.7" fill="#78f5f5"/>
<circle cx="680.3" cy="1201.2" r="7.7" fill="#78f5f5"/>
<circle cx="688.4" cy="1208.3" r="7.7" fill="#78f5f5"/>
<circle cx="700.6" cy="1216.4" r="7.7" fill="#78f5f5"/>
<circle cx="718.8" cy="1217.5" r="7.7" fill="#78f5f5"/>
<circle cx="711.3" cy="1218.9" r="7.7" fill="#78f5f5"/>
<circle cx="735.1" cy="1221.5" r="7.7" fill="#78f5f5"/>
<circle cx="745.2" cy="1215.4" r="7.7" fill="#78f5f5"/>
<circle cx="737.1" cy="1215.4" r="7.7" fill="#78f5f5"/>
<circle cx="748.3" cy="1229.6" r="7.7" fill="#78f5f5"/>
<circle cx="757.4" cy="1216.4" r="7.7" fill="#78f5f5"/>
<circle cx="781.8" cy="1215.4" r="7.7" fill="#78f5f5"/>
<circle cx="773.7" cy="1216.0" r="7.7" fill="#78f5f5"/>
<circle cx="776.7" cy="1231.7" r="7.7" fill="#78f5f5"/>
<circle cx="799.0" cy="1230.7" r="7.7" fill="#78f5f5"/>
<circle cx="787.5" cy="1232.7" r="7.7" fill="#78f5f5"/>
<circle cx="518.9" cy="1198.9" r="7.7" fill="#47e41f"/>
<circle cx="526.9" cy="1203.0" r="7.7" fill="#47e41f"/>
<circle cx="523.8" cy="1203.6" r="7.7" fill="#47e41f"/>
<circle cx="531.0" cy="1201.9" r="7.7" fill="#47e41f"/>
<circle cx="583.6" cy="1199.1" r="7.7" fill="#47e41f"/>
<circle cx="587.3" cy="1185.8" r="7.7" fill="#47e41f"/>
<circle cx="591.1" cy="1183.8" r="7.7" fill="#47e41f"/>
<circle cx="608.4" cy="1169.9" r="7.7" fill="#47e41f"/>
<circle cx="613.3" cy="1169.6" r="7.7" fill="#47e41f"/>
<circle cx="602.2" cy="1173.2" r="7.7" fill="#47e41f"/>
<circle cx="604.6" cy="1176.4" r="7.7" fill="#47e41f"/>
<circle cx="624.7" cy="1163.9" r="7.7" fill="#47e41f"/>
<circle cx="627.6" cy="1158.8" r="7.7" fill="#47e41f"/>
<circle cx="633.5" cy="1161.7" r="7.7" fill="#47e41f"/>
<circle cx="630.1" cy="1160.9" r="7.7" fill="#47e41f"/>
<circle cx="621.7" cy="1172.7" r="7.7" fill="#47e41f"/>
<circle cx="616.9" cy="1170.1" r="7.7" fill="#47e41f"/>
<circle cx="637.8" cy="1163.9" r="7.7" fill="#47e41f"/>
<circle cx="634.0" cy="1167.4" r="7.7" fill="#47e41f"/>
<circle cx="642.7" cy="1177.3" r="7.7" fill="#47e41f"/>
<circle cx="645.0" cy="1177.3" r="7.7" fill="#47e41f"/>
<circle cx="641.2" cy="1172.7" r="7.7" fill="#47e41f"/>
<circle cx="643.1" cy="1171.4" r="7.7" fill="#47e41f"/>
<circle cx="617.3" cy="1179.0" r="7.7" fill="#47e41f"/>
<circle cx="616.3" cy="1179.4" r="7.7" fill="#47e41f"/>
<circle cx="628.5" cy="1179.4" r="7.7" fill="#47e41f"/>
<circle cx="629.9" cy="1182.4" r="7.7" fill="#47e41f"/>
<circle cx="606.5" cy="1189.1" r="7.7" fill="#47e41f"/>
<circle cx="606.4" cy="1188.6" r="7.7" fill="#47e41f"/>
<circle cx="607.9" cy="1197.9" r="7.7" fill="#47e41f"/>
<circle cx="592.5" cy="1199.0" r="7.7" fill="#47e41f"/>
<circle cx="595.1" cy="1196.0" r="7.7" fill="#47e41f"/>
<circle cx="627.7" cy="1190.2" r="7.7" fill="#47e41f"/>
<circle cx="648.4" cy="1201.7" r="7.7" fill="#47e41f"/>
<circle cx="650.0" cy="1199.7" r="7.7" fill="#47e41f"/>
<circle cx="648.3" cy="1191.5" r="7.7" fill="#47e41f"/>
<circle cx="650.4" cy="1195.0" r="7.7" fill="#47e41f"/>
<circle cx="660.6" cy="1187.9" r="7.7" fill="#47e41f"/>
<circle cx="659.0" cy="1190.9" r="7.7" fill="#47e41f"/>
<circle cx="666.7" cy="1180.7" r="7.7" fill="#47e41f"/>
<circle cx="677.1" cy="1182.6" r="7.7" fill="#47e41f"/>
<circle cx="691.8" cy="1188.9" r="7.7" fill="#47e41f"/>
<circle cx="690.8" cy="1183.0" r="7.7" fill="#47e41f"/>
<circle cx="678.6" cy="1189.2" r="7.7" fill="#47e41f"/>
<circle cx="680.3" cy="1190.0" r="7.7" fill="#47e41f"/>
<circle cx="710.0" cy="1188.2" r="7.7" fill="#47e41f"/>
<circle cx="701.2" cy="1197.5" r="7.7" fill="#47e41f"/>
<circle cx="700.2" cy="1195.4" r="7.7" fill="#47e41f"/>
<circle cx="716.3" cy="1197.0" r="7.7" fill="#47e41f"/>
<circle cx="734.9" cy="1188.3" r="7.7" fill="#47e41f"/>
<circle cx="724.7" cy="1195.1" r="7.7" fill="#47e41f"/>
<circle cx="758.3" cy="1198.7" r="7.7" fill="#47e41f"/>
<circle cx="748.8" cy="1194.9" r="7.7" fill="#47e41f"/>
<circle cx="769.0" cy="1195.7" r="7.7" fill="#47e41f"/>
<circle cx="561.3" cy="1217.9" r="7.7" fill="#47e41f"/>
<circle cx="559.7" cy="1218.6" r="7.7" fill="#47e41f"/>
<circle cx="478.8" cy="1179.9" r="7.7" fill="#47e41f"/>
<circle cx="521.9" cy="1199.2" r="7.7" fill="#47e41f"/>
<circle cx="525.5" cy="1203.2" r="7.7" fill="#47e41f"/>
<circle cx="530.0" cy="1203.2" r="7.7" fill="#47e41f"/>
<circle cx="583.2" cy="1201.2" r="7.7" fill="#47e41f"/>
<circle cx="589.9" cy="1184.0" r="7.7" fill="#47e41f"/>
<circle cx="610.2" cy="1167.7" r="7.7" fill="#47e41f"/>
<circle cx="605.1" cy="1173.8" r="7.7" fill="#47e41f"/>
<circle cx="625.4" cy="1161.6" r="7.7" fill="#47e41f"/>
<circle cx="633.6" cy="1162.6" r="7.7" fill="#47e41f"/>
<circle cx="620.4" cy="1172.4" r="7.7" fill="#47e41f"/>
<circle cx="634.6" cy="1165.7" r="7.7" fill="#47e41f"/>
<circle cx="645.7" cy="1174.8" r="7.7" fill="#47e41f"/>
<circle cx="639.6" cy="1173.4" r="7.7" fill="#47e41f"/>
<circle cx="619.3" cy="1180.9" r="7.7" fill="#47e41f"/>
<circle cx="629.5" cy="1180.9" r="7.7" fill="#47e41f"/>
<circle cx="608.2" cy="1189.6" r="7.7" fill="#47e41f"/>
<circle cx="605.1" cy="1199.2" r="7.7" fill="#47e41f"/>
<circle cx="594.0" cy="1197.2" r="7.7" fill="#47e41f"/>
<circle cx="630.5" cy="1193.1" r="7.7" fill="#47e41f"/>
<circle cx="648.8" cy="1201.2" r="7.7" fill="#47e41f"/>
<circle cx="647.8" cy="1192.1" r="7.7" fill="#47e41f"/>
<circle cx="659.9" cy="1189.4" r="7.7" fill="#47e41f"/>
<circle cx="670.1" cy="1182.9" r="7.7" fill="#47e41f"/>
<circle cx="680.3" cy="1181.9" r="7.7" fill="#47e41f"/>
<circle cx="690.4" cy="1186.0" r="7.7" fill="#47e41f"/>
<circle cx="679.6" cy="1188.4" r="7.7" fill="#47e41f"/>
<circle cx="706.6" cy="1191.1" r="7.7" fill="#47e41f"/>
<circle cx="698.5" cy="1196.1" r="7.7" fill="#47e41f"/>
<circle cx="714.8" cy="1197.2" r="7.7" fill="#47e41f"/>
<circle cx="735.1" cy="1191.1" r="7.7" fill="#47e41f"/>
<circle cx="725.9" cy="1194.5" r="7.7" fill="#47e41f"/>
<circle cx="760.9" cy="1196.1" r="7.7" fill="#47e41f"/>
<circle cx="749.7" cy="1193.7" r="7.7" fill="#47e41f"/>
<circle cx="771.6" cy="1193.1" r="7.7" fill="#47e41f"/>
<circle cx="783.4" cy="1192.1" r="7.7" fill="#47e41f"/>
<circle cx="560.1" cy="1220.1" r="7.7" fill="#47e41f"/>
<circle cx="531.5" cy="1165.8" r="7.7" fill="#eda637"/>
<circle cx="577.5" cy="1169.3" r="7.7" fill="#eda637"/>
<circle cx="592.9" cy="1170.6" r="7.7" fill="#eda637"/>
<circle cx="593.1" cy="1169.0" r="7.7" fill="#eda637"/>
<circle cx="543.9" cy="1184.8" r="7.7" fill="#eda637"/>
<circle cx="543.8" cy="1189.4" r="7.7" fill="#eda637"/>
<circle cx="539.7" cy="1201.9" r="7.7" fill="#eda637"/>
<circle cx="539.6" cy="1198.2" r="7.7" fill="#eda637"/>
<circle cx="559.1" cy="1201.8" r="7.7" fill="#eda637"/>
<circle cx="559.7" cy="1203.1" r="7.7" fill="#eda637"/>
<circle cx="575.1" cy="1199.0" r="7.7" fill="#eda637"/>
<circle cx="570.2" cy="1194.3" r="7.7" fill="#eda637"/>
<circle cx="549.6" cy="1197.6" r="7.7" fill="#eda637"/>
<circle cx="550.1" cy="1199.2" r="7.7" fill="#eda637"/>
<circle cx="572.8" cy="1185.9" r="7.7" fill="#eda637"/>
<circle cx="575.0" cy="1185.3" r="7.7" fill="#eda637"/>
<circle cx="562.4" cy="1194.1" r="7.7" fill="#eda637"/>
<circle cx="560.7" cy="1190.5" r="7.7" fill="#eda637"/>
<circle cx="565.7" cy="1186.9" r="7.7" fill="#eda637"/>
<circle cx="565.4" cy="1185.5" r="7.7" fill="#eda637"/>
<circle cx="504.2" cy="1163.7" r="7.7" fill="#eda637"/>
<circle cx="534.1" cy="1163.7" r="7.7" fill="#eda637"/>
<circle cx="580.8" cy="1167.1" r="7.7" fill="#eda637"/>
<circle cx="594.0" cy="1169.7" r="7.7" fill="#eda637"/>
<circle cx="543.2" cy="1186.6" r="7.7" fill="#eda637"/>
<circle cx="542.2" cy="1199.2" r="7.7" fill="#eda637"/>
<circle cx="560.5" cy="1202.2" r="7.7" fill="#eda637"/>
<circle cx="572.6" cy="1197.2" r="7.7" fill="#eda637"/>
<circle cx="549.3" cy="1196.8" r="7.7" fill="#eda637"/>
<circle cx="572.6" cy="1182.9" r="7.7" fill="#eda637"/>
<circle cx="560.5" cy="1192.1" r="7.7" fill="#eda637"/>
<circle cx="566.5" cy="1186.0" r="7.7" fill="#eda637"/>
<circle cx="525.1" cy="1151.6" r="7.7" fill="#ff2a18"/>
<circle cx="541.8" cy="1157.8" r="7.7" fill="#ff2a18"/>
<circle cx="571.3" cy="1164.1" r="7.7" fill="#ff2a18"/>
<circle cx="557.1" cy="1176.7" r="7.7" fill="#ff2a18"/>
<circle cx="556.0" cy="1176.1" r="7.7" fill="#ff2a18"/>
<circle cx="561.1" cy="1165.5" r="7.7" fill="#ff2a18"/>
<circle cx="524.9" cy="1154.5" r="7.7" fill="#ff2a18"/>
<circle cx="542.6" cy="1157.6" r="7.7" fill="#ff2a18"/>
<circle cx="571.6" cy="1165.7" r="7.7" fill="#ff2a18"/>
<circle cx="554.0" cy="1176.2" r="7.7" fill="#ff2a18"/>
<circle cx="561.5" cy="1167.1" r="7.7" fill="#ff2a18"/>
<path d="M534.5 1134.8L544.1 1144.4L534.5 1154.0L524.9 1144.4Z" fill="#c132fb" stroke="#000" stroke-width="3.3" stroke-linejoin="round"/>
</g>
<path d="M139.1 1131.6V1270.0M137.0 1270.0H928.3" stroke="#000" stroke-width="4.5" fill="none"/>
<text x="117.5" y="1149.3" class="a" text-anchor="end">12.5</text>
<text x="117.5" y="1175.5" class="a" text-anchor="end">10.0</text>
<text x="117.5" y="1201.7" class="a" text-anchor="end">7.5</text>
<text x="117.5" y="1227.7" class="a" text-anchor="end">5.0</text>
<text x="117.5" y="1253.7" class="a" text-anchor="end">2.5</text>
<text x="216.9" y="1311.5" class="a" text-anchor="middle">4.2</text>
<text x="360.1" y="1311.5" class="a" text-anchor="middle">4.3</text>
<text x="503.6" y="1311.5" class="a" text-anchor="middle">4.4</text>
<text x="647.3" y="1311.5" class="a" text-anchor="middle">4.5</text>
<text x="790.9" y="1311.5" class="a" text-anchor="middle">4.6</text>
<path d="M126.8 1139.7H138.1M126.8 1165.9H138.1M126.8 1192.1H138.1M126.8 1218.1H138.1M126.8 1244.1H138.1M216.9 1271.0V1282.3M360.1 1271.0V1282.3M503.6 1271.0V1282.3M647.3 1271.0V1282.3M790.9 1271.0V1282.3" stroke="#333" stroke-width="4.1" fill="none"/>
<text x="533.7" y="1348.5" class="a" text-anchor="middle">Chromosome 16 (Mb)</text>
<text transform="translate(46.8 1201.1) rotate(-90)" class="a" text-anchor="middle">-log10P</text>
<g clip-path="url(#cge)">
<text x="273.6" y="1431.6" class="g"><tspan class="ar" dy="-1.6">←</tspan><tspan dx="-2.3" dy="1.6">SRL</tspan></text>
<text x="333.8" y="1431.6" class="g"><tspan class="ar" dy="-1.6">←</tspan><tspan dx="-1.8" dy="1.6">TFAP4</tspan></text>
<text x="430.2" y="1431.6" class="g">GLIS2<tspan class="ar" dx="-2.4" dy="-1.6">→</tspan></text>
<text x="511.4" y="1431.6" class="g"><tspan class="ar" dy="-1.6">←</tspan><tspan dx="-2.4" dy="1.6">CORO7</tspan></text>
<text x="446.7" y="1477.7" class="g"><tspan class="ar" dy="-1.6">←</tspan><tspan dx="-3.0" dy="1.6">PAM16</tspan></text>
<text x="506.7" y="1477.7" class="g">VASN<tspan class="ar" dx="-3.0" dy="-1.6">→</tspan></text>
<text x="458.9" y="1523.8" class="g"><tspan class="ar" dy="-1.6">←</tspan><tspan dx="-2.4" dy="1.6">CORO7-PAM16</tspan></text>
<text x="635.8" y="1431.6" class="g"><tspan class="ar" dy="-1.6">←</tspan><tspan dx="-3.0" dy="1.6">NMRAL1</tspan></text>
<text x="714.9" y="1431.6" class="g"><tspan class="ar" dy="-1.6">←</tspan><tspan dx="-2.4" dy="1.6">CDIP1</tspan></text>
<text x="784.6" y="1431.6" class="g">C16orf96<tspan class="ar" dx="-2.2" dy="-1.6">→</tspan></text>
<text x="586.7" y="1477.7" class="g">DNAJA3<tspan class="ar" dx="-2.2" dy="-1.6">→</tspan></text>
<text x="665.0" y="1477.7" class="g">HMOX2<tspan class="ar" dx="-2.4" dy="-1.6">→</tspan></text>
<text x="832.5" y="1477.7" class="g"><tspan class="ar" dy="-1.6">←</tspan><tspan dx="-2.9" dy="1.6">UBALD1</tspan></text>
<path d="M267.7 1444.2H346.6M367.0 1444.2H391.9M451.2 1444.2H488.8M509.1 1444.2H614.9M475.8 1490.3H512.3M534.1 1490.3H553.4M488.8 1536.4H607.2M665.6 1444.2H717.2M737.7 1444.2H780.4M804.1 1444.2H870.5M892.4 1444.2H1078.2M613.7 1490.3H659.9M684.3 1490.3H738.5M880.7 1490.3H891.8" stroke="#000" stroke-width="4.8" fill="none"/>
<path d="M267.7 1436.6H274.2V1451.8H267.7ZM288.0 1436.6H291.4V1451.8H288.0ZM293.0 1436.6H296.9V1451.8H293.0ZM276.2 1436.6H277.8V1451.8H276.2ZM279.4 1436.6H281.1V1451.8H279.4ZM341.2 1436.6H342.8V1451.8H341.2ZM344.8 1436.6H346.4V1451.8H344.8ZM367.0 1436.6H383.8V1451.8H367.0ZM389.3 1436.6H391.9V1451.8H389.3ZM451.2 1436.6H453.2V1451.8H451.2ZM472.1 1436.6H474.2V1451.8H472.1ZM476.8 1436.6H482.3V1451.8H476.8ZM483.3 1436.6H488.8V1451.8H483.3ZM509.1 1436.6H527.0V1451.8H509.1ZM557.8 1436.6H560.5V1451.8H557.8ZM568.6 1436.6H570.0V1451.8H568.6ZM571.6 1436.6H573.0V1451.8H571.6ZM583.8 1436.6H585.8V1451.8H583.8ZM586.9 1436.6H589.3V1451.8H586.9ZM593.4 1436.6H602.1V1451.8H593.4ZM604.5 1436.6H607.2V1451.8H604.5ZM612.2 1436.6H614.9V1451.8H612.2ZM475.8 1482.7H478.2V1497.9H475.8ZM488.4 1482.7H497.9V1497.9H488.4ZM503.6 1482.7H505.2V1497.9H503.6ZM510.1 1482.7H512.3V1497.9H510.1ZM534.1 1482.7H536.1V1497.9H534.1ZM548.7 1482.7H553.4V1497.9H548.7ZM488.8 1528.8H493.5V1544.0H488.8ZM511.7 1528.8H525.9V1544.0H511.7ZM557.8 1528.8H560.5V1544.0H557.8ZM568.6 1528.8H570.0V1544.0H568.6ZM583.8 1528.8H585.8V1544.0H583.8ZM586.9 1528.8H589.3V1544.0H586.9ZM593.4 1528.8H597.0V1544.0H593.4ZM599.0 1528.8H602.1V1544.0H599.0ZM604.5 1528.8H607.2V1544.0H604.5ZM665.6 1436.6H671.1V1451.8H665.6ZM673.1 1436.6H675.2V1451.8H673.1ZM677.2 1436.6H681.3V1451.8H677.2ZM684.3 1436.6H689.4V1451.8H684.3ZM691.4 1436.6H692.8V1451.8H691.4ZM694.9 1436.6H696.5V1451.8H694.9ZM715.2 1436.6H717.2V1451.8H715.2ZM737.7 1436.6H744.6V1451.8H737.7ZM755.0 1436.6H758.4V1451.8H755.0ZM775.7 1436.6H780.4V1451.8H775.7ZM804.1 1436.6H806.5V1451.8H804.1ZM826.4 1436.6H828.9V1451.8H826.4ZM831.5 1436.6H834.6V1451.8H831.5ZM837.0 1436.6H840.1V1451.8H837.0ZM849.2 1436.6H852.8V1451.8H849.2ZM856.5 1436.6H862.0V1451.8H856.5ZM867.1 1436.6H870.5V1451.8H867.1ZM892.4 1436.6H894.9V1451.8H892.4ZM903.6 1436.6H906.0V1451.8H903.6ZM942.2 1436.6H947.3V1451.8H942.2ZM953.4 1436.6H955.4V1451.8H953.4ZM962.5 1436.6H965.5V1451.8H962.5ZM968.6 1436.6H970.6V1451.8H968.6ZM972.6 1436.6H976.7V1451.8H972.6ZM613.7 1482.7H615.7V1497.9H613.7ZM622.4 1482.7H624.4V1497.9H622.4ZM625.8 1482.7H627.5V1497.9H625.8ZM629.5 1482.7H632.1V1497.9H629.5ZM635.6 1482.7H650.8V1497.9H635.6ZM652.8 1482.7H654.9V1497.9H652.8ZM656.3 1482.7H659.9V1497.9H656.3ZM684.3 1482.7H688.4V1497.9H684.3ZM697.5 1482.7H699.5V1497.9H697.5ZM704.6 1482.7H706.6V1497.9H704.6ZM715.2 1482.7H717.8V1497.9H715.2ZM726.5 1482.7H728.0V1497.9H726.5ZM730.0 1482.7H738.5V1497.9H730.0ZM880.7 1482.7H885.3V1497.9H880.7ZM888.4 1482.7H891.8V1497.9H888.4Z" fill="#000"/>
</g>
</g>
<g id="panel-f">
<text x="983.6" y="1078.4" class="pl">f</text>
<text x="1110.8" y="1101.4" class="t">Trait: Turicibacter sanguinis; rsID: rs4785960</text>
<clipPath id="cpf"><rect x="1111.3" y="1123.6" width="788.2" height="144.9"/></clipPath>
<clipPath id="cgf"><rect x="1108.8" y="1370.0" width="790.7" height="300"/></clipPath>
<line x1="1111.3" y1="1191.5" x2="1899.5" y2="1191.5" stroke="#bebebe" stroke-width="4" stroke-dasharray="18.6 19.5"/>
<g clip-path="url(#cpf)" stroke="#000" stroke-width="3.3">
<circle cx="1243.7" cy="1250.9" r="7.7" fill="#5a78e6"/>
<circle cx="1736.6" cy="1234.2" r="7.7" fill="#5a78e6"/>
<circle cx="1559.7" cy="1262.3" r="7.7" fill="#5a78e6"/>
<circle cx="1274.9" cy="1253.0" r="7.7" fill="#5a78e6"/>
<circle cx="1163.1" cy="1271.0" r="7.7" fill="#5a78e6"/>
<circle cx="1382.1" cy="1270.3" r="7.7" fill="#5a78e6"/>
<circle cx="1763.6" cy="1251.5" r="7.7" fill="#5a78e6"/>
<circle cx="1620.2" cy="1269.1" r="7.7" fill="#5a78e6"/>
<circle cx="1364.3" cy="1261.2" r="7.7" fill="#5a78e6"/>
<circle cx="1574.7" cy="1272.6" r="7.7" fill="#5a78e6"/>
<circle cx="1857.5" cy="1260.8" r="7.7" fill="#5a78e6"/>
<circle cx="1746.7" cy="1230.7" r="7.7" fill="#5a78e6"/>
<circle cx="1418.1" cy="1238.2" r="7.7" fill="#5a78e6"/>
<circle cx="1470.7" cy="1271.5" r="7.7" fill="#5a78e6"/>
<circle cx="1590.0" cy="1265.6" r="7.7" fill="#5a78e6"/>
<circle cx="1255.8" cy="1260.4" r="7.7" fill="#5a78e6"/>
<circle cx="1696.2" cy="1255.0" r="7.7" fill="#5a78e6"/>
<circle cx="1192.5" cy="1270.6" r="7.7" fill="#5a78e6"/>
<circle cx="1825.6" cy="1250.7" r="7.7" fill="#5a78e6"/>
<circle cx="1838.8" cy="1260.5" r="7.7" fill="#5a78e6"/>
<circle cx="1212.8" cy="1268.2" r="7.7" fill="#5a78e6"/>
<circle cx="1803.3" cy="1254.1" r="7.7" fill="#5a78e6"/>
<circle cx="1573.2" cy="1256.5" r="7.7" fill="#5a78e6"/>
<circle cx="1814.0" cy="1270.0" r="7.7" fill="#5a78e6"/>
<circle cx="1175.9" cy="1268.9" r="7.7" fill="#5a78e6"/>
<circle cx="1456.5" cy="1260.6" r="7.7" fill="#5a78e6"/>
<circle cx="1334.2" cy="1260.1" r="7.7" fill="#5a78e6"/>
<circle cx="1782.5" cy="1268.7" r="7.7" fill="#5a78e6"/>
<circle cx="1148.1" cy="1245.9" r="7.7" fill="#5a78e6"/>
<circle cx="1581.4" cy="1268.3" r="7.7" fill="#5a78e6"/>
<circle cx="1686.0" cy="1263.2" r="7.7" fill="#5a78e6"/>
<circle cx="1856.0" cy="1261.5" r="7.7" fill="#5a78e6"/>
<circle cx="1167.3" cy="1245.0" r="7.7" fill="#5a78e6"/>
<circle cx="1409.8" cy="1247.5" r="7.7" fill="#5a78e6"/>
<circle cx="1652.9" cy="1257.5" r="7.7" fill="#5a78e6"/>
<circle cx="1567.3" cy="1262.7" r="7.7" fill="#5a78e6"/>
<circle cx="1382.3" cy="1239.0" r="7.7" fill="#5a78e6"/>
<circle cx="1820.6" cy="1270.3" r="7.7" fill="#5a78e6"/>
<circle cx="1795.9" cy="1270.6" r="7.7" fill="#5a78e6"/>
<circle cx="1386.0" cy="1259.9" r="7.7" fill="#5a78e6"/>
<circle cx="1716.3" cy="1272.6" r="7.7" fill="#5a78e6"/>
<circle cx="1462.2" cy="1251.0" r="7.7" fill="#5a78e6"/>
<circle cx="1304.7" cy="1271.4" r="7.7" fill="#5a78e6"/>
<circle cx="1477.3" cy="1246.9" r="7.7" fill="#5a78e6"/>
<circle cx="1830.9" cy="1246.7" r="7.7" fill="#5a78e6"/>
<circle cx="1352.6" cy="1252.1" r="7.7" fill="#5a78e6"/>
<circle cx="1244.5" cy="1269.9" r="7.7" fill="#5a78e6"/>
<circle cx="1690.5" cy="1253.0" r="7.7" fill="#5a78e6"/>
<circle cx="1276.2" cy="1268.3" r="7.7" fill="#5a78e6"/>
<circle cx="1653.6" cy="1262.4" r="7.7" fill="#5a78e6"/>
<circle cx="1765.8" cy="1272.1" r="7.7" fill="#5a78e6"/>
<circle cx="1844.3" cy="1246.9" r="7.7" fill="#5a78e6"/>
<circle cx="1859.2" cy="1267.7" r="7.7" fill="#5a78e6"/>
<circle cx="1770.1" cy="1236.2" r="7.7" fill="#5a78e6"/>
<circle cx="1500.9" cy="1258.7" r="7.7" fill="#5a78e6"/>
<circle cx="1786.4" cy="1231.2" r="7.7" fill="#5a78e6"/>
<circle cx="1701.3" cy="1255.1" r="7.7" fill="#5a78e6"/>
<circle cx="1589.8" cy="1258.1" r="7.7" fill="#5a78e6"/>
<circle cx="1628.3" cy="1257.2" r="7.7" fill="#5a78e6"/>
<circle cx="1372.9" cy="1255.7" r="7.7" fill="#5a78e6"/>
<circle cx="1736.9" cy="1254.5" r="7.7" fill="#5a78e6"/>
<circle cx="1203.0" cy="1272.6" r="7.7" fill="#5a78e6"/>
<circle cx="1214.9" cy="1246.5" r="7.7" fill="#5a78e6"/>
<circle cx="1746.9" cy="1262.4" r="7.7" fill="#5a78e6"/>
<circle cx="1763.1" cy="1240.3" r="7.7" fill="#5a78e6"/>
<circle cx="1745.5" cy="1259.2" r="7.7" fill="#5a78e6"/>
<circle cx="1788.2" cy="1234.4" r="7.7" fill="#5a78e6"/>
<circle cx="1506.2" cy="1265.9" r="7.7" fill="#5a78e6"/>
<circle cx="1300.6" cy="1270.3" r="7.7" fill="#5a78e6"/>
<circle cx="1741.1" cy="1232.9" r="7.7" fill="#5a78e6"/>
<circle cx="1842.8" cy="1269.6" r="7.7" fill="#5a78e6"/>
<circle cx="1505.5" cy="1255.2" r="7.7" fill="#5a78e6"/>
<circle cx="1412.1" cy="1242.3" r="7.7" fill="#5a78e6"/>
<circle cx="1648.2" cy="1260.0" r="7.7" fill="#5a78e6"/>
<circle cx="1399.7" cy="1246.4" r="7.7" fill="#5a78e6"/>
<circle cx="1501.7" cy="1252.4" r="7.7" fill="#5a78e6"/>
<circle cx="1166.7" cy="1272.0" r="7.7" fill="#5a78e6"/>
<circle cx="1350.8" cy="1261.9" r="7.7" fill="#5a78e6"/>
<circle cx="1561.2" cy="1249.2" r="7.7" fill="#5a78e6"/>
<circle cx="1358.1" cy="1245.8" r="7.7" fill="#5a78e6"/>
<circle cx="1460.9" cy="1256.3" r="7.7" fill="#5a78e6"/>
<circle cx="1530.8" cy="1267.4" r="7.7" fill="#5a78e6"/>
<circle cx="1605.8" cy="1260.7" r="7.7" fill="#5a78e6"/>
<circle cx="1488.3" cy="1247.4" r="7.7" fill="#5a78e6"/>
<circle cx="1707.0" cy="1253.8" r="7.7" fill="#5a78e6"/>
<circle cx="1760.6" cy="1232.5" r="7.7" fill="#5a78e6"/>
<circle cx="1615.6" cy="1263.3" r="7.7" fill="#5a78e6"/>
<circle cx="1806.9" cy="1243.3" r="7.7" fill="#5a78e6"/>
<circle cx="1836.6" cy="1247.0" r="7.7" fill="#5a78e6"/>
<circle cx="1252.3" cy="1248.2" r="7.7" fill="#5a78e6"/>
<circle cx="1218.0" cy="1250.3" r="7.7" fill="#5a78e6"/>
<circle cx="1642.5" cy="1257.9" r="7.7" fill="#5a78e6"/>
<circle cx="1398.7" cy="1243.4" r="7.7" fill="#5a78e6"/>
<circle cx="1492.7" cy="1250.3" r="7.7" fill="#5a78e6"/>
<circle cx="1793.0" cy="1249.4" r="7.7" fill="#5a78e6"/>
<circle cx="1777.9" cy="1246.6" r="7.7" fill="#5a78e6"/>
<circle cx="1405.1" cy="1269.3" r="7.7" fill="#5a78e6"/>
<circle cx="1710.0" cy="1261.4" r="7.7" fill="#5a78e6"/>
<circle cx="1826.3" cy="1250.6" r="7.7" fill="#5a78e6"/>
<circle cx="1174.4" cy="1247.7" r="7.7" fill="#5a78e6"/>
<circle cx="1230.3" cy="1254.0" r="7.7" fill="#5a78e6"/>
<circle cx="1437.9" cy="1252.2" r="7.7" fill="#5a78e6"/>
<circle cx="1298.8" cy="1259.8" r="7.7" fill="#5a78e6"/>
<circle cx="1757.7" cy="1266.8" r="7.7" fill="#5a78e6"/>
<circle cx="1387.0" cy="1255.2" r="7.7" fill="#5a78e6"/>
<circle cx="1740.9" cy="1236.4" r="7.7" fill="#5a78e6"/>
<circle cx="1291.2" cy="1260.2" r="7.7" fill="#5a78e6"/>
<circle cx="1779.9" cy="1237.5" r="7.7" fill="#5a78e6"/>
<circle cx="1187.4" cy="1247.7" r="7.7" fill="#5a78e6"/>
<circle cx="1689.1" cy="1270.4" r="7.7" fill="#5a78e6"/>
<circle cx="1791.8" cy="1268.7" r="7.7" fill="#5a78e6"/>
<circle cx="1175.9" cy="1268.4" r="7.7" fill="#5a78e6"/>
<circle cx="1483.9" cy="1245.8" r="7.7" fill="#5a78e6"/>
<circle cx="1437.7" cy="1271.5" r="7.7" fill="#5a78e6"/>
<circle cx="1527.0" cy="1254.2" r="7.7" fill="#5a78e6"/>
<circle cx="1595.4" cy="1254.6" r="7.7" fill="#5a78e6"/>
<circle cx="1754.1" cy="1240.0" r="7.7" fill="#5a78e6"/>
<circle cx="1347.2" cy="1256.9" r="7.7" fill="#5a78e6"/>
<circle cx="1183.2" cy="1248.2" r="7.7" fill="#5a78e6"/>
<circle cx="1510.2" cy="1263.0" r="7.7" fill="#5a78e6"/>
<circle cx="1428.7" cy="1240.7" r="7.7" fill="#5a78e6"/>
<circle cx="1448.1" cy="1259.2" r="7.7" fill="#5a78e6"/>
<circle cx="1678.7" cy="1255.8" r="7.7" fill="#5a78e6"/>
<circle cx="1522.7" cy="1252.6" r="7.7" fill="#5a78e6"/>
<circle cx="1475.4" cy="1264.2" r="7.7" fill="#5a78e6"/>
<circle cx="1162.4" cy="1245.8" r="7.7" fill="#5a78e6"/>
<circle cx="1553.3" cy="1271.6" r="7.7" fill="#5a78e6"/>
<circle cx="1723.0" cy="1270.0" r="7.7" fill="#5a78e6"/>
<circle cx="1179.0" cy="1249.4" r="7.7" fill="#5a78e6"/>
<circle cx="1264.6" cy="1255.8" r="7.7" fill="#5a78e6"/>
<circle cx="1696.6" cy="1260.0" r="7.7" fill="#5a78e6"/>
<circle cx="1422.5" cy="1238.1" r="7.7" fill="#5a78e6"/>
<circle cx="1311.2" cy="1258.4" r="7.7" fill="#5a78e6"/>
<circle cx="1238.6" cy="1264.8" r="7.7" fill="#5a78e6"/>
<circle cx="1392.4" cy="1272.0" r="7.7" fill="#5a78e6"/>
<circle cx="1397.6" cy="1264.9" r="7.7" fill="#5a78e6"/>
<circle cx="1428.4" cy="1263.1" r="7.7" fill="#5a78e6"/>
<circle cx="1443.3" cy="1246.1" r="7.7" fill="#5a78e6"/>
<circle cx="1848.7" cy="1267.3" r="7.7" fill="#5a78e6"/>
<circle cx="1718.4" cy="1255.4" r="7.7" fill="#5a78e6"/>
<circle cx="1800.6" cy="1252.1" r="7.7" fill="#5a78e6"/>
<circle cx="1343.8" cy="1269.2" r="7.7" fill="#5a78e6"/>
<circle cx="1666.6" cy="1259.4" r="7.7" fill="#5a78e6"/>
<circle cx="1670.0" cy="1255.3" r="7.7" fill="#5a78e6"/>
<circle cx="1374.3" cy="1239.2" r="7.7" fill="#5a78e6"/>
<circle cx="1701.1" cy="1272.4" r="7.7" fill="#5a78e6"/>
<circle cx="1732.6" cy="1240.4" r="7.7" fill="#5a78e6"/>
<circle cx="1623.6" cy="1264.6" r="7.7" fill="#5a78e6"/>
<circle cx="1597.8" cy="1267.8" r="7.7" fill="#5a78e6"/>
<circle cx="1549.1" cy="1250.4" r="7.7" fill="#5a78e6"/>
<circle cx="1692.5" cy="1260.8" r="7.7" fill="#5a78e6"/>
<circle cx="1316.9" cy="1257.9" r="7.7" fill="#5a78e6"/>
<circle cx="1256.6" cy="1245.3" r="7.7" fill="#5a78e6"/>
<circle cx="1275.6" cy="1253.8" r="7.7" fill="#5a78e6"/>
<circle cx="1495.6" cy="1246.7" r="7.7" fill="#5a78e6"/>
<circle cx="1625.3" cy="1258.6" r="7.7" fill="#5a78e6"/>
<circle cx="1781.1" cy="1231.8" r="7.7" fill="#5a78e6"/>
<circle cx="1195.4" cy="1260.1" r="7.7" fill="#5a78e6"/>
<circle cx="1634.9" cy="1256.4" r="7.7" fill="#5a78e6"/>
<circle cx="1471.4" cy="1249.1" r="7.7" fill="#5a78e6"/>
<circle cx="1346.2" cy="1253.0" r="7.7" fill="#5a78e6"/>
<circle cx="1541.3" cy="1271.8" r="7.7" fill="#5a78e6"/>
<circle cx="1537.6" cy="1249.4" r="7.7" fill="#5a78e6"/>
<circle cx="1366.0" cy="1240.9" r="7.7" fill="#5a78e6"/>
<circle cx="1333.7" cy="1261.4" r="7.7" fill="#5a78e6"/>
<circle cx="1387.1" cy="1239.9" r="7.7" fill="#5a78e6"/>
<circle cx="1321.5" cy="1270.6" r="7.7" fill="#5a78e6"/>
<circle cx="1395.6" cy="1264.3" r="7.7" fill="#5a78e6"/>
<circle cx="1566.7" cy="1254.6" r="7.7" fill="#5a78e6"/>
<circle cx="1753.9" cy="1269.6" r="7.7" fill="#5a78e6"/>
<circle cx="1805.8" cy="1263.7" r="7.7" fill="#5a78e6"/>
<circle cx="1515.3" cy="1268.2" r="7.7" fill="#5a78e6"/>
<circle cx="1852.9" cy="1258.1" r="7.7" fill="#5a78e6"/>
<circle cx="1442.3" cy="1259.4" r="7.7" fill="#5a78e6"/>
<circle cx="1467.8" cy="1248.8" r="7.7" fill="#5a78e6"/>
<circle cx="1815.4" cy="1253.6" r="7.7" fill="#5a78e6"/>
<circle cx="1392.7" cy="1240.7" r="7.7" fill="#5a78e6"/>
<circle cx="1428.2" cy="1249.2" r="7.7" fill="#5a78e6"/>
<circle cx="1750.9" cy="1230.8" r="7.7" fill="#5a78e6"/>
<circle cx="1249.8" cy="1260.3" r="7.7" fill="#5a78e6"/>
<circle cx="1741.2" cy="1264.6" r="7.7" fill="#5a78e6"/>
<circle cx="1403.0" cy="1244.1" r="7.7" fill="#5a78e6"/>
<circle cx="1233.0" cy="1270.4" r="7.7" fill="#5a78e6"/>
<circle cx="1424.2" cy="1258.7" r="7.7" fill="#5a78e6"/>
<circle cx="1489.8" cy="1267.3" r="7.7" fill="#5a78e6"/>
<circle cx="1599.7" cy="1260.5" r="7.7" fill="#5a78e6"/>
<circle cx="1155.2" cy="1252.3" r="7.7" fill="#5a78e6"/>
<circle cx="1543.4" cy="1250.1" r="7.7" fill="#5a78e6"/>
<circle cx="1170.7" cy="1272.9" r="7.7" fill="#5a78e6"/>
<circle cx="1445.2" cy="1252.9" r="7.7" fill="#5a78e6"/>
<circle cx="1266.9" cy="1266.0" r="7.7" fill="#5a78e6"/>
<circle cx="1410.9" cy="1261.0" r="7.7" fill="#5a78e6"/>
<circle cx="1447.9" cy="1245.9" r="7.7" fill="#5a78e6"/>
<circle cx="1380.2" cy="1248.0" r="7.7" fill="#5a78e6"/>
<circle cx="1757.1" cy="1230.9" r="7.7" fill="#5a78e6"/>
<circle cx="1207.4" cy="1267.6" r="7.7" fill="#5a78e6"/>
<circle cx="1628.5" cy="1271.5" r="7.7" fill="#5a78e6"/>
<circle cx="1224.5" cy="1247.9" r="7.7" fill="#5a78e6"/>
<circle cx="1218.1" cy="1247.7" r="7.7" fill="#5a78e6"/>
<circle cx="1759.1" cy="1251.2" r="7.7" fill="#5a78e6"/>
<circle cx="1671.8" cy="1260.3" r="7.7" fill="#5a78e6"/>
<circle cx="1424.6" cy="1270.0" r="7.7" fill="#5a78e6"/>
<circle cx="1757.2" cy="1254.0" r="7.7" fill="#5a78e6"/>
<circle cx="1736.0" cy="1245.4" r="7.7" fill="#5a78e6"/>
<circle cx="1714.4" cy="1250.5" r="7.7" fill="#5a78e6"/>
<circle cx="1661.1" cy="1271.1" r="7.7" fill="#5a78e6"/>
<circle cx="1517.0" cy="1253.2" r="7.7" fill="#5a78e6"/>
<circle cx="1664.8" cy="1269.9" r="7.7" fill="#5a78e6"/>
<circle cx="1326.7" cy="1261.1" r="7.7" fill="#5a78e6"/>
<circle cx="1512.3" cy="1253.7" r="7.7" fill="#5a78e6"/>
<circle cx="1436.3" cy="1242.7" r="7.7" fill="#5a78e6"/>
<circle cx="1553.8" cy="1251.9" r="7.7" fill="#5a78e6"/>
<circle cx="1419.0" cy="1257.1" r="7.7" fill="#5a78e6"/>
<circle cx="1310.9" cy="1267.7" r="7.7" fill="#5a78e6"/>
<circle cx="1522.2" cy="1264.5" r="7.7" fill="#5a78e6"/>
<circle cx="1281.3" cy="1256.5" r="7.7" fill="#5a78e6"/>
<circle cx="1791.7" cy="1231.1" r="7.7" fill="#5a78e6"/>
<circle cx="1722.9" cy="1272.1" r="7.7" fill="#5a78e6"/>
<circle cx="1712.5" cy="1270.8" r="7.7" fill="#5a78e6"/>
<circle cx="1449.6" cy="1270.2" r="7.7" fill="#5a78e6"/>
<circle cx="1782.4" cy="1256.6" r="7.7" fill="#5a78e6"/>
<circle cx="1768.4" cy="1231.0" r="7.7" fill="#5a78e6"/>
<circle cx="1533.2" cy="1250.2" r="7.7" fill="#5a78e6"/>
<circle cx="1357.8" cy="1262.4" r="7.7" fill="#5a78e6"/>
<circle cx="1607.2" cy="1255.1" r="7.7" fill="#5a78e6"/>
<circle cx="1659.3" cy="1259.0" r="7.7" fill="#5a78e6"/>
<circle cx="1580.1" cy="1263.5" r="7.7" fill="#5a78e6"/>
<circle cx="1797.7" cy="1234.3" r="7.7" fill="#5a78e6"/>
<circle cx="1238.8" cy="1260.4" r="7.7" fill="#5a78e6"/>
<circle cx="1732.3" cy="1257.4" r="7.7" fill="#5a78e6"/>
<circle cx="1632.9" cy="1264.5" r="7.7" fill="#5a78e6"/>
<circle cx="1787.2" cy="1229.3" r="7.7" fill="#5a78e6"/>
<circle cx="1202.3" cy="1259.0" r="7.7" fill="#5a78e6"/>
<circle cx="1525.5" cy="1255.0" r="7.7" fill="#5a78e6"/>
<circle cx="1485.5" cy="1266.1" r="7.7" fill="#5a78e6"/>
<circle cx="1207.2" cy="1251.4" r="7.7" fill="#5a78e6"/>
<circle cx="1774.4" cy="1256.0" r="7.7" fill="#5a78e6"/>
<circle cx="1316.6" cy="1271.3" r="7.7" fill="#5a78e6"/>
<circle cx="1677.0" cy="1261.6" r="7.7" fill="#5a78e6"/>
<circle cx="1366.6" cy="1241.5" r="7.7" fill="#5a78e6"/>
<circle cx="1493.8" cy="1250.7" r="7.7" fill="#5a78e6"/>
<circle cx="1264.3" cy="1259.5" r="7.7" fill="#5a78e6"/>
<circle cx="1724.9" cy="1244.1" r="7.7" fill="#5a78e6"/>
<circle cx="1167.6" cy="1252.4" r="7.7" fill="#5a78e6"/>
<circle cx="1303.9" cy="1261.3" r="7.7" fill="#5a78e6"/>
<circle cx="1750.2" cy="1237.7" r="7.7" fill="#5a78e6"/>
<circle cx="1849.5" cy="1252.3" r="7.7" fill="#5a78e6"/>
<circle cx="1540.5" cy="1266.6" r="7.7" fill="#5a78e6"/>
<circle cx="1476.2" cy="1268.1" r="7.7" fill="#5a78e6"/>
<circle cx="1809.2" cy="1250.8" r="7.7" fill="#5a78e6"/>
<circle cx="1188.5" cy="1268.2" r="7.7" fill="#5a78e6"/>
<circle cx="1284.8" cy="1258.1" r="7.7" fill="#5a78e6"/>
<circle cx="1614.3" cy="1255.6" r="7.7" fill="#5a78e6"/>
<circle cx="1403.7" cy="1240.3" r="7.7" fill="#5a78e6"/>
<circle cx="1159.6" cy="1263.2" r="7.7" fill="#5a78e6"/>
<circle cx="1776.2" cy="1228.6" r="7.7" fill="#5a78e6"/>
<circle cx="1155.9" cy="1246.2" r="7.7" fill="#5a78e6"/>
<circle cx="1323.9" cy="1257.9" r="7.7" fill="#5a78e6"/>
<circle cx="1502.6" cy="1264.6" r="7.7" fill="#5a78e6"/>
<circle cx="1830.3" cy="1245.7" r="7.7" fill="#5a78e6"/>
<circle cx="1578.8" cy="1257.8" r="7.7" fill="#5a78e6"/>
<circle cx="1619.5" cy="1259.5" r="7.7" fill="#5a78e6"/>
<circle cx="1546.0" cy="1264.5" r="7.7" fill="#5a78e6"/>
<circle cx="1225.2" cy="1261.4" r="7.7" fill="#5a78e6"/>
<circle cx="1255.9" cy="1260.5" r="7.7" fill="#5a78e6"/>
<circle cx="1601.6" cy="1251.9" r="7.7" fill="#5a78e6"/>
<circle cx="1417.3" cy="1241.7" r="7.7" fill="#5a78e6"/>
<circle cx="1682.6" cy="1250.9" r="7.7" fill="#5a78e6"/>
<circle cx="1802.1" cy="1239.3" r="7.7" fill="#5a78e6"/>
<circle cx="1263.9" cy="1243.2" r="7.7" fill="#5a78e6"/>
<circle cx="1795.7" cy="1251.7" r="7.7" fill="#5a78e6"/>
<circle cx="1822.6" cy="1249.4" r="7.7" fill="#5a78e6"/>
<circle cx="1455.5" cy="1246.6" r="7.7" fill="#5a78e6"/>
<circle cx="1648.6" cy="1261.3" r="7.7" fill="#5a78e6"/>
<circle cx="1171.4" cy="1253.7" r="7.7" fill="#5a78e6"/>
<circle cx="1732.8" cy="1271.9" r="7.7" fill="#5a78e6"/>
<circle cx="1343.5" cy="1253.2" r="7.7" fill="#5a78e6"/>
<circle cx="1375.2" cy="1244.6" r="7.7" fill="#5a78e6"/>
<circle cx="1266.0" cy="1248.7" r="7.7" fill="#5a78e6"/>
<circle cx="1720.0" cy="1245.2" r="7.7" fill="#5a78e6"/>
<circle cx="1549.9" cy="1270.0" r="7.7" fill="#5a78e6"/>
<circle cx="1468.8" cy="1266.1" r="7.7" fill="#5a78e6"/>
<circle cx="1826.8" cy="1244.5" r="7.7" fill="#5a78e6"/>
<circle cx="1148.8" cy="1257.1" r="7.7" fill="#5a78e6"/>
<circle cx="1836.2" cy="1260.8" r="7.7" fill="#5a78e6"/>
<circle cx="1184.9" cy="1270.8" r="7.7" fill="#5a78e6"/>
<circle cx="1585.0" cy="1258.4" r="7.7" fill="#5a78e6"/>
<circle cx="1280.3" cy="1268.1" r="7.7" fill="#5a78e6"/>
<circle cx="1393.4" cy="1214.4" r="7.7" fill="#5a78e6"/>
<circle cx="1411.7" cy="1214.8" r="7.7" fill="#5a78e6"/>
<circle cx="1397.5" cy="1219.5" r="7.7" fill="#5a78e6"/>
<circle cx="1370.1" cy="1235.1" r="7.7" fill="#5a78e6"/>
<circle cx="1431.0" cy="1235.7" r="7.7" fill="#5a78e6"/>
<circle cx="1656.3" cy="1242.4" r="7.7" fill="#5a78e6"/>
<circle cx="1755.8" cy="1229.6" r="7.7" fill="#5a78e6"/>
<circle cx="1770.1" cy="1228.6" r="7.7" fill="#5a78e6"/>
<circle cx="1783.2" cy="1232.3" r="7.7" fill="#5a78e6"/>
<circle cx="1796.4" cy="1230.7" r="7.7" fill="#5a78e6"/>
<circle cx="1764.0" cy="1240.8" r="7.7" fill="#5a78e6"/>
<circle cx="1748.7" cy="1242.8" r="7.7" fill="#5a78e6"/>
<circle cx="1440.0" cy="1219.3" r="7.7" fill="#78f5f5"/>
<circle cx="1429.5" cy="1214.5" r="7.7" fill="#78f5f5"/>
<circle cx="1483.0" cy="1227.9" r="7.7" fill="#78f5f5"/>
<circle cx="1499.1" cy="1225.6" r="7.7" fill="#78f5f5"/>
<circle cx="1485.1" cy="1214.1" r="7.7" fill="#78f5f5"/>
<circle cx="1715.6" cy="1212.2" r="7.7" fill="#78f5f5"/>
<circle cx="1732.5" cy="1218.2" r="7.7" fill="#78f5f5"/>
<circle cx="1712.2" cy="1230.0" r="7.7" fill="#78f5f5"/>
<circle cx="1715.1" cy="1227.7" r="7.7" fill="#78f5f5"/>
<circle cx="1703.7" cy="1239.4" r="7.7" fill="#78f5f5"/>
<circle cx="1700.2" cy="1230.0" r="7.7" fill="#78f5f5"/>
<circle cx="1719.7" cy="1239.1" r="7.7" fill="#78f5f5"/>
<circle cx="1387.3" cy="1238.4" r="7.7" fill="#78f5f5"/>
<circle cx="1418.8" cy="1226.2" r="7.7" fill="#78f5f5"/>
<circle cx="1440.1" cy="1216.4" r="7.7" fill="#78f5f5"/>
<circle cx="1428.5" cy="1216.0" r="7.7" fill="#78f5f5"/>
<circle cx="1450.7" cy="1229.0" r="7.7" fill="#78f5f5"/>
<circle cx="1481.7" cy="1229.6" r="7.7" fill="#78f5f5"/>
<circle cx="1469.9" cy="1236.3" r="7.7" fill="#78f5f5"/>
<circle cx="1498.0" cy="1223.6" r="7.7" fill="#78f5f5"/>
<circle cx="1487.8" cy="1215.4" r="7.7" fill="#78f5f5"/>
<circle cx="1507.7" cy="1224.2" r="7.7" fill="#78f5f5"/>
<circle cx="1539.2" cy="1234.7" r="7.7" fill="#78f5f5"/>
<circle cx="1567.0" cy="1230.3" r="7.7" fill="#78f5f5"/>
<circle cx="1577.2" cy="1232.3" r="7.7" fill="#78f5f5"/>
<circle cx="1593.8" cy="1220.9" r="7.7" fill="#78f5f5"/>
<circle cx="1608.6" cy="1220.5" r="7.7" fill="#78f5f5"/>
<circle cx="1712.2" cy="1215.0" r="7.7" fill="#78f5f5"/>
<circle cx="1729.4" cy="1219.1" r="7.7" fill="#78f5f5"/>
<circle cx="1715.2" cy="1229.6" r="7.7" fill="#78f5f5"/>
<circle cx="1703.0" cy="1237.8" r="7.7" fill="#78f5f5"/>
<circle cx="1703.0" cy="1229.0" r="7.7" fill="#78f5f5"/>
<circle cx="1720.9" cy="1238.8" r="7.7" fill="#78f5f5"/>
<circle cx="1751.8" cy="1190.7" r="7.7" fill="#78f5f5"/>
<circle cx="1763.4" cy="1197.6" r="7.7" fill="#78f5f5"/>
<circle cx="1804.6" cy="1207.9" r="7.7" fill="#78f5f5"/>
<circle cx="1461.8" cy="1173.9" r="7.7" fill="#47e41f"/>
<circle cx="1464.6" cy="1170.3" r="7.7" fill="#47e41f"/>
<circle cx="1463.3" cy="1179.1" r="7.7" fill="#47e41f"/>
<circle cx="1486.1" cy="1185.3" r="7.7" fill="#47e41f"/>
<circle cx="1474.3" cy="1182.4" r="7.7" fill="#47e41f"/>
<circle cx="1476.0" cy="1186.8" r="7.7" fill="#47e41f"/>
<circle cx="1499.8" cy="1184.5" r="7.7" fill="#47e41f"/>
<circle cx="1497.7" cy="1185.4" r="7.7" fill="#47e41f"/>
<circle cx="1487.7" cy="1177.1" r="7.7" fill="#47e41f"/>
<circle cx="1490.2" cy="1178.5" r="7.7" fill="#47e41f"/>
<circle cx="1593.6" cy="1172.3" r="7.7" fill="#47e41f"/>
<circle cx="1597.3" cy="1169.2" r="7.7" fill="#47e41f"/>
<circle cx="1601.9" cy="1175.2" r="7.7" fill="#47e41f"/>
<circle cx="1609.7" cy="1175.0" r="7.7" fill="#47e41f"/>
<circle cx="1614.2" cy="1178.5" r="7.7" fill="#47e41f"/>
<circle cx="1624.3" cy="1180.3" r="7.7" fill="#47e41f"/>
<circle cx="1641.3" cy="1180.0" r="7.7" fill="#47e41f"/>
<circle cx="1632.9" cy="1182.9" r="7.7" fill="#47e41f"/>
<circle cx="1669.2" cy="1182.6" r="7.7" fill="#47e41f"/>
<circle cx="1659.1" cy="1179.1" r="7.7" fill="#47e41f"/>
<circle cx="1679.6" cy="1183.3" r="7.7" fill="#47e41f"/>
<circle cx="1684.3" cy="1182.7" r="7.7" fill="#47e41f"/>
<circle cx="1706.2" cy="1187.9" r="7.7" fill="#47e41f"/>
<circle cx="1705.6" cy="1199.6" r="7.7" fill="#47e41f"/>
<circle cx="1699.9" cy="1187.0" r="7.7" fill="#47e41f"/>
<circle cx="1700.4" cy="1189.0" r="7.7" fill="#47e41f"/>
<circle cx="1428.9" cy="1166.7" r="7.7" fill="#47e41f"/>
<circle cx="1403.6" cy="1192.7" r="7.7" fill="#47e41f"/>
<circle cx="1484.8" cy="1204.3" r="7.7" fill="#47e41f"/>
<circle cx="1461.4" cy="1172.8" r="7.7" fill="#47e41f"/>
<circle cx="1465.5" cy="1180.9" r="7.7" fill="#47e41f"/>
<circle cx="1485.8" cy="1182.9" r="7.7" fill="#47e41f"/>
<circle cx="1473.6" cy="1184.0" r="7.7" fill="#47e41f"/>
<circle cx="1498.0" cy="1185.0" r="7.7" fill="#47e41f"/>
<circle cx="1489.8" cy="1178.9" r="7.7" fill="#47e41f"/>
<circle cx="1595.4" cy="1170.8" r="7.7" fill="#47e41f"/>
<circle cx="1599.5" cy="1176.9" r="7.7" fill="#47e41f"/>
<circle cx="1612.7" cy="1176.9" r="7.7" fill="#47e41f"/>
<circle cx="1624.9" cy="1181.9" r="7.7" fill="#47e41f"/>
<circle cx="1644.2" cy="1180.9" r="7.7" fill="#47e41f"/>
<circle cx="1635.6" cy="1180.9" r="7.7" fill="#47e41f"/>
<circle cx="1671.6" cy="1180.9" r="7.7" fill="#47e41f"/>
<circle cx="1661.4" cy="1181.9" r="7.7" fill="#47e41f"/>
<circle cx="1681.7" cy="1180.9" r="7.7" fill="#47e41f"/>
<circle cx="1707.1" cy="1186.0" r="7.7" fill="#47e41f"/>
<circle cx="1703.0" cy="1198.2" r="7.7" fill="#47e41f"/>
<circle cx="1698.0" cy="1188.0" r="7.7" fill="#47e41f"/>
<circle cx="1535.5" cy="1209.3" r="7.7" fill="#47e41f"/>
<circle cx="1452.4" cy="1161.6" r="7.7" fill="#eda637"/>
<circle cx="1457.1" cy="1150.8" r="7.7" fill="#eda637"/>
<circle cx="1479.3" cy="1164.4" r="7.7" fill="#eda637"/>
<circle cx="1480.8" cy="1161.7" r="7.7" fill="#eda637"/>
<circle cx="1465.2" cy="1155.3" r="7.7" fill="#eda637"/>
<circle cx="1463.8" cy="1154.1" r="7.7" fill="#eda637"/>
<circle cx="1494.7" cy="1152.6" r="7.7" fill="#eda637"/>
<circle cx="1488.8" cy="1160.7" r="7.7" fill="#eda637"/>
<circle cx="1486.8" cy="1159.6" r="7.7" fill="#eda637"/>
<circle cx="1501.5" cy="1156.0" r="7.7" fill="#eda637"/>
<circle cx="1500.7" cy="1156.1" r="7.7" fill="#eda637"/>
<circle cx="1573.5" cy="1148.3" r="7.7" fill="#eda637"/>
<circle cx="1644.6" cy="1155.7" r="7.7" fill="#eda637"/>
<circle cx="1684.1" cy="1159.0" r="7.7" fill="#eda637"/>
<circle cx="1613.7" cy="1160.5" r="7.7" fill="#eda637"/>
<circle cx="1583.1" cy="1155.1" r="7.7" fill="#eda637"/>
<circle cx="1606.5" cy="1158.5" r="7.7" fill="#eda637"/>
<circle cx="1619.9" cy="1162.4" r="7.7" fill="#eda637"/>
<circle cx="1622.0" cy="1166.4" r="7.7" fill="#eda637"/>
<circle cx="1640.0" cy="1164.8" r="7.7" fill="#eda637"/>
<circle cx="1641.2" cy="1164.0" r="7.7" fill="#eda637"/>
<circle cx="1660.3" cy="1159.1" r="7.7" fill="#eda637"/>
<circle cx="1650.0" cy="1160.0" r="7.7" fill="#eda637"/>
<circle cx="1682.3" cy="1161.2" r="7.7" fill="#eda637"/>
<circle cx="1683.3" cy="1161.9" r="7.7" fill="#eda637"/>
<circle cx="1676.6" cy="1166.1" r="7.7" fill="#eda637"/>
<circle cx="1671.1" cy="1164.5" r="7.7" fill="#eda637"/>
<circle cx="1698.1" cy="1170.5" r="7.7" fill="#eda637"/>
<circle cx="1697.5" cy="1171.6" r="7.7" fill="#eda637"/>
<circle cx="1706.1" cy="1169.8" r="7.7" fill="#eda637"/>
<circle cx="1504.2" cy="1183.8" r="7.7" fill="#eda637"/>
<circle cx="1504.0" cy="1181.9" r="7.7" fill="#eda637"/>
<circle cx="1527.3" cy="1181.5" r="7.7" fill="#eda637"/>
<circle cx="1522.5" cy="1181.6" r="7.7" fill="#eda637"/>
<circle cx="1547.4" cy="1176.5" r="7.7" fill="#eda637"/>
<circle cx="1570.3" cy="1180.5" r="7.7" fill="#eda637"/>
<circle cx="1564.5" cy="1180.0" r="7.7" fill="#eda637"/>
<circle cx="1578.0" cy="1174.7" r="7.7" fill="#eda637"/>
<circle cx="1534.9" cy="1192.1" r="7.7" fill="#eda637"/>
<circle cx="1554.7" cy="1191.8" r="7.7" fill="#eda637"/>
<circle cx="1557.1" cy="1191.5" r="7.7" fill="#eda637"/>
<circle cx="1568.1" cy="1193.9" r="7.7" fill="#eda637"/>
<circle cx="1450.3" cy="1164.1" r="7.7" fill="#eda637"/>
<circle cx="1459.4" cy="1153.5" r="7.7" fill="#eda637"/>
<circle cx="1477.7" cy="1164.7" r="7.7" fill="#eda637"/>
<circle cx="1467.1" cy="1155.9" r="7.7" fill="#eda637"/>
<circle cx="1493.9" cy="1151.5" r="7.7" fill="#eda637"/>
<circle cx="1485.8" cy="1158.0" r="7.7" fill="#eda637"/>
<circle cx="1500.0" cy="1155.5" r="7.7" fill="#eda637"/>
<circle cx="1570.1" cy="1150.5" r="7.7" fill="#eda637"/>
<circle cx="1642.1" cy="1154.5" r="7.7" fill="#eda637"/>
<circle cx="1680.7" cy="1157.6" r="7.7" fill="#eda637"/>
<circle cx="1615.7" cy="1157.6" r="7.7" fill="#eda637"/>
<circle cx="1584.3" cy="1157.6" r="7.7" fill="#eda637"/>
<circle cx="1603.6" cy="1157.6" r="7.7" fill="#eda637"/>
<circle cx="1622.8" cy="1163.7" r="7.7" fill="#eda637"/>
<circle cx="1640.1" cy="1162.6" r="7.7" fill="#eda637"/>
<circle cx="1660.4" cy="1161.6" r="7.7" fill="#eda637"/>
<circle cx="1650.3" cy="1162.6" r="7.7" fill="#eda637"/>
<circle cx="1684.8" cy="1163.7" r="7.7" fill="#eda637"/>
<circle cx="1674.6" cy="1163.7" r="7.7" fill="#eda637"/>
<circle cx="1694.9" cy="1170.8" r="7.7" fill="#eda637"/>
<circle cx="1708.1" cy="1169.3" r="7.7" fill="#eda637"/>
<circle cx="1506.1" cy="1180.9" r="7.7" fill="#eda637"/>
<circle cx="1530.5" cy="1181.9" r="7.7" fill="#eda637"/>
<circle cx="1519.3" cy="1181.9" r="7.7" fill="#eda637"/>
<circle cx="1549.7" cy="1176.4" r="7.7" fill="#eda637"/>
<circle cx="1567.0" cy="1180.9" r="7.7" fill="#eda637"/>
<circle cx="1580.6" cy="1177.5" r="7.7" fill="#eda637"/>
<circle cx="1537.6" cy="1194.1" r="7.7" fill="#eda637"/>
<circle cx="1554.8" cy="1194.1" r="7.7" fill="#eda637"/>
<circle cx="1569.4" cy="1193.1" r="7.7" fill="#eda637"/>
<circle cx="1497.6" cy="1171.5" r="7.7" fill="#ff2a18"/>
<circle cx="1499.4" cy="1172.1" r="7.7" fill="#ff2a18"/>
<circle cx="1516.1" cy="1156.0" r="7.7" fill="#ff2a18"/>
<circle cx="1515.7" cy="1156.8" r="7.7" fill="#ff2a18"/>
<circle cx="1531.8" cy="1148.4" r="7.7" fill="#ff2a18"/>
<circle cx="1543.6" cy="1154.1" r="7.7" fill="#ff2a18"/>
<circle cx="1543.0" cy="1153.8" r="7.7" fill="#ff2a18"/>
<circle cx="1528.0" cy="1159.1" r="7.7" fill="#ff2a18"/>
<circle cx="1553.2" cy="1163.3" r="7.7" fill="#ff2a18"/>
<circle cx="1551.8" cy="1160.8" r="7.7" fill="#ff2a18"/>
<circle cx="1554.0" cy="1157.3" r="7.7" fill="#ff2a18"/>
<circle cx="1559.6" cy="1156.4" r="7.7" fill="#ff2a18"/>
<circle cx="1567.7" cy="1161.3" r="7.7" fill="#ff2a18"/>
<circle cx="1504.1" cy="1173.3" r="7.7" fill="#ff2a18"/>
<circle cx="1504.0" cy="1170.6" r="7.7" fill="#ff2a18"/>
<circle cx="1501.0" cy="1169.7" r="7.7" fill="#ff2a18"/>
<circle cx="1517.3" cy="1157.6" r="7.7" fill="#ff2a18"/>
<circle cx="1533.5" cy="1148.4" r="7.7" fill="#ff2a18"/>
<circle cx="1543.7" cy="1154.9" r="7.7" fill="#ff2a18"/>
<circle cx="1527.4" cy="1156.5" r="7.7" fill="#ff2a18"/>
<circle cx="1550.8" cy="1160.6" r="7.7" fill="#ff2a18"/>
<circle cx="1556.9" cy="1155.5" r="7.7" fill="#ff2a18"/>
<circle cx="1564.4" cy="1159.6" r="7.7" fill="#ff2a18"/>
<circle cx="1504.1" cy="1170.4" r="7.7" fill="#ff2a18"/>
<path d="M1505.5 1134.4L1515.1 1144.0L1505.5 1153.6L1495.9 1144.0Z" fill="#c132fb" stroke="#000" stroke-width="3.3" stroke-linejoin="round"/>
</g>
<path d="M1110.3 1131.6V1270.0M1108.2 1270.0H1899.5" stroke="#000" stroke-width="4.5" fill="none"/>
<text x="1088.7" y="1145.8" class="a" text-anchor="end">12.5</text>
<text x="1088.7" y="1172.2" class="a" text-anchor="end">10.0</text>
<text x="1088.7" y="1199.0" class="a" text-anchor="end">7.5</text>
<text x="1088.7" y="1225.6" class="a" text-anchor="end">5.0</text>
<text x="1088.7" y="1252.8" class="a" text-anchor="end">2.5</text>
<text x="1141.6" y="1311.5" class="a" text-anchor="middle">4.2</text>
<text x="1284.8" y="1311.5" class="a" text-anchor="middle">4.3</text>
<text x="1428.3" y="1311.5" class="a" text-anchor="middle">4.4</text>
<text x="1572.1" y="1311.5" class="a" text-anchor="middle">4.5</text>
<text x="1715.6" y="1311.5" class="a" text-anchor="middle">4.6</text>
<text x="1859.4" y="1311.5" class="a" text-anchor="middle">4.7</text>
<path d="M1098.0 1136.2H1109.3M1098.0 1162.6H1109.3M1098.0 1189.4H1109.3M1098.0 1216.0H1109.3M1098.0 1243.2H1109.3M1141.6 1271.0V1282.3M1284.8 1271.0V1282.3M1428.3 1271.0V1282.3M1572.1 1271.0V1282.3M1715.6 1271.0V1282.3M1859.4 1271.0V1282.3" stroke="#333" stroke-width="4.1" fill="none"/>
<text x="1504.9" y="1348.5" class="a" text-anchor="middle">Chromosome 16 (Mb)</text>
<text transform="translate(1018.0 1201.1) rotate(-90)" class="a" text-anchor="middle">-log10P</text>
<g clip-path="url(#cgf)">
<text x="1197.3" y="1431.6" class="g"><tspan class="ar" dy="-1.6">←</tspan><tspan dx="-2.3" dy="1.6">SRL</tspan></text>
<text x="1257.5" y="1431.6" class="g"><tspan class="ar" dy="-1.6">←</tspan><tspan dx="-1.8" dy="1.6">TFAP4</tspan></text>
<text x="1353.9" y="1431.6" class="g">GLIS2<tspan class="ar" dx="-2.4" dy="-1.6">→</tspan></text>
<text x="1435.1" y="1431.6" class="g"><tspan class="ar" dy="-1.6">←</tspan><tspan dx="-2.4" dy="1.6">CORO7</tspan></text>
<text x="1370.4" y="1477.7" class="g"><tspan class="ar" dy="-1.6">←</tspan><tspan dx="-3.0" dy="1.6">PAM16</tspan></text>
<text x="1430.4" y="1477.7" class="g">VASN<tspan class="ar" dx="-3.0" dy="-1.6">→</tspan></text>
<text x="1382.6" y="1523.8" class="g"><tspan class="ar" dy="-1.6">←</tspan><tspan dx="-2.4" dy="1.6">CORO7-PAM16</tspan></text>
<text x="1559.5" y="1431.6" class="g"><tspan class="ar" dy="-1.6">←</tspan><tspan dx="-3.0" dy="1.6">NMRAL1</tspan></text>
<text x="1638.6" y="1431.6" class="g"><tspan class="ar" dy="-1.6">←</tspan><tspan dx="-2.4" dy="1.6">CDIP1</tspan></text>
<text x="1708.3" y="1431.6" class="g">C16orf96<tspan class="ar" dx="-2.2" dy="-1.6">→</tspan></text>
<text x="1824.3" y="1431.6" class="g">MGRN1<tspan class="ar" dx="-2.3" dy="-1.6">→</tspan></text>
<text x="1510.4" y="1477.7" class="g">DNAJA3<tspan class="ar" dx="-2.2" dy="-1.6">→</tspan></text>
<text x="1588.7" y="1477.7" class="g">HMOX2<tspan class="ar" dx="-2.4" dy="-1.6">→</tspan></text>
<text x="1756.2" y="1477.7" class="g"><tspan class="ar" dy="-1.6">←</tspan><tspan dx="-2.9" dy="1.6">UBALD1</tspan></text>
<path d="M1191.4 1444.2H1270.3M1290.7 1444.2H1315.6M1374.9 1444.2H1412.5M1432.8 1444.2H1538.6M1399.5 1490.3H1436.0M1457.8 1490.3H1477.1M1412.5 1536.4H1530.9M1589.3 1444.2H1640.9M1661.4 1444.2H1704.1M1727.8 1444.2H1794.2M1816.1 1444.2H2001.9M1537.4 1490.3H1583.6M1608.0 1490.3H1662.2M1804.4 1490.3H1815.5" stroke="#000" stroke-width="4.8" fill="none"/>
<path d="M1191.4 1436.6H1197.9V1451.8H1191.4ZM1211.7 1436.6H1215.1V1451.8H1211.7ZM1216.7 1436.6H1220.6V1451.8H1216.7ZM1199.9 1436.6H1201.5V1451.8H1199.9ZM1203.1 1436.6H1204.8V1451.8H1203.1ZM1264.9 1436.6H1266.5V1451.8H1264.9ZM1268.5 1436.6H1270.1V1451.8H1268.5ZM1290.7 1436.6H1307.5V1451.8H1290.7ZM1313.0 1436.6H1315.6V1451.8H1313.0ZM1374.9 1436.6H1376.9V1451.8H1374.9ZM1395.8 1436.6H1397.9V1451.8H1395.8ZM1400.5 1436.6H1406.0V1451.8H1400.5ZM1407.0 1436.6H1412.5V1451.8H1407.0ZM1432.8 1436.6H1450.7V1451.8H1432.8ZM1481.5 1436.6H1484.2V1451.8H1481.5ZM1492.3 1436.6H1493.7V1451.8H1492.3ZM1495.3 1436.6H1496.7V1451.8H1495.3ZM1507.5 1436.6H1509.5V1451.8H1507.5ZM1510.6 1436.6H1513.0V1451.8H1510.6ZM1517.1 1436.6H1525.8V1451.8H1517.1ZM1528.2 1436.6H1530.9V1451.8H1528.2ZM1535.9 1436.6H1538.6V1451.8H1535.9ZM1399.5 1482.7H1401.9V1497.9H1399.5ZM1412.1 1482.7H1421.6V1497.9H1412.1ZM1427.3 1482.7H1428.9V1497.9H1427.3ZM1433.8 1482.7H1436.0V1497.9H1433.8ZM1457.8 1482.7H1459.8V1497.9H1457.8ZM1472.4 1482.7H1477.1V1497.9H1472.4ZM1412.5 1528.8H1417.2V1544.0H1412.5ZM1435.4 1528.8H1449.6V1544.0H1435.4ZM1481.5 1528.8H1484.2V1544.0H1481.5ZM1492.3 1528.8H1493.7V1544.0H1492.3ZM1507.5 1528.8H1509.5V1544.0H1507.5ZM1510.6 1528.8H1513.0V1544.0H1510.6ZM1517.1 1528.8H1520.7V1544.0H1517.1ZM1522.7 1528.8H1525.8V1544.0H1522.7ZM1528.2 1528.8H1530.9V1544.0H1528.2ZM1589.3 1436.6H1594.8V1451.8H1589.3ZM1596.8 1436.6H1598.9V1451.8H1596.8ZM1600.9 1436.6H1605.0V1451.8H1600.9ZM1608.0 1436.6H1613.1V1451.8H1608.0ZM1615.1 1436.6H1616.5V1451.8H1615.1ZM1618.6 1436.6H1620.2V1451.8H1618.6ZM1638.9 1436.6H1640.9V1451.8H1638.9ZM1661.4 1436.6H1668.3V1451.8H1661.4ZM1678.7 1436.6H1682.1V1451.8H1678.7ZM1699.4 1436.6H1704.1V1451.8H1699.4ZM1727.8 1436.6H1730.2V1451.8H1727.8ZM1750.1 1436.6H1752.6V1451.8H1750.1ZM1755.2 1436.6H1758.3V1451.8H1755.2ZM1760.7 1436.6H1763.8V1451.8H1760.7ZM1772.9 1436.6H1776.5V1451.8H1772.9ZM1780.2 1436.6H1785.7V1451.8H1780.2ZM1790.8 1436.6H1794.2V1451.8H1790.8ZM1816.1 1436.6H1818.6V1451.8H1816.1ZM1827.3 1436.6H1829.7V1451.8H1827.3ZM1865.9 1436.6H1871.0V1451.8H1865.9ZM1877.1 1436.6H1879.1V1451.8H1877.1ZM1886.2 1436.6H1889.2V1451.8H1886.2ZM1892.3 1436.6H1894.3V1451.8H1892.3ZM1896.3 1436.6H1900.4V1451.8H1896.3ZM1537.4 1482.7H1539.4V1497.9H1537.4ZM1546.1 1482.7H1548.1V1497.9H1546.1ZM1549.5 1482.7H1551.2V1497.9H1549.5ZM1553.2 1482.7H1555.8V1497.9H1553.2ZM1559.3 1482.7H1574.5V1497.9H1559.3ZM1576.5 1482.7H1578.6V1497.9H1576.5ZM1580.0 1482.7H1583.6V1497.9H1580.0ZM1608.0 1482.7H1612.1V1497.9H1608.0ZM1621.2 1482.7H1623.2V1497.9H1621.2ZM1628.3 1482.7H1630.3V1497.9H1628.3ZM1638.9 1482.7H1641.5V1497.9H1638.9ZM1650.2 1482.7H1651.7V1497.9H1650.2ZM1653.7 1482.7H1662.2V1497.9H1653.7ZM1804.4 1482.7H1809.0V1497.9H1804.4ZM1812.1 1482.7H1815.5V1497.9H1812.1Z" fill="#000"/>
</g>
</g>
<g id="panel-g">
<text x="6.8" y="1604.2" class="pl">g</text>
<text x="139.6" y="1627.7" class="t">Trait: Intestinibacter sp900540355; rsID: rs17007949</text>
<clipPath id="cpg"><rect x="140.1" y="1649.4" width="788.2" height="144.9"/></clipPath>
<clipPath id="cgg"><rect x="137.6" y="1895.8" width="790.7" height="300"/></clipPath>
<line x1="140.1" y1="1706.3" x2="928.3" y2="1706.3" stroke="#bebebe" stroke-width="4" stroke-dasharray="18.6 19.5"/>
<g clip-path="url(#cpg)" stroke="#000" stroke-width="3.3">
<circle cx="863.6" cy="1792.8" r="7.7" fill="#5a78e6"/>
<circle cx="431.8" cy="1782.0" r="7.7" fill="#5a78e6"/>
<circle cx="468.1" cy="1791.3" r="7.7" fill="#5a78e6"/>
<circle cx="365.2" cy="1759.1" r="7.7" fill="#5a78e6"/>
<circle cx="774.8" cy="1789.6" r="7.7" fill="#5a78e6"/>
<circle cx="524.5" cy="1784.2" r="7.7" fill="#5a78e6"/>
<circle cx="719.0" cy="1781.1" r="7.7" fill="#5a78e6"/>
<circle cx="613.9" cy="1797.2" r="7.7" fill="#5a78e6"/>
<circle cx="375.6" cy="1764.8" r="7.7" fill="#5a78e6"/>
<circle cx="678.5" cy="1777.1" r="7.7" fill="#5a78e6"/>
<circle cx="686.9" cy="1795.5" r="7.7" fill="#5a78e6"/>
<circle cx="883.5" cy="1785.0" r="7.7" fill="#5a78e6"/>
<circle cx="567.2" cy="1794.5" r="7.7" fill="#5a78e6"/>
<circle cx="358.3" cy="1759.5" r="7.7" fill="#5a78e6"/>
<circle cx="349.5" cy="1790.0" r="7.7" fill="#5a78e6"/>
<circle cx="369.6" cy="1777.9" r="7.7" fill="#5a78e6"/>
<circle cx="727.3" cy="1783.9" r="7.7" fill="#5a78e6"/>
<circle cx="446.4" cy="1781.6" r="7.7" fill="#5a78e6"/>
<circle cx="383.4" cy="1780.9" r="7.7" fill="#5a78e6"/>
<circle cx="602.3" cy="1785.5" r="7.7" fill="#5a78e6"/>
<circle cx="449.8" cy="1788.1" r="7.7" fill="#5a78e6"/>
<circle cx="734.4" cy="1786.3" r="7.7" fill="#5a78e6"/>
<circle cx="680.0" cy="1773.6" r="7.7" fill="#5a78e6"/>
<circle cx="486.4" cy="1779.7" r="7.7" fill="#5a78e6"/>
<circle cx="791.8" cy="1772.6" r="7.7" fill="#5a78e6"/>
<circle cx="471.0" cy="1777.6" r="7.7" fill="#5a78e6"/>
<circle cx="700.0" cy="1795.3" r="7.7" fill="#5a78e6"/>
<circle cx="486.9" cy="1776.9" r="7.7" fill="#5a78e6"/>
<circle cx="203.2" cy="1785.8" r="7.7" fill="#5a78e6"/>
<circle cx="686.5" cy="1776.8" r="7.7" fill="#5a78e6"/>
<circle cx="549.1" cy="1794.8" r="7.7" fill="#5a78e6"/>
<circle cx="455.7" cy="1794.3" r="7.7" fill="#5a78e6"/>
<circle cx="624.8" cy="1782.9" r="7.7" fill="#5a78e6"/>
<circle cx="808.6" cy="1796.8" r="7.7" fill="#5a78e6"/>
<circle cx="715.6" cy="1787.7" r="7.7" fill="#5a78e6"/>
<circle cx="661.8" cy="1781.8" r="7.7" fill="#5a78e6"/>
<circle cx="639.1" cy="1783.7" r="7.7" fill="#5a78e6"/>
<circle cx="501.3" cy="1779.0" r="7.7" fill="#5a78e6"/>
<circle cx="192.4" cy="1781.7" r="7.7" fill="#5a78e6"/>
<circle cx="481.6" cy="1788.9" r="7.7" fill="#5a78e6"/>
<circle cx="476.1" cy="1775.1" r="7.7" fill="#5a78e6"/>
<circle cx="656.2" cy="1785.6" r="7.7" fill="#5a78e6"/>
<circle cx="595.7" cy="1780.6" r="7.7" fill="#5a78e6"/>
<circle cx="592.9" cy="1794.5" r="7.7" fill="#5a78e6"/>
<circle cx="399.1" cy="1780.1" r="7.7" fill="#5a78e6"/>
<circle cx="324.8" cy="1766.6" r="7.7" fill="#5a78e6"/>
<circle cx="395.6" cy="1776.6" r="7.7" fill="#5a78e6"/>
<circle cx="572.2" cy="1772.2" r="7.7" fill="#5a78e6"/>
<circle cx="749.1" cy="1785.1" r="7.7" fill="#5a78e6"/>
<circle cx="246.7" cy="1794.6" r="7.7" fill="#5a78e6"/>
<circle cx="220.2" cy="1780.2" r="7.7" fill="#5a78e6"/>
<circle cx="826.6" cy="1793.5" r="7.7" fill="#5a78e6"/>
<circle cx="585.7" cy="1775.8" r="7.7" fill="#5a78e6"/>
<circle cx="372.3" cy="1794.2" r="7.7" fill="#5a78e6"/>
<circle cx="325.3" cy="1798.0" r="7.7" fill="#5a78e6"/>
<circle cx="534.6" cy="1777.0" r="7.7" fill="#5a78e6"/>
<circle cx="578.6" cy="1790.4" r="7.7" fill="#5a78e6"/>
<circle cx="395.8" cy="1770.5" r="7.7" fill="#5a78e6"/>
<circle cx="861.0" cy="1787.2" r="7.7" fill="#5a78e6"/>
<circle cx="194.9" cy="1782.0" r="7.7" fill="#5a78e6"/>
<circle cx="369.3" cy="1788.0" r="7.7" fill="#5a78e6"/>
<circle cx="312.1" cy="1766.1" r="7.7" fill="#5a78e6"/>
<circle cx="422.0" cy="1789.8" r="7.7" fill="#5a78e6"/>
<circle cx="337.5" cy="1791.0" r="7.7" fill="#5a78e6"/>
<circle cx="533.8" cy="1777.4" r="7.7" fill="#5a78e6"/>
<circle cx="318.5" cy="1767.5" r="7.7" fill="#5a78e6"/>
<circle cx="569.0" cy="1774.5" r="7.7" fill="#5a78e6"/>
<circle cx="388.0" cy="1770.7" r="7.7" fill="#5a78e6"/>
<circle cx="725.5" cy="1784.6" r="7.7" fill="#5a78e6"/>
<circle cx="295.0" cy="1782.9" r="7.7" fill="#5a78e6"/>
<circle cx="174.2" cy="1786.9" r="7.7" fill="#5a78e6"/>
<circle cx="363.2" cy="1790.9" r="7.7" fill="#5a78e6"/>
<circle cx="310.4" cy="1797.6" r="7.7" fill="#5a78e6"/>
<circle cx="871.5" cy="1788.6" r="7.7" fill="#5a78e6"/>
<circle cx="779.5" cy="1775.1" r="7.7" fill="#5a78e6"/>
<circle cx="691.4" cy="1787.9" r="7.7" fill="#5a78e6"/>
<circle cx="890.6" cy="1784.3" r="7.7" fill="#5a78e6"/>
<circle cx="700.7" cy="1776.1" r="7.7" fill="#5a78e6"/>
<circle cx="760.4" cy="1786.2" r="7.7" fill="#5a78e6"/>
<circle cx="272.0" cy="1785.3" r="7.7" fill="#5a78e6"/>
<circle cx="380.4" cy="1797.2" r="7.7" fill="#5a78e6"/>
<circle cx="351.2" cy="1794.6" r="7.7" fill="#5a78e6"/>
<circle cx="355.2" cy="1776.8" r="7.7" fill="#5a78e6"/>
<circle cx="405.5" cy="1774.5" r="7.7" fill="#5a78e6"/>
<circle cx="364.0" cy="1790.5" r="7.7" fill="#5a78e6"/>
<circle cx="421.1" cy="1791.5" r="7.7" fill="#5a78e6"/>
<circle cx="177.6" cy="1791.9" r="7.7" fill="#5a78e6"/>
<circle cx="241.5" cy="1776.9" r="7.7" fill="#5a78e6"/>
<circle cx="632.4" cy="1781.5" r="7.7" fill="#5a78e6"/>
<circle cx="822.9" cy="1779.2" r="7.7" fill="#5a78e6"/>
<circle cx="529.3" cy="1788.2" r="7.7" fill="#5a78e6"/>
<circle cx="371.4" cy="1777.5" r="7.7" fill="#5a78e6"/>
<circle cx="731.5" cy="1794.3" r="7.7" fill="#5a78e6"/>
<circle cx="494.0" cy="1779.3" r="7.7" fill="#5a78e6"/>
<circle cx="628.0" cy="1786.1" r="7.7" fill="#5a78e6"/>
<circle cx="828.1" cy="1780.1" r="7.7" fill="#5a78e6"/>
<circle cx="236.2" cy="1771.9" r="7.7" fill="#5a78e6"/>
<circle cx="644.8" cy="1783.8" r="7.7" fill="#5a78e6"/>
<circle cx="865.2" cy="1788.7" r="7.7" fill="#5a78e6"/>
<circle cx="832.9" cy="1781.6" r="7.7" fill="#5a78e6"/>
<circle cx="785.3" cy="1769.2" r="7.7" fill="#5a78e6"/>
<circle cx="497.3" cy="1786.4" r="7.7" fill="#5a78e6"/>
<circle cx="349.7" cy="1759.1" r="7.7" fill="#5a78e6"/>
<circle cx="337.7" cy="1758.0" r="7.7" fill="#5a78e6"/>
<circle cx="786.2" cy="1797.0" r="7.7" fill="#5a78e6"/>
<circle cx="506.3" cy="1780.7" r="7.7" fill="#5a78e6"/>
<circle cx="672.9" cy="1778.6" r="7.7" fill="#5a78e6"/>
<circle cx="889.9" cy="1795.8" r="7.7" fill="#5a78e6"/>
<circle cx="871.9" cy="1796.9" r="7.7" fill="#5a78e6"/>
<circle cx="555.1" cy="1783.9" r="7.7" fill="#5a78e6"/>
<circle cx="601.8" cy="1786.5" r="7.7" fill="#5a78e6"/>
<circle cx="560.2" cy="1777.3" r="7.7" fill="#5a78e6"/>
<circle cx="660.3" cy="1793.9" r="7.7" fill="#5a78e6"/>
<circle cx="518.5" cy="1782.3" r="7.7" fill="#5a78e6"/>
<circle cx="267.8" cy="1790.1" r="7.7" fill="#5a78e6"/>
<circle cx="338.6" cy="1777.7" r="7.7" fill="#5a78e6"/>
<circle cx="372.2" cy="1772.9" r="7.7" fill="#5a78e6"/>
<circle cx="248.9" cy="1782.3" r="7.7" fill="#5a78e6"/>
<circle cx="696.7" cy="1777.1" r="7.7" fill="#5a78e6"/>
<circle cx="846.9" cy="1786.9" r="7.7" fill="#5a78e6"/>
<circle cx="458.4" cy="1780.4" r="7.7" fill="#5a78e6"/>
<circle cx="320.2" cy="1794.6" r="7.7" fill="#5a78e6"/>
<circle cx="276.7" cy="1790.3" r="7.7" fill="#5a78e6"/>
<circle cx="324.9" cy="1763.2" r="7.7" fill="#5a78e6"/>
<circle cx="838.3" cy="1788.3" r="7.7" fill="#5a78e6"/>
<circle cx="333.0" cy="1764.1" r="7.7" fill="#5a78e6"/>
<circle cx="386.8" cy="1783.4" r="7.7" fill="#5a78e6"/>
<circle cx="792.2" cy="1786.4" r="7.7" fill="#5a78e6"/>
<circle cx="808.8" cy="1773.5" r="7.7" fill="#5a78e6"/>
<circle cx="332.9" cy="1781.5" r="7.7" fill="#5a78e6"/>
<circle cx="206.8" cy="1778.2" r="7.7" fill="#5a78e6"/>
<circle cx="217.4" cy="1786.9" r="7.7" fill="#5a78e6"/>
<circle cx="345.2" cy="1760.1" r="7.7" fill="#5a78e6"/>
<circle cx="304.7" cy="1763.8" r="7.7" fill="#5a78e6"/>
<circle cx="744.0" cy="1785.0" r="7.7" fill="#5a78e6"/>
<circle cx="501.6" cy="1781.6" r="7.7" fill="#5a78e6"/>
<circle cx="344.9" cy="1758.5" r="7.7" fill="#5a78e6"/>
<circle cx="837.3" cy="1792.3" r="7.7" fill="#5a78e6"/>
<circle cx="189.0" cy="1784.1" r="7.7" fill="#5a78e6"/>
<circle cx="692.8" cy="1775.9" r="7.7" fill="#5a78e6"/>
<circle cx="769.2" cy="1798.6" r="7.7" fill="#5a78e6"/>
<circle cx="527.1" cy="1785.3" r="7.7" fill="#5a78e6"/>
<circle cx="876.6" cy="1788.6" r="7.7" fill="#5a78e6"/>
<circle cx="405.7" cy="1769.2" r="7.7" fill="#5a78e6"/>
<circle cx="290.9" cy="1765.1" r="7.7" fill="#5a78e6"/>
<circle cx="610.9" cy="1782.8" r="7.7" fill="#5a78e6"/>
<circle cx="790.4" cy="1798.7" r="7.7" fill="#5a78e6"/>
<circle cx="186.1" cy="1793.1" r="7.7" fill="#5a78e6"/>
<circle cx="296.9" cy="1788.2" r="7.7" fill="#5a78e6"/>
<circle cx="622.7" cy="1782.5" r="7.7" fill="#5a78e6"/>
<circle cx="203.4" cy="1787.6" r="7.7" fill="#5a78e6"/>
<circle cx="519.4" cy="1796.5" r="7.7" fill="#5a78e6"/>
<circle cx="283.6" cy="1779.6" r="7.7" fill="#5a78e6"/>
<circle cx="693.8" cy="1781.8" r="7.7" fill="#5a78e6"/>
<circle cx="284.9" cy="1772.0" r="7.7" fill="#5a78e6"/>
<circle cx="481.3" cy="1776.6" r="7.7" fill="#5a78e6"/>
<circle cx="531.3" cy="1774.6" r="7.7" fill="#5a78e6"/>
<circle cx="848.4" cy="1789.1" r="7.7" fill="#5a78e6"/>
<circle cx="795.6" cy="1778.3" r="7.7" fill="#5a78e6"/>
<circle cx="643.7" cy="1791.9" r="7.7" fill="#5a78e6"/>
<circle cx="707.6" cy="1777.0" r="7.7" fill="#5a78e6"/>
<circle cx="512.3" cy="1792.3" r="7.7" fill="#5a78e6"/>
<circle cx="851.7" cy="1786.1" r="7.7" fill="#5a78e6"/>
<circle cx="369.2" cy="1762.1" r="7.7" fill="#5a78e6"/>
<circle cx="803.7" cy="1775.3" r="7.7" fill="#5a78e6"/>
<circle cx="229.2" cy="1777.7" r="7.7" fill="#5a78e6"/>
<circle cx="450.9" cy="1782.1" r="7.7" fill="#5a78e6"/>
<circle cx="607.3" cy="1792.2" r="7.7" fill="#5a78e6"/>
<circle cx="767.7" cy="1778.2" r="7.7" fill="#5a78e6"/>
<circle cx="476.5" cy="1786.0" r="7.7" fill="#5a78e6"/>
<circle cx="306.2" cy="1761.6" r="7.7" fill="#5a78e6"/>
<circle cx="237.8" cy="1782.6" r="7.7" fill="#5a78e6"/>
<circle cx="816.4" cy="1787.3" r="7.7" fill="#5a78e6"/>
<circle cx="382.3" cy="1769.2" r="7.7" fill="#5a78e6"/>
<circle cx="423.0" cy="1778.1" r="7.7" fill="#5a78e6"/>
<circle cx="736.9" cy="1786.4" r="7.7" fill="#5a78e6"/>
<circle cx="295.3" cy="1762.6" r="7.7" fill="#5a78e6"/>
<circle cx="802.0" cy="1782.0" r="7.7" fill="#5a78e6"/>
<circle cx="721.1" cy="1794.0" r="7.7" fill="#5a78e6"/>
<circle cx="290.0" cy="1791.3" r="7.7" fill="#5a78e6"/>
<circle cx="279.9" cy="1779.2" r="7.7" fill="#5a78e6"/>
<circle cx="671.3" cy="1786.2" r="7.7" fill="#5a78e6"/>
<circle cx="228.5" cy="1782.0" r="7.7" fill="#5a78e6"/>
<circle cx="345.3" cy="1779.3" r="7.7" fill="#5a78e6"/>
<circle cx="318.9" cy="1790.0" r="7.7" fill="#5a78e6"/>
<circle cx="412.7" cy="1795.3" r="7.7" fill="#5a78e6"/>
<circle cx="401.8" cy="1766.9" r="7.7" fill="#5a78e6"/>
<circle cx="822.2" cy="1785.2" r="7.7" fill="#5a78e6"/>
<circle cx="814.8" cy="1775.3" r="7.7" fill="#5a78e6"/>
<circle cx="419.4" cy="1777.3" r="7.7" fill="#5a78e6"/>
<circle cx="714.0" cy="1780.3" r="7.7" fill="#5a78e6"/>
<circle cx="301.5" cy="1762.1" r="7.7" fill="#5a78e6"/>
<circle cx="273.1" cy="1798.6" r="7.7" fill="#5a78e6"/>
<circle cx="579.2" cy="1773.0" r="7.7" fill="#5a78e6"/>
<circle cx="265.1" cy="1786.6" r="7.7" fill="#5a78e6"/>
<circle cx="550.4" cy="1778.0" r="7.7" fill="#5a78e6"/>
<circle cx="291.7" cy="1793.0" r="7.7" fill="#5a78e6"/>
<circle cx="332.4" cy="1771.3" r="7.7" fill="#5a78e6"/>
<circle cx="648.5" cy="1783.3" r="7.7" fill="#5a78e6"/>
<circle cx="670.6" cy="1781.8" r="7.7" fill="#5a78e6"/>
<circle cx="180.9" cy="1787.2" r="7.7" fill="#5a78e6"/>
<circle cx="301.8" cy="1788.4" r="7.7" fill="#5a78e6"/>
<circle cx="357.8" cy="1771.4" r="7.7" fill="#5a78e6"/>
<circle cx="336.9" cy="1795.0" r="7.7" fill="#5a78e6"/>
<circle cx="402.4" cy="1788.2" r="7.7" fill="#5a78e6"/>
<circle cx="242.0" cy="1777.4" r="7.7" fill="#5a78e6"/>
<circle cx="442.9" cy="1788.4" r="7.7" fill="#5a78e6"/>
<circle cx="619.8" cy="1781.6" r="7.7" fill="#5a78e6"/>
<circle cx="673.4" cy="1793.3" r="7.7" fill="#5a78e6"/>
<circle cx="783.2" cy="1785.3" r="7.7" fill="#5a78e6"/>
<circle cx="598.6" cy="1791.2" r="7.7" fill="#5a78e6"/>
<circle cx="492.8" cy="1794.2" r="7.7" fill="#5a78e6"/>
<circle cx="541.8" cy="1779.6" r="7.7" fill="#5a78e6"/>
<circle cx="411.7" cy="1797.1" r="7.7" fill="#5a78e6"/>
<circle cx="432.2" cy="1791.0" r="7.7" fill="#5a78e6"/>
<circle cx="463.8" cy="1778.0" r="7.7" fill="#5a78e6"/>
<circle cx="509.5" cy="1789.4" r="7.7" fill="#5a78e6"/>
<circle cx="708.9" cy="1785.5" r="7.7" fill="#5a78e6"/>
<circle cx="575.6" cy="1791.0" r="7.7" fill="#5a78e6"/>
<circle cx="461.6" cy="1780.5" r="7.7" fill="#5a78e6"/>
<circle cx="202.5" cy="1778.8" r="7.7" fill="#5a78e6"/>
<circle cx="258.5" cy="1787.4" r="7.7" fill="#5a78e6"/>
<circle cx="654.6" cy="1782.7" r="7.7" fill="#5a78e6"/>
<circle cx="302.1" cy="1793.3" r="7.7" fill="#5a78e6"/>
<circle cx="562.2" cy="1773.7" r="7.7" fill="#5a78e6"/>
<circle cx="542.8" cy="1779.8" r="7.7" fill="#5a78e6"/>
<circle cx="779.9" cy="1796.1" r="7.7" fill="#5a78e6"/>
<circle cx="592.8" cy="1784.6" r="7.7" fill="#5a78e6"/>
<circle cx="801.5" cy="1798.0" r="7.7" fill="#5a78e6"/>
<circle cx="212.1" cy="1777.5" r="7.7" fill="#5a78e6"/>
<circle cx="830.8" cy="1791.6" r="7.7" fill="#5a78e6"/>
<circle cx="437.1" cy="1792.9" r="7.7" fill="#5a78e6"/>
<circle cx="677.9" cy="1777.9" r="7.7" fill="#5a78e6"/>
<circle cx="438.3" cy="1785.0" r="7.7" fill="#5a78e6"/>
<circle cx="755.8" cy="1781.4" r="7.7" fill="#5a78e6"/>
<circle cx="750.2" cy="1792.7" r="7.7" fill="#5a78e6"/>
<circle cx="554.3" cy="1777.0" r="7.7" fill="#5a78e6"/>
<circle cx="633.0" cy="1791.1" r="7.7" fill="#5a78e6"/>
<circle cx="567.6" cy="1795.6" r="7.7" fill="#5a78e6"/>
<circle cx="860.9" cy="1789.2" r="7.7" fill="#5a78e6"/>
<circle cx="222.5" cy="1793.6" r="7.7" fill="#5a78e6"/>
<circle cx="179.5" cy="1785.0" r="7.7" fill="#5a78e6"/>
<circle cx="797.9" cy="1786.6" r="7.7" fill="#5a78e6"/>
<circle cx="707.3" cy="1798.5" r="7.7" fill="#5a78e6"/>
<circle cx="212.1" cy="1786.8" r="7.7" fill="#5a78e6"/>
<circle cx="615.6" cy="1780.6" r="7.7" fill="#5a78e6"/>
<circle cx="254.0" cy="1782.8" r="7.7" fill="#5a78e6"/>
<circle cx="254.8" cy="1793.9" r="7.7" fill="#5a78e6"/>
<circle cx="579.3" cy="1790.4" r="7.7" fill="#5a78e6"/>
<circle cx="592.7" cy="1777.8" r="7.7" fill="#5a78e6"/>
<circle cx="305.9" cy="1789.0" r="7.7" fill="#5a78e6"/>
<circle cx="775.4" cy="1776.5" r="7.7" fill="#5a78e6"/>
<circle cx="215.7" cy="1780.4" r="7.7" fill="#5a78e6"/>
<circle cx="412.6" cy="1775.6" r="7.7" fill="#5a78e6"/>
<circle cx="762.1" cy="1779.3" r="7.7" fill="#5a78e6"/>
<circle cx="276.6" cy="1786.5" r="7.7" fill="#5a78e6"/>
<circle cx="392.8" cy="1796.6" r="7.7" fill="#5a78e6"/>
<circle cx="588.6" cy="1781.6" r="7.7" fill="#5a78e6"/>
<circle cx="311.8" cy="1782.1" r="7.7" fill="#5a78e6"/>
<circle cx="511.2" cy="1782.1" r="7.7" fill="#5a78e6"/>
<circle cx="215.7" cy="1777.0" r="7.7" fill="#5a78e6"/>
<circle cx="238.2" cy="1768.9" r="7.7" fill="#5a78e6"/>
<circle cx="273.8" cy="1786.5" r="7.7" fill="#5a78e6"/>
<circle cx="280.7" cy="1775.6" r="7.7" fill="#5a78e6"/>
<circle cx="287.8" cy="1768.2" r="7.7" fill="#5a78e6"/>
<circle cx="346.9" cy="1779.6" r="7.7" fill="#5a78e6"/>
<circle cx="403.7" cy="1767.4" r="7.7" fill="#5a78e6"/>
<circle cx="389.9" cy="1781.0" r="7.7" fill="#5a78e6"/>
<circle cx="369.6" cy="1786.1" r="7.7" fill="#5a78e6"/>
<circle cx="464.0" cy="1779.0" r="7.7" fill="#5a78e6"/>
<circle cx="496.1" cy="1776.0" r="7.7" fill="#5a78e6"/>
<circle cx="316.8" cy="1787.1" r="7.7" fill="#5a78e6"/>
<circle cx="331.0" cy="1787.7" r="7.7" fill="#5a78e6"/>
<circle cx="422.4" cy="1774.9" r="7.7" fill="#5a78e6"/>
<circle cx="450.8" cy="1784.1" r="7.7" fill="#5a78e6"/>
<circle cx="517.8" cy="1784.1" r="7.7" fill="#5a78e6"/>
<circle cx="539.1" cy="1759.7" r="7.7" fill="#5a78e6"/>
<circle cx="540.2" cy="1774.9" r="7.7" fill="#5a78e6"/>
<circle cx="588.3" cy="1772.9" r="7.7" fill="#5a78e6"/>
<circle cx="573.7" cy="1778.0" r="7.7" fill="#5a78e6"/>
<circle cx="563.5" cy="1776.0" r="7.7" fill="#5a78e6"/>
<circle cx="622.0" cy="1786.5" r="7.7" fill="#5a78e6"/>
<circle cx="672.1" cy="1781.0" r="7.7" fill="#5a78e6"/>
<circle cx="693.5" cy="1776.0" r="7.7" fill="#5a78e6"/>
<circle cx="709.3" cy="1776.4" r="7.7" fill="#5a78e6"/>
<circle cx="785.8" cy="1774.9" r="7.7" fill="#5a78e6"/>
<circle cx="806.5" cy="1780.0" r="7.7" fill="#5a78e6"/>
<circle cx="829.5" cy="1785.1" r="7.7" fill="#5a78e6"/>
<circle cx="855.9" cy="1785.5" r="7.7" fill="#5a78e6"/>
<circle cx="343.7" cy="1762.4" r="7.7" fill="#78f5f5"/>
<circle cx="342.0" cy="1756.5" r="7.7" fill="#78f5f5"/>
<circle cx="357.4" cy="1757.5" r="7.7" fill="#78f5f5"/>
<circle cx="357.9" cy="1759.3" r="7.7" fill="#78f5f5"/>
<circle cx="369.1" cy="1754.2" r="7.7" fill="#78f5f5"/>
<circle cx="376.7" cy="1758.4" r="7.7" fill="#78f5f5"/>
<circle cx="380.8" cy="1749.6" r="7.7" fill="#78f5f5"/>
<circle cx="409.7" cy="1748.8" r="7.7" fill="#78f5f5"/>
<circle cx="453.7" cy="1756.0" r="7.7" fill="#78f5f5"/>
<circle cx="605.9" cy="1762.4" r="7.7" fill="#78f5f5"/>
<circle cx="610.7" cy="1776.8" r="7.7" fill="#78f5f5"/>
<circle cx="612.3" cy="1761.7" r="7.7" fill="#78f5f5"/>
<circle cx="625.1" cy="1760.3" r="7.7" fill="#78f5f5"/>
<circle cx="639.2" cy="1770.0" r="7.7" fill="#78f5f5"/>
<circle cx="305.6" cy="1765.8" r="7.7" fill="#78f5f5"/>
<circle cx="321.3" cy="1766.8" r="7.7" fill="#78f5f5"/>
<circle cx="342.8" cy="1763.8" r="7.7" fill="#78f5f5"/>
<circle cx="345.2" cy="1754.6" r="7.7" fill="#78f5f5"/>
<circle cx="358.4" cy="1759.3" r="7.7" fill="#78f5f5"/>
<circle cx="367.6" cy="1754.6" r="7.7" fill="#78f5f5"/>
<circle cx="373.7" cy="1758.7" r="7.7" fill="#78f5f5"/>
<circle cx="379.3" cy="1751.6" r="7.7" fill="#78f5f5"/>
<circle cx="413.2" cy="1737.4" r="7.7" fill="#78f5f5"/>
<circle cx="417.3" cy="1761.3" r="7.7" fill="#78f5f5"/>
<circle cx="412.6" cy="1750.6" r="7.7" fill="#78f5f5"/>
<circle cx="452.8" cy="1754.2" r="7.7" fill="#78f5f5"/>
<circle cx="443.1" cy="1760.7" r="7.7" fill="#78f5f5"/>
<circle cx="484.3" cy="1760.1" r="7.7" fill="#78f5f5"/>
<circle cx="603.1" cy="1761.8" r="7.7" fill="#78f5f5"/>
<circle cx="609.2" cy="1773.9" r="7.7" fill="#78f5f5"/>
<circle cx="609.8" cy="1764.4" r="7.7" fill="#78f5f5"/>
<circle cx="625.4" cy="1759.3" r="7.7" fill="#78f5f5"/>
<circle cx="638.6" cy="1770.3" r="7.7" fill="#78f5f5"/>
<circle cx="704.6" cy="1790.8" r="7.7" fill="#78f5f5"/>
<circle cx="397.4" cy="1749.5" r="7.7" fill="#47e41f"/>
<circle cx="435.2" cy="1737.8" r="7.7" fill="#47e41f"/>
<circle cx="439.7" cy="1741.9" r="7.7" fill="#47e41f"/>
<circle cx="447.9" cy="1737.5" r="7.7" fill="#47e41f"/>
<circle cx="444.2" cy="1737.3" r="7.7" fill="#47e41f"/>
<circle cx="466.5" cy="1731.2" r="7.7" fill="#47e41f"/>
<circle cx="463.1" cy="1732.9" r="7.7" fill="#47e41f"/>
<circle cx="462.4" cy="1738.3" r="7.7" fill="#47e41f"/>
<circle cx="476.4" cy="1723.8" r="7.7" fill="#47e41f"/>
<circle cx="481.8" cy="1726.4" r="7.7" fill="#47e41f"/>
<circle cx="483.7" cy="1734.5" r="7.7" fill="#47e41f"/>
<circle cx="487.8" cy="1734.5" r="7.7" fill="#47e41f"/>
<circle cx="477.9" cy="1733.9" r="7.7" fill="#47e41f"/>
<circle cx="478.3" cy="1729.4" r="7.7" fill="#47e41f"/>
<circle cx="504.3" cy="1738.2" r="7.7" fill="#47e41f"/>
<circle cx="496.1" cy="1734.5" r="7.7" fill="#47e41f"/>
<circle cx="499.5" cy="1721.8" r="7.7" fill="#47e41f"/>
<circle cx="495.4" cy="1727.0" r="7.7" fill="#47e41f"/>
<circle cx="515.9" cy="1715.6" r="7.7" fill="#47e41f"/>
<circle cx="510.3" cy="1712.3" r="7.7" fill="#47e41f"/>
<circle cx="524.7" cy="1721.9" r="7.7" fill="#47e41f"/>
<circle cx="531.2" cy="1720.7" r="7.7" fill="#47e41f"/>
<circle cx="528.2" cy="1721.3" r="7.7" fill="#47e41f"/>
<circle cx="537.5" cy="1731.5" r="7.7" fill="#47e41f"/>
<circle cx="604.7" cy="1720.9" r="7.7" fill="#47e41f"/>
<circle cx="642.9" cy="1759.8" r="7.7" fill="#47e41f"/>
<circle cx="395.6" cy="1751.0" r="7.7" fill="#47e41f"/>
<circle cx="432.5" cy="1740.4" r="7.7" fill="#47e41f"/>
<circle cx="438.6" cy="1739.4" r="7.7" fill="#47e41f"/>
<circle cx="445.1" cy="1739.4" r="7.7" fill="#47e41f"/>
<circle cx="465.0" cy="1728.2" r="7.7" fill="#47e41f"/>
<circle cx="463.0" cy="1735.4" r="7.7" fill="#47e41f"/>
<circle cx="479.2" cy="1726.2" r="7.7" fill="#47e41f"/>
<circle cx="486.3" cy="1733.3" r="7.7" fill="#47e41f"/>
<circle cx="475.2" cy="1732.3" r="7.7" fill="#47e41f"/>
<circle cx="504.6" cy="1737.4" r="7.7" fill="#47e41f"/>
<circle cx="497.5" cy="1735.4" r="7.7" fill="#47e41f"/>
<circle cx="498.5" cy="1724.2" r="7.7" fill="#47e41f"/>
<circle cx="513.8" cy="1715.1" r="7.7" fill="#47e41f"/>
<circle cx="527.0" cy="1724.2" r="7.7" fill="#47e41f"/>
<circle cx="530.0" cy="1722.2" r="7.7" fill="#47e41f"/>
<circle cx="536.1" cy="1729.9" r="7.7" fill="#47e41f"/>
<circle cx="558.0" cy="1733.3" r="7.7" fill="#47e41f"/>
<circle cx="603.7" cy="1722.8" r="7.7" fill="#47e41f"/>
<circle cx="586.4" cy="1751.6" r="7.7" fill="#47e41f"/>
<circle cx="644.3" cy="1760.3" r="7.7" fill="#47e41f"/>
<circle cx="509.7" cy="1713.3" r="7.7" fill="#eda637"/>
<circle cx="514.7" cy="1702.9" r="7.7" fill="#eda637"/>
<circle cx="556.4" cy="1680.0" r="7.7" fill="#eda637"/>
<circle cx="551.4" cy="1680.4" r="7.7" fill="#eda637"/>
<circle cx="582.2" cy="1702.6" r="7.7" fill="#eda637"/>
<circle cx="576.4" cy="1702.2" r="7.7" fill="#eda637"/>
<circle cx="584.8" cy="1703.2" r="7.7" fill="#eda637"/>
<circle cx="547.8" cy="1715.4" r="7.7" fill="#eda637"/>
<circle cx="549.6" cy="1717.4" r="7.7" fill="#eda637"/>
<circle cx="569.5" cy="1723.9" r="7.7" fill="#eda637"/>
<circle cx="568.4" cy="1718.8" r="7.7" fill="#eda637"/>
<circle cx="578.1" cy="1720.9" r="7.7" fill="#eda637"/>
<circle cx="579.2" cy="1718.7" r="7.7" fill="#eda637"/>
<circle cx="604.5" cy="1743.0" r="7.7" fill="#eda637"/>
<circle cx="601.7" cy="1735.7" r="7.7" fill="#eda637"/>
<circle cx="590.8" cy="1730.8" r="7.7" fill="#eda637"/>
<circle cx="509.7" cy="1712.0" r="7.7" fill="#eda637"/>
<circle cx="511.3" cy="1703.9" r="7.7" fill="#eda637"/>
<circle cx="554.0" cy="1679.5" r="7.7" fill="#eda637"/>
<circle cx="578.7" cy="1700.8" r="7.7" fill="#eda637"/>
<circle cx="583.8" cy="1703.9" r="7.7" fill="#eda637"/>
<circle cx="547.3" cy="1716.1" r="7.7" fill="#eda637"/>
<circle cx="566.5" cy="1721.1" r="7.7" fill="#eda637"/>
<circle cx="580.2" cy="1718.1" r="7.7" fill="#eda637"/>
<circle cx="605.1" cy="1744.5" r="7.7" fill="#eda637"/>
<circle cx="601.1" cy="1734.9" r="7.7" fill="#eda637"/>
<circle cx="588.9" cy="1728.2" r="7.7" fill="#eda637"/>
<circle cx="515.8" cy="1684.0" r="7.7" fill="#ff2a18"/>
<circle cx="518.2" cy="1685.3" r="7.7" fill="#ff2a18"/>
<circle cx="526.0" cy="1681.6" r="7.7" fill="#ff2a18"/>
<circle cx="525.8" cy="1680.5" r="7.7" fill="#ff2a18"/>
<circle cx="519.7" cy="1694.4" r="7.7" fill="#ff2a18"/>
<circle cx="522.6" cy="1691.5" r="7.7" fill="#ff2a18"/>
<circle cx="529.1" cy="1687.3" r="7.7" fill="#ff2a18"/>
<circle cx="528.4" cy="1686.9" r="7.7" fill="#ff2a18"/>
<circle cx="543.5" cy="1683.7" r="7.7" fill="#ff2a18"/>
<circle cx="538.3" cy="1681.3" r="7.7" fill="#ff2a18"/>
<circle cx="527.6" cy="1690.8" r="7.7" fill="#ff2a18"/>
<circle cx="531.3" cy="1686.8" r="7.7" fill="#ff2a18"/>
<circle cx="569.6" cy="1695.2" r="7.7" fill="#ff2a18"/>
<circle cx="543.3" cy="1693.2" r="7.7" fill="#ff2a18"/>
<circle cx="545.4" cy="1693.1" r="7.7" fill="#ff2a18"/>
<circle cx="562.0" cy="1698.5" r="7.7" fill="#ff2a18"/>
<circle cx="562.3" cy="1696.7" r="7.7" fill="#ff2a18"/>
<circle cx="551.7" cy="1706.4" r="7.7" fill="#ff2a18"/>
<circle cx="551.1" cy="1707.3" r="7.7" fill="#ff2a18"/>
<circle cx="566.4" cy="1711.8" r="7.7" fill="#ff2a18"/>
<circle cx="568.3" cy="1713.7" r="7.7" fill="#ff2a18"/>
<circle cx="556.4" cy="1709.3" r="7.7" fill="#ff2a18"/>
<circle cx="554.0" cy="1708.5" r="7.7" fill="#ff2a18"/>
<circle cx="516.8" cy="1683.6" r="7.7" fill="#ff2a18"/>
<circle cx="522.9" cy="1679.5" r="7.7" fill="#ff2a18"/>
<circle cx="521.9" cy="1691.7" r="7.7" fill="#ff2a18"/>
<circle cx="529.0" cy="1688.7" r="7.7" fill="#ff2a18"/>
<circle cx="540.2" cy="1681.5" r="7.7" fill="#ff2a18"/>
<circle cx="531.0" cy="1688.7" r="7.7" fill="#ff2a18"/>
<circle cx="566.5" cy="1693.7" r="7.7" fill="#ff2a18"/>
<circle cx="545.2" cy="1694.3" r="7.7" fill="#ff2a18"/>
<circle cx="559.4" cy="1695.8" r="7.7" fill="#ff2a18"/>
<circle cx="549.3" cy="1707.9" r="7.7" fill="#ff2a18"/>
<circle cx="567.6" cy="1714.0" r="7.7" fill="#ff2a18"/>
<circle cx="555.4" cy="1710.0" r="7.7" fill="#ff2a18"/>
<path d="M534.1 1660.4L543.7 1670.0L534.1 1679.6L524.5 1670.0Z" fill="#c132fb" stroke="#000" stroke-width="3.3" stroke-linejoin="round"/>
</g>
<path d="M139.1 1657.4V1795.8M137.0 1795.8H928.3" stroke="#000" stroke-width="4.5" fill="none"/>
<text x="117.5" y="1695.2" class="a" text-anchor="end">9</text>
<text x="117.5" y="1732.1" class="a" text-anchor="end">6</text>
<text x="117.5" y="1768.7" class="a" text-anchor="end">3</text>
<text x="160.5" y="1837.3" class="a" text-anchor="middle">70.4</text>
<text x="304.0" y="1837.3" class="a" text-anchor="middle">70.6</text>
<text x="447.4" y="1837.3" class="a" text-anchor="middle">70.8</text>
<text x="590.9" y="1837.3" class="a" text-anchor="middle">71.0</text>
<text x="734.7" y="1837.3" class="a" text-anchor="middle">71.2</text>
<text x="878.2" y="1837.3" class="a" text-anchor="middle">71.4</text>
<path d="M126.8 1685.6H138.1M126.8 1722.5H138.1M126.8 1759.1H138.1M160.5 1796.8V1808.1M304.0 1796.8V1808.1M447.4 1796.8V1808.1M590.9 1796.8V1808.1M734.7 1796.8V1808.1M878.2 1796.8V1808.1" stroke="#333" stroke-width="4.1" fill="none"/>
<text x="533.7" y="1874.3" class="a" text-anchor="middle">Chromosome 3 (Mb)</text>
<text transform="translate(46.8 1726.9) rotate(-90)" class="a" text-anchor="middle">-log10P</text>
<g clip-path="url(#cgg)">
<text x="777.5" y="1980.3" class="g"><tspan class="ar" dy="-1.6">←</tspan><tspan dx="-3.0" dy="1.6">FOXP1</tspan></text>
<path d="M594.4 2034.7H936.1" stroke="#000" stroke-width="4.8" fill="none"/>
<path d="M594.4 2013.0H599.0V2056.3H594.4ZM601.1 2013.0H602.7V2056.3H601.1ZM603.5 2013.0H605.5V2056.3H603.5ZM606.8 2013.0H608.8V2056.3H606.8ZM610.2 2013.0H612.8V2056.3H610.2ZM618.5 2013.0H620.6V2056.3H618.5ZM627.7 2013.0H629.7V2056.3H627.7ZM638.4 2013.0H640.5V2056.3H638.4ZM656.5 2013.0H658.9V2056.3H656.5ZM661.0 2013.0H662.4V2056.3H661.0ZM663.0 2013.0H664.4V2056.3H663.0ZM665.6 2013.0H668.5V2056.3H665.6ZM674.6 2013.0H676.8V2056.3H674.6ZM709.3 2013.0H710.9V2056.3H709.3ZM722.9 2013.0H724.5V2056.3H722.9ZM772.0 2013.0H773.7V2056.3H772.0ZM806.5 2013.0H808.2V2056.3H806.5ZM844.1 2013.0H847.4V2056.3H844.1ZM849.8 2013.0H852.2V2056.3H849.8ZM868.5 2013.0H873.8V2056.3H868.5ZM890.0 2013.0H892.4V2056.3H890.0Z" fill="#000"/>
</g>
</g>
<g id="panel-h">
<text x="977.2" y="1604.2" class="pl">h</text>
<text x="1110.8" y="1627.7" class="t">Trait: Agathobaculum butyriciproducens; rsID: rs55808472</text>
<clipPath id="cph"><rect x="1111.3" y="1649.4" width="788.2" height="144.9"/></clipPath>
<clipPath id="cgh"><rect x="1108.8" y="1895.8" width="790.7" height="300"/></clipPath>
<line x1="1111.3" y1="1709.4" x2="1899.5" y2="1709.4" stroke="#bebebe" stroke-width="4" stroke-dasharray="18.6 19.5"/>
<g clip-path="url(#cph)" stroke="#000" stroke-width="3.3">
<circle cx="1548.3" cy="1790.2" r="7.7" fill="#5a78e6"/>
<circle cx="1284.2" cy="1785.8" r="7.7" fill="#5a78e6"/>
<circle cx="1498.7" cy="1786.0" r="7.7" fill="#5a78e6"/>
<circle cx="1824.3" cy="1793.4" r="7.7" fill="#5a78e6"/>
<circle cx="1211.3" cy="1795.8" r="7.7" fill="#5a78e6"/>
<circle cx="1403.9" cy="1797.6" r="7.7" fill="#5a78e6"/>
<circle cx="1677.8" cy="1773.4" r="7.7" fill="#5a78e6"/>
<circle cx="1174.9" cy="1779.8" r="7.7" fill="#5a78e6"/>
<circle cx="1844.6" cy="1795.4" r="7.7" fill="#5a78e6"/>
<circle cx="1792.6" cy="1788.6" r="7.7" fill="#5a78e6"/>
<circle cx="1294.8" cy="1797.1" r="7.7" fill="#5a78e6"/>
<circle cx="1446.8" cy="1774.4" r="7.7" fill="#5a78e6"/>
<circle cx="1841.9" cy="1774.0" r="7.7" fill="#5a78e6"/>
<circle cx="1408.2" cy="1794.4" r="7.7" fill="#5a78e6"/>
<circle cx="1380.7" cy="1789.9" r="7.7" fill="#5a78e6"/>
<circle cx="1748.9" cy="1779.9" r="7.7" fill="#5a78e6"/>
<circle cx="1785.5" cy="1798.5" r="7.7" fill="#5a78e6"/>
<circle cx="1167.7" cy="1782.8" r="7.7" fill="#5a78e6"/>
<circle cx="1607.0" cy="1791.1" r="7.7" fill="#5a78e6"/>
<circle cx="1433.9" cy="1796.3" r="7.7" fill="#5a78e6"/>
<circle cx="1343.4" cy="1777.7" r="7.7" fill="#5a78e6"/>
<circle cx="1358.3" cy="1764.3" r="7.7" fill="#5a78e6"/>
<circle cx="1267.6" cy="1790.8" r="7.7" fill="#5a78e6"/>
<circle cx="1419.8" cy="1792.4" r="7.7" fill="#5a78e6"/>
<circle cx="1306.9" cy="1788.2" r="7.7" fill="#5a78e6"/>
<circle cx="1744.1" cy="1785.2" r="7.7" fill="#5a78e6"/>
<circle cx="1242.6" cy="1790.2" r="7.7" fill="#5a78e6"/>
<circle cx="1728.8" cy="1785.1" r="7.7" fill="#5a78e6"/>
<circle cx="1229.3" cy="1788.0" r="7.7" fill="#5a78e6"/>
<circle cx="1311.0" cy="1798.5" r="7.7" fill="#5a78e6"/>
<circle cx="1700.5" cy="1790.2" r="7.7" fill="#5a78e6"/>
<circle cx="1444.4" cy="1787.2" r="7.7" fill="#5a78e6"/>
<circle cx="1542.1" cy="1794.0" r="7.7" fill="#5a78e6"/>
<circle cx="1596.6" cy="1780.6" r="7.7" fill="#5a78e6"/>
<circle cx="1190.5" cy="1796.3" r="7.7" fill="#5a78e6"/>
<circle cx="1360.6" cy="1783.0" r="7.7" fill="#5a78e6"/>
<circle cx="1463.6" cy="1789.6" r="7.7" fill="#5a78e6"/>
<circle cx="1826.7" cy="1791.8" r="7.7" fill="#5a78e6"/>
<circle cx="1409.6" cy="1768.5" r="7.7" fill="#5a78e6"/>
<circle cx="1619.3" cy="1771.7" r="7.7" fill="#5a78e6"/>
<circle cx="1403.1" cy="1768.5" r="7.7" fill="#5a78e6"/>
<circle cx="1670.6" cy="1796.1" r="7.7" fill="#5a78e6"/>
<circle cx="1303.3" cy="1790.8" r="7.7" fill="#5a78e6"/>
<circle cx="1179.5" cy="1778.4" r="7.7" fill="#5a78e6"/>
<circle cx="1642.4" cy="1771.6" r="7.7" fill="#5a78e6"/>
<circle cx="1305.0" cy="1793.4" r="7.7" fill="#5a78e6"/>
<circle cx="1754.6" cy="1777.7" r="7.7" fill="#5a78e6"/>
<circle cx="1391.4" cy="1791.4" r="7.7" fill="#5a78e6"/>
<circle cx="1609.7" cy="1772.2" r="7.7" fill="#5a78e6"/>
<circle cx="1791.9" cy="1790.3" r="7.7" fill="#5a78e6"/>
<circle cx="1742.8" cy="1781.3" r="7.7" fill="#5a78e6"/>
<circle cx="1693.3" cy="1783.3" r="7.7" fill="#5a78e6"/>
<circle cx="1551.5" cy="1788.6" r="7.7" fill="#5a78e6"/>
<circle cx="1204.8" cy="1795.2" r="7.7" fill="#5a78e6"/>
<circle cx="1679.7" cy="1786.8" r="7.7" fill="#5a78e6"/>
<circle cx="1231.3" cy="1793.1" r="7.7" fill="#5a78e6"/>
<circle cx="1473.1" cy="1771.4" r="7.7" fill="#5a78e6"/>
<circle cx="1613.9" cy="1771.7" r="7.7" fill="#5a78e6"/>
<circle cx="1712.2" cy="1783.0" r="7.7" fill="#5a78e6"/>
<circle cx="1649.1" cy="1771.4" r="7.7" fill="#5a78e6"/>
<circle cx="1861.4" cy="1798.3" r="7.7" fill="#5a78e6"/>
<circle cx="1341.2" cy="1788.8" r="7.7" fill="#5a78e6"/>
<circle cx="1705.4" cy="1782.0" r="7.7" fill="#5a78e6"/>
<circle cx="1736.7" cy="1784.4" r="7.7" fill="#5a78e6"/>
<circle cx="1415.4" cy="1768.1" r="7.7" fill="#5a78e6"/>
<circle cx="1534.8" cy="1797.8" r="7.7" fill="#5a78e6"/>
<circle cx="1529.1" cy="1793.7" r="7.7" fill="#5a78e6"/>
<circle cx="1369.1" cy="1798.8" r="7.7" fill="#5a78e6"/>
<circle cx="1765.7" cy="1780.1" r="7.7" fill="#5a78e6"/>
<circle cx="1780.3" cy="1785.0" r="7.7" fill="#5a78e6"/>
<circle cx="1391.3" cy="1768.8" r="7.7" fill="#5a78e6"/>
<circle cx="1359.3" cy="1791.4" r="7.7" fill="#5a78e6"/>
<circle cx="1316.2" cy="1793.4" r="7.7" fill="#5a78e6"/>
<circle cx="1606.1" cy="1787.6" r="7.7" fill="#5a78e6"/>
<circle cx="1652.7" cy="1788.1" r="7.7" fill="#5a78e6"/>
<circle cx="1322.7" cy="1791.6" r="7.7" fill="#5a78e6"/>
<circle cx="1833.2" cy="1788.2" r="7.7" fill="#5a78e6"/>
<circle cx="1685.7" cy="1785.7" r="7.7" fill="#5a78e6"/>
<circle cx="1249.2" cy="1789.1" r="7.7" fill="#5a78e6"/>
<circle cx="1221.0" cy="1787.7" r="7.7" fill="#5a78e6"/>
<circle cx="1445.1" cy="1781.9" r="7.7" fill="#5a78e6"/>
<circle cx="1362.2" cy="1766.2" r="7.7" fill="#5a78e6"/>
<circle cx="1161.6" cy="1782.4" r="7.7" fill="#5a78e6"/>
<circle cx="1590.8" cy="1774.0" r="7.7" fill="#5a78e6"/>
<circle cx="1522.1" cy="1798.1" r="7.7" fill="#5a78e6"/>
<circle cx="1255.1" cy="1785.2" r="7.7" fill="#5a78e6"/>
<circle cx="1213.8" cy="1795.1" r="7.7" fill="#5a78e6"/>
<circle cx="1470.9" cy="1789.1" r="7.7" fill="#5a78e6"/>
<circle cx="1753.1" cy="1781.1" r="7.7" fill="#5a78e6"/>
<circle cx="1340.7" cy="1772.7" r="7.7" fill="#5a78e6"/>
<circle cx="1792.6" cy="1784.0" r="7.7" fill="#5a78e6"/>
<circle cx="1593.9" cy="1797.7" r="7.7" fill="#5a78e6"/>
<circle cx="1335.9" cy="1774.6" r="7.7" fill="#5a78e6"/>
<circle cx="1454.1" cy="1774.9" r="7.7" fill="#5a78e6"/>
<circle cx="1397.2" cy="1781.6" r="7.7" fill="#5a78e6"/>
<circle cx="1596.6" cy="1772.3" r="7.7" fill="#5a78e6"/>
<circle cx="1214.2" cy="1788.6" r="7.7" fill="#5a78e6"/>
<circle cx="1634.1" cy="1783.3" r="7.7" fill="#5a78e6"/>
<circle cx="1713.3" cy="1788.6" r="7.7" fill="#5a78e6"/>
<circle cx="1655.2" cy="1777.0" r="7.7" fill="#5a78e6"/>
<circle cx="1196.4" cy="1793.2" r="7.7" fill="#5a78e6"/>
<circle cx="1464.3" cy="1785.9" r="7.7" fill="#5a78e6"/>
<circle cx="1672.5" cy="1772.5" r="7.7" fill="#5a78e6"/>
<circle cx="1724.1" cy="1785.5" r="7.7" fill="#5a78e6"/>
<circle cx="1637.5" cy="1782.2" r="7.7" fill="#5a78e6"/>
<circle cx="1349.3" cy="1772.6" r="7.7" fill="#5a78e6"/>
<circle cx="1666.8" cy="1770.4" r="7.7" fill="#5a78e6"/>
<circle cx="1827.1" cy="1779.7" r="7.7" fill="#5a78e6"/>
<circle cx="1374.2" cy="1774.6" r="7.7" fill="#5a78e6"/>
<circle cx="1803.0" cy="1798.1" r="7.7" fill="#5a78e6"/>
<circle cx="1505.3" cy="1790.1" r="7.7" fill="#5a78e6"/>
<circle cx="1788.3" cy="1782.2" r="7.7" fill="#5a78e6"/>
<circle cx="1628.2" cy="1786.3" r="7.7" fill="#5a78e6"/>
<circle cx="1389.5" cy="1795.1" r="7.7" fill="#5a78e6"/>
<circle cx="1452.5" cy="1792.0" r="7.7" fill="#5a78e6"/>
<circle cx="1665.2" cy="1791.2" r="7.7" fill="#5a78e6"/>
<circle cx="1272.3" cy="1788.8" r="7.7" fill="#5a78e6"/>
<circle cx="1660.2" cy="1769.6" r="7.7" fill="#5a78e6"/>
<circle cx="1605.3" cy="1769.3" r="7.7" fill="#5a78e6"/>
<circle cx="1729.1" cy="1790.7" r="7.7" fill="#5a78e6"/>
<circle cx="1759.0" cy="1781.9" r="7.7" fill="#5a78e6"/>
<circle cx="1689.3" cy="1778.4" r="7.7" fill="#5a78e6"/>
<circle cx="1560.9" cy="1795.8" r="7.7" fill="#5a78e6"/>
<circle cx="1154.4" cy="1786.6" r="7.7" fill="#5a78e6"/>
<circle cx="1442.9" cy="1775.3" r="7.7" fill="#5a78e6"/>
<circle cx="1396.5" cy="1797.6" r="7.7" fill="#5a78e6"/>
<circle cx="1616.2" cy="1778.0" r="7.7" fill="#5a78e6"/>
<circle cx="1160.3" cy="1788.5" r="7.7" fill="#5a78e6"/>
<circle cx="1414.4" cy="1785.7" r="7.7" fill="#5a78e6"/>
<circle cx="1602.0" cy="1793.4" r="7.7" fill="#5a78e6"/>
<circle cx="1515.5" cy="1789.9" r="7.7" fill="#5a78e6"/>
<circle cx="1684.6" cy="1782.3" r="7.7" fill="#5a78e6"/>
<circle cx="1456.0" cy="1792.9" r="7.7" fill="#5a78e6"/>
<circle cx="1850.0" cy="1785.2" r="7.7" fill="#5a78e6"/>
<circle cx="1247.4" cy="1788.0" r="7.7" fill="#5a78e6"/>
<circle cx="1642.7" cy="1779.8" r="7.7" fill="#5a78e6"/>
<circle cx="1481.8" cy="1781.1" r="7.7" fill="#5a78e6"/>
<circle cx="1179.0" cy="1797.4" r="7.7" fill="#5a78e6"/>
<circle cx="1436.1" cy="1773.0" r="7.7" fill="#5a78e6"/>
<circle cx="1773.1" cy="1780.6" r="7.7" fill="#5a78e6"/>
<circle cx="1417.6" cy="1792.8" r="7.7" fill="#5a78e6"/>
<circle cx="1480.0" cy="1774.4" r="7.7" fill="#5a78e6"/>
<circle cx="1693.4" cy="1787.7" r="7.7" fill="#5a78e6"/>
<circle cx="1384.1" cy="1768.1" r="7.7" fill="#5a78e6"/>
<circle cx="1409.8" cy="1778.9" r="7.7" fill="#5a78e6"/>
<circle cx="1572.0" cy="1796.5" r="7.7" fill="#5a78e6"/>
<circle cx="1484.8" cy="1787.6" r="7.7" fill="#5a78e6"/>
<circle cx="1473.5" cy="1793.1" r="7.7" fill="#5a78e6"/>
<circle cx="1715.8" cy="1781.8" r="7.7" fill="#5a78e6"/>
<circle cx="1634.4" cy="1772.0" r="7.7" fill="#5a78e6"/>
<circle cx="1782.7" cy="1783.6" r="7.7" fill="#5a78e6"/>
<circle cx="1516.3" cy="1794.7" r="7.7" fill="#5a78e6"/>
<circle cx="1340.7" cy="1797.6" r="7.7" fill="#5a78e6"/>
<circle cx="1279.1" cy="1788.1" r="7.7" fill="#5a78e6"/>
<circle cx="1854.6" cy="1797.2" r="7.7" fill="#5a78e6"/>
<circle cx="1699.1" cy="1783.9" r="7.7" fill="#5a78e6"/>
<circle cx="1466.0" cy="1773.2" r="7.7" fill="#5a78e6"/>
<circle cx="1366.8" cy="1771.2" r="7.7" fill="#5a78e6"/>
<circle cx="1643.1" cy="1791.9" r="7.7" fill="#5a78e6"/>
<circle cx="1842.1" cy="1792.3" r="7.7" fill="#5a78e6"/>
<circle cx="1149.0" cy="1798.5" r="7.7" fill="#5a78e6"/>
<circle cx="1350.3" cy="1765.9" r="7.7" fill="#5a78e6"/>
<circle cx="1626.4" cy="1772.9" r="7.7" fill="#5a78e6"/>
<circle cx="1584.2" cy="1776.9" r="7.7" fill="#5a78e6"/>
<circle cx="1184.2" cy="1785.3" r="7.7" fill="#5a78e6"/>
<circle cx="1590.2" cy="1793.3" r="7.7" fill="#5a78e6"/>
<circle cx="1381.0" cy="1773.5" r="7.7" fill="#5a78e6"/>
<circle cx="1847.6" cy="1784.5" r="7.7" fill="#5a78e6"/>
<circle cx="1819.5" cy="1777.6" r="7.7" fill="#5a78e6"/>
<circle cx="1383.8" cy="1795.2" r="7.7" fill="#5a78e6"/>
<circle cx="1684.0" cy="1775.3" r="7.7" fill="#5a78e6"/>
<circle cx="1360.0" cy="1771.7" r="7.7" fill="#5a78e6"/>
<circle cx="1748.5" cy="1784.2" r="7.7" fill="#5a78e6"/>
<circle cx="1837.1" cy="1775.6" r="7.7" fill="#5a78e6"/>
<circle cx="1149.5" cy="1791.0" r="7.7" fill="#5a78e6"/>
<circle cx="1221.0" cy="1798.2" r="7.7" fill="#5a78e6"/>
<circle cx="1428.4" cy="1793.3" r="7.7" fill="#5a78e6"/>
<circle cx="1780.1" cy="1779.5" r="7.7" fill="#5a78e6"/>
<circle cx="1387.5" cy="1793.5" r="7.7" fill="#5a78e6"/>
<circle cx="1571.4" cy="1796.4" r="7.7" fill="#5a78e6"/>
<circle cx="1398.4" cy="1771.1" r="7.7" fill="#5a78e6"/>
<circle cx="1767.6" cy="1782.6" r="7.7" fill="#5a78e6"/>
<circle cx="1510.5" cy="1789.0" r="7.7" fill="#5a78e6"/>
<circle cx="1582.0" cy="1797.2" r="7.7" fill="#5a78e6"/>
<circle cx="1618.7" cy="1776.8" r="7.7" fill="#5a78e6"/>
<circle cx="1286.9" cy="1793.8" r="7.7" fill="#5a78e6"/>
<circle cx="1422.9" cy="1782.5" r="7.7" fill="#5a78e6"/>
<circle cx="1186.3" cy="1781.5" r="7.7" fill="#5a78e6"/>
<circle cx="1810.7" cy="1777.3" r="7.7" fill="#5a78e6"/>
<circle cx="1505.4" cy="1789.8" r="7.7" fill="#5a78e6"/>
<circle cx="1608.9" cy="1779.0" r="7.7" fill="#5a78e6"/>
<circle cx="1312.8" cy="1791.8" r="7.7" fill="#5a78e6"/>
<circle cx="1331.6" cy="1784.5" r="7.7" fill="#5a78e6"/>
<circle cx="1837.0" cy="1790.2" r="7.7" fill="#5a78e6"/>
<circle cx="1262.9" cy="1784.7" r="7.7" fill="#5a78e6"/>
<circle cx="1854.9" cy="1786.4" r="7.7" fill="#5a78e6"/>
<circle cx="1289.3" cy="1785.7" r="7.7" fill="#5a78e6"/>
<circle cx="1484.2" cy="1798.7" r="7.7" fill="#5a78e6"/>
<circle cx="1236.6" cy="1794.3" r="7.7" fill="#5a78e6"/>
<circle cx="1579.1" cy="1786.8" r="7.7" fill="#5a78e6"/>
<circle cx="1264.5" cy="1795.9" r="7.7" fill="#5a78e6"/>
<circle cx="1760.3" cy="1778.7" r="7.7" fill="#5a78e6"/>
<circle cx="1191.1" cy="1790.1" r="7.7" fill="#5a78e6"/>
<circle cx="1491.8" cy="1785.1" r="7.7" fill="#5a78e6"/>
<circle cx="1335.7" cy="1786.4" r="7.7" fill="#5a78e6"/>
<circle cx="1524.0" cy="1788.7" r="7.7" fill="#5a78e6"/>
<circle cx="1805.6" cy="1779.5" r="7.7" fill="#5a78e6"/>
<circle cx="1256.5" cy="1793.4" r="7.7" fill="#5a78e6"/>
<circle cx="1351.6" cy="1793.7" r="7.7" fill="#5a78e6"/>
<circle cx="1655.5" cy="1771.5" r="7.7" fill="#5a78e6"/>
<circle cx="1649.7" cy="1784.2" r="7.7" fill="#5a78e6"/>
<circle cx="1329.2" cy="1780.8" r="7.7" fill="#5a78e6"/>
<circle cx="1343.9" cy="1769.6" r="7.7" fill="#5a78e6"/>
<circle cx="1468.4" cy="1776.5" r="7.7" fill="#5a78e6"/>
<circle cx="1813.3" cy="1780.0" r="7.7" fill="#5a78e6"/>
<circle cx="1422.5" cy="1773.0" r="7.7" fill="#5a78e6"/>
<circle cx="1796.6" cy="1796.4" r="7.7" fill="#5a78e6"/>
<circle cx="1715.2" cy="1796.9" r="7.7" fill="#5a78e6"/>
<circle cx="1566.7" cy="1796.4" r="7.7" fill="#5a78e6"/>
<circle cx="1346.5" cy="1770.9" r="7.7" fill="#5a78e6"/>
<circle cx="1166.8" cy="1797.9" r="7.7" fill="#5a78e6"/>
<circle cx="1427.9" cy="1773.7" r="7.7" fill="#5a78e6"/>
<circle cx="1773.6" cy="1798.2" r="7.7" fill="#5a78e6"/>
<circle cx="1372.8" cy="1795.5" r="7.7" fill="#5a78e6"/>
<circle cx="1366.2" cy="1790.7" r="7.7" fill="#5a78e6"/>
<circle cx="1171.5" cy="1788.2" r="7.7" fill="#5a78e6"/>
<circle cx="1664.9" cy="1786.1" r="7.7" fill="#5a78e6"/>
<circle cx="1647.5" cy="1785.7" r="7.7" fill="#5a78e6"/>
<circle cx="1833.9" cy="1777.2" r="7.7" fill="#5a78e6"/>
<circle cx="1707.7" cy="1794.3" r="7.7" fill="#5a78e6"/>
<circle cx="1363.2" cy="1788.0" r="7.7" fill="#5a78e6"/>
<circle cx="1859.9" cy="1787.3" r="7.7" fill="#5a78e6"/>
<circle cx="1660.0" cy="1785.6" r="7.7" fill="#5a78e6"/>
<circle cx="1461.8" cy="1773.7" r="7.7" fill="#5a78e6"/>
<circle cx="1818.1" cy="1780.5" r="7.7" fill="#5a78e6"/>
<circle cx="1205.2" cy="1795.2" r="7.7" fill="#5a78e6"/>
<circle cx="1799.9" cy="1780.6" r="7.7" fill="#5a78e6"/>
<circle cx="1548.0" cy="1793.3" r="7.7" fill="#5a78e6"/>
<circle cx="1459.0" cy="1775.5" r="7.7" fill="#5a78e6"/>
<circle cx="1296.3" cy="1788.4" r="7.7" fill="#5a78e6"/>
<circle cx="1222.8" cy="1762.2" r="7.7" fill="#5a78e6"/>
<circle cx="1215.3" cy="1769.3" r="7.7" fill="#5a78e6"/>
<circle cx="1221.2" cy="1774.3" r="7.7" fill="#5a78e6"/>
<circle cx="1251.3" cy="1743.1" r="7.7" fill="#5a78e6"/>
<circle cx="1401.5" cy="1740.8" r="7.7" fill="#5a78e6"/>
<circle cx="1486.4" cy="1750.6" r="7.7" fill="#5a78e6"/>
<circle cx="1356.9" cy="1757.7" r="7.7" fill="#5a78e6"/>
<circle cx="1363.4" cy="1760.3" r="7.7" fill="#5a78e6"/>
<circle cx="1389.3" cy="1766.8" r="7.7" fill="#5a78e6"/>
<circle cx="1405.2" cy="1768.9" r="7.7" fill="#5a78e6"/>
<circle cx="1338.0" cy="1784.7" r="7.7" fill="#5a78e6"/>
<circle cx="1352.8" cy="1785.7" r="7.7" fill="#5a78e6"/>
<circle cx="1376.8" cy="1781.6" r="7.7" fill="#5a78e6"/>
<circle cx="1394.4" cy="1779.0" r="7.7" fill="#5a78e6"/>
<circle cx="1411.1" cy="1781.6" r="7.7" fill="#5a78e6"/>
<circle cx="1426.3" cy="1778.4" r="7.7" fill="#5a78e6"/>
<circle cx="1456.3" cy="1785.1" r="7.7" fill="#5a78e6"/>
<circle cx="1477.7" cy="1768.5" r="7.7" fill="#5a78e6"/>
<circle cx="1468.5" cy="1772.3" r="7.7" fill="#5a78e6"/>
<circle cx="1167.0" cy="1780.0" r="7.7" fill="#5a78e6"/>
<circle cx="1153.2" cy="1786.1" r="7.7" fill="#5a78e6"/>
<circle cx="1184.3" cy="1777.0" r="7.7" fill="#5a78e6"/>
<circle cx="1568.4" cy="1752.6" r="7.7" fill="#5a78e6"/>
<circle cx="1556.2" cy="1764.8" r="7.7" fill="#5a78e6"/>
<circle cx="1590.4" cy="1753.2" r="7.7" fill="#5a78e6"/>
<circle cx="1598.5" cy="1744.5" r="7.7" fill="#5a78e6"/>
<circle cx="1786.3" cy="1763.8" r="7.7" fill="#5a78e6"/>
<circle cx="1791.0" cy="1757.7" r="7.7" fill="#5a78e6"/>
<circle cx="1518.9" cy="1786.1" r="7.7" fill="#5a78e6"/>
<circle cx="1550.8" cy="1782.1" r="7.7" fill="#5a78e6"/>
<circle cx="1538.6" cy="1789.2" r="7.7" fill="#5a78e6"/>
<circle cx="1605.0" cy="1771.9" r="7.7" fill="#5a78e6"/>
<circle cx="1627.9" cy="1772.9" r="7.7" fill="#5a78e6"/>
<circle cx="1644.2" cy="1772.5" r="7.7" fill="#5a78e6"/>
<circle cx="1656.3" cy="1772.5" r="7.7" fill="#5a78e6"/>
<circle cx="1679.7" cy="1773.5" r="7.7" fill="#5a78e6"/>
<circle cx="1704.1" cy="1780.0" r="7.7" fill="#5a78e6"/>
<circle cx="1735.5" cy="1785.1" r="7.7" fill="#5a78e6"/>
<circle cx="1772.1" cy="1778.0" r="7.7" fill="#5a78e6"/>
<circle cx="1719.3" cy="1789.8" r="7.7" fill="#5a78e6"/>
<circle cx="1592.4" cy="1790.2" r="7.7" fill="#5a78e6"/>
<circle cx="1617.8" cy="1790.8" r="7.7" fill="#5a78e6"/>
<circle cx="1676.6" cy="1790.8" r="7.7" fill="#5a78e6"/>
<circle cx="1848.8" cy="1788.6" r="7.7" fill="#5a78e6"/>
<circle cx="1195.8" cy="1759.3" r="7.7" fill="#78f5f5"/>
<circle cx="1551.2" cy="1727.2" r="7.7" fill="#78f5f5"/>
<circle cx="1808.6" cy="1781.4" r="7.7" fill="#78f5f5"/>
<circle cx="1800.5" cy="1781.0" r="7.7" fill="#78f5f5"/>
<circle cx="1829.9" cy="1778.0" r="7.7" fill="#78f5f5"/>
<circle cx="1842.7" cy="1772.9" r="7.7" fill="#78f5f5"/>
<circle cx="1474.2" cy="1733.9" r="7.7" fill="#47e41f"/>
<circle cx="1761.9" cy="1748.1" r="7.7" fill="#47e41f"/>
<circle cx="1781.2" cy="1743.9" r="7.7" fill="#47e41f"/>
<circle cx="1741.0" cy="1725.8" r="7.7" fill="#eda637"/>
<circle cx="1752.4" cy="1742.1" r="7.7" fill="#eda637"/>
<circle cx="1494.5" cy="1674.7" r="7.7" fill="#ff2a18"/>
<circle cx="1563.3" cy="1674.6" r="7.7" fill="#ff2a18"/>
<circle cx="1574.4" cy="1683.2" r="7.7" fill="#ff2a18"/>
<circle cx="1562.0" cy="1679.4" r="7.7" fill="#ff2a18"/>
<circle cx="1597.8" cy="1671.8" r="7.7" fill="#ff2a18"/>
<circle cx="1601.5" cy="1677.3" r="7.7" fill="#ff2a18"/>
<circle cx="1612.1" cy="1668.7" r="7.7" fill="#ff2a18"/>
<circle cx="1613.2" cy="1672.6" r="7.7" fill="#ff2a18"/>
<circle cx="1629.7" cy="1681.6" r="7.7" fill="#ff2a18"/>
<circle cx="1624.1" cy="1681.2" r="7.7" fill="#ff2a18"/>
<circle cx="1615.4" cy="1675.3" r="7.7" fill="#ff2a18"/>
<circle cx="1616.9" cy="1678.0" r="7.7" fill="#ff2a18"/>
<circle cx="1634.6" cy="1673.3" r="7.7" fill="#ff2a18"/>
<circle cx="1629.8" cy="1673.7" r="7.7" fill="#ff2a18"/>
<circle cx="1636.7" cy="1668.1" r="7.7" fill="#ff2a18"/>
<circle cx="1649.5" cy="1680.2" r="7.7" fill="#ff2a18"/>
<circle cx="1661.6" cy="1668.9" r="7.7" fill="#ff2a18"/>
<circle cx="1655.7" cy="1679.2" r="7.7" fill="#ff2a18"/>
<circle cx="1677.1" cy="1673.3" r="7.7" fill="#ff2a18"/>
<circle cx="1687.5" cy="1712.4" r="7.7" fill="#ff2a18"/>
<circle cx="1691.9" cy="1708.6" r="7.7" fill="#ff2a18"/>
<circle cx="1696.3" cy="1716.1" r="7.7" fill="#ff2a18"/>
<circle cx="1481.7" cy="1671.4" r="7.7" fill="#ff2a18"/>
<circle cx="1495.9" cy="1672.4" r="7.7" fill="#ff2a18"/>
<circle cx="1502.0" cy="1678.5" r="7.7" fill="#ff2a18"/>
<circle cx="1542.2" cy="1671.4" r="7.7" fill="#ff2a18"/>
<circle cx="1560.9" cy="1672.4" r="7.7" fill="#ff2a18"/>
<circle cx="1571.1" cy="1682.6" r="7.7" fill="#ff2a18"/>
<circle cx="1559.3" cy="1681.5" r="7.7" fill="#ff2a18"/>
<circle cx="1582.2" cy="1682.2" r="7.7" fill="#ff2a18"/>
<circle cx="1600.5" cy="1670.4" r="7.7" fill="#ff2a18"/>
<circle cx="1603.6" cy="1676.5" r="7.7" fill="#ff2a18"/>
<circle cx="1613.7" cy="1670.4" r="7.7" fill="#ff2a18"/>
<circle cx="1626.9" cy="1681.5" r="7.7" fill="#ff2a18"/>
<circle cx="1618.8" cy="1678.1" r="7.7" fill="#ff2a18"/>
<circle cx="1632.0" cy="1671.4" r="7.7" fill="#ff2a18"/>
<circle cx="1638.1" cy="1671.0" r="7.7" fill="#ff2a18"/>
<circle cx="1651.3" cy="1679.5" r="7.7" fill="#ff2a18"/>
<circle cx="1663.5" cy="1669.4" r="7.7" fill="#ff2a18"/>
<circle cx="1657.4" cy="1677.5" r="7.7" fill="#ff2a18"/>
<circle cx="1674.6" cy="1670.4" r="7.7" fill="#ff2a18"/>
<circle cx="1685.8" cy="1710.0" r="7.7" fill="#ff2a18"/>
<circle cx="1690.9" cy="1710.0" r="7.7" fill="#ff2a18"/>
<circle cx="1697.0" cy="1717.5" r="7.7" fill="#ff2a18"/>
<circle cx="1715.6" cy="1715.1" r="7.7" fill="#ff2a18"/>
<path d="M1505.5 1660.8L1515.1 1670.4L1505.5 1680.0L1495.9 1670.4Z" fill="#c132fb" stroke="#000" stroke-width="3.3" stroke-linejoin="round"/>
</g>
<path d="M1110.3 1657.4V1795.8M1108.2 1795.8H1899.5" stroke="#000" stroke-width="4.5" fill="none"/>
<text x="1088.7" y="1698.7" class="a" text-anchor="end">9</text>
<text x="1088.7" y="1734.3" class="a" text-anchor="end">6</text>
<text x="1088.7" y="1770.0" class="a" text-anchor="end">3</text>
<text x="1190.0" y="1837.3" class="a" text-anchor="middle">24.8</text>
<text x="1428.9" y="1837.3" class="a" text-anchor="middle">24.9</text>
<text x="1668.5" y="1837.3" class="a" text-anchor="middle">25.0</text>
<path d="M1098.0 1689.1H1109.3M1098.0 1724.7H1109.3M1098.0 1760.4H1109.3M1190.0 1796.8V1808.1M1428.9 1796.8V1808.1M1668.5 1796.8V1808.1" stroke="#333" stroke-width="4.1" fill="none"/>
<text x="1504.9" y="1874.3" class="a" text-anchor="middle">Chromosome 16 (Mb)</text>
<text transform="translate(1018.0 1726.9) rotate(-90)" class="a" text-anchor="middle">-log10P</text>
<g clip-path="url(#cgh)">
<text x="1108.6" y="1980.3" class="g">TNRC6A<tspan class="ar" dx="-1.3" dy="-1.6">→</tspan></text>
<text x="1348.7" y="1980.3" class="g">SLC5A11<tspan class="ar" dx="-2.3" dy="-1.6">→</tspan></text>
<text x="1549.9" y="1980.3" class="g"><tspan class="ar" dy="-1.6">←</tspan><tspan dx="-1.3" dy="1.6">ARHGAP17</tspan></text>
<path d="M1110.2 2034.7H1279.7M1322.3 2034.7H1484.8M1501.6 2034.7H1738.0" stroke="#000" stroke-width="4.8" fill="none"/>
<path d="M1110.2 2013.0H1111.4V2056.3H1110.2ZM1154.8 2013.0H1156.9V2056.3H1154.8ZM1157.9 2013.0H1159.9V2056.3H1157.9ZM1184.9 2013.0H1193.0V2056.3H1184.9ZM1195.0 2013.0H1196.4V2056.3H1195.0ZM1197.5 2013.0H1198.9V2056.3H1197.5ZM1199.9 2013.0H1201.5V2056.3H1199.9ZM1202.5 2013.0H1204.0V2056.3H1202.5ZM1204.6 2013.0H1208.2V2056.3H1204.6ZM1220.4 2013.0H1229.3V2056.3H1220.4ZM1233.4 2013.0H1236.0V2056.3H1233.4ZM1247.6 2013.0H1253.9V2056.3H1247.6ZM1255.9 2013.0H1257.4V2056.3H1255.9ZM1258.4 2013.0H1259.6V2056.3H1258.4ZM1260.4 2013.0H1262.0V2056.3H1260.4ZM1264.5 2013.0H1276.6V2056.3H1264.5ZM1278.3 2013.0H1279.9V2056.3H1278.3ZM1322.3 2013.0H1326.4V2056.3H1322.3ZM1353.8 2013.0H1357.1V2056.3H1353.8ZM1361.9 2013.0H1365.4V2056.3H1361.9ZM1381.6 2013.0H1383.0V2056.3H1381.6ZM1386.5 2013.0H1388.1V2056.3H1386.5ZM1395.4 2013.0H1396.9V2056.3H1395.4ZM1398.9 2013.0H1401.3V2056.3H1398.9ZM1415.7 2013.0H1417.4V2056.3H1415.7ZM1432.4 2013.0H1434.4V2056.3H1432.4ZM1449.6 2013.0H1451.5V2056.3H1449.6ZM1470.6 2013.0H1478.1V2056.3H1470.6ZM1479.7 2013.0H1484.8V2056.3H1479.7ZM1501.6 2013.0H1507.3V2056.3H1501.6ZM1521.9 2013.0H1524.0V2056.3H1521.9ZM1527.4 2013.0H1532.5V2056.3H1527.4ZM1541.2 2013.0H1545.7V2056.3H1541.2ZM1550.8 2013.0H1553.2V2056.3H1550.8ZM1556.4 2013.0H1558.9V2056.3H1556.4ZM1560.9 2013.0H1563.4V2056.3H1560.9ZM1570.1 2013.0H1572.1V2056.3H1570.1ZM1574.1 2013.0H1576.8V2056.3H1574.1ZM1582.2 2013.0H1585.3V2056.3H1582.2ZM1587.7 2013.0H1595.8V2056.3H1587.7ZM1599.9 2013.0H1602.5V2056.3H1599.9ZM1611.1 2013.0H1613.1V2056.3H1611.1ZM1621.2 2013.0H1623.9V2056.3H1621.2ZM1625.9 2013.0H1628.3V2056.3H1625.9ZM1631.0 2013.0H1633.0V2056.3H1631.0ZM1643.1 2013.0H1645.2V2056.3H1643.1ZM1646.8 2013.0H1648.8V2056.3H1646.8ZM1732.5 2013.0H1734.1V2056.3H1732.5ZM1735.5 2013.0H1738.0V2056.3H1735.5Z" fill="#000"/>
</g>
</g>
<g id="legend">
<text x="2059.5" y="902.9" class="lt">r<tspan dy="-10.8" font-size="15.3">2</tspan></text>
<path d="M2002.3 949.0L2011.9 958.6L2002.3 968.2L1992.7 958.6Z" fill="#c132fb" stroke="#000" stroke-width="3.3" stroke-linejoin="round"/>
<text x="2056.4" y="966.0" class="l">Index SNP</text>
<circle cx="2002.3" cy="1016.5" r="7.7" fill="#ff2a18" stroke="#000" stroke-width="3.3"/>
<text x="2056.4" y="1023.9" class="l">0.8 - 1.0</text>
<circle cx="2002.3" cy="1074.4" r="7.7" fill="#eda637" stroke="#000" stroke-width="3.3"/>
<text x="2056.4" y="1081.8" class="l">0.6 - 0.8</text>
<circle cx="2002.3" cy="1132.3" r="7.7" fill="#47e41f" stroke="#000" stroke-width="3.3"/>
<text x="2056.4" y="1139.7" class="l">0.4 - 0.6</text>
<circle cx="2002.3" cy="1190.2" r="7.7" fill="#78f5f5" stroke="#000" stroke-width="3.3"/>
<text x="2056.4" y="1197.6" class="l">0.2 - 0.4</text>
<circle cx="2002.3" cy="1248.1" r="7.7" fill="#5a78e6" stroke="#000" stroke-width="3.3"/>
<text x="2056.4" y="1255.5" class="l">0.0 - 0.2</text>
</g>
</svg>
</body></html>
